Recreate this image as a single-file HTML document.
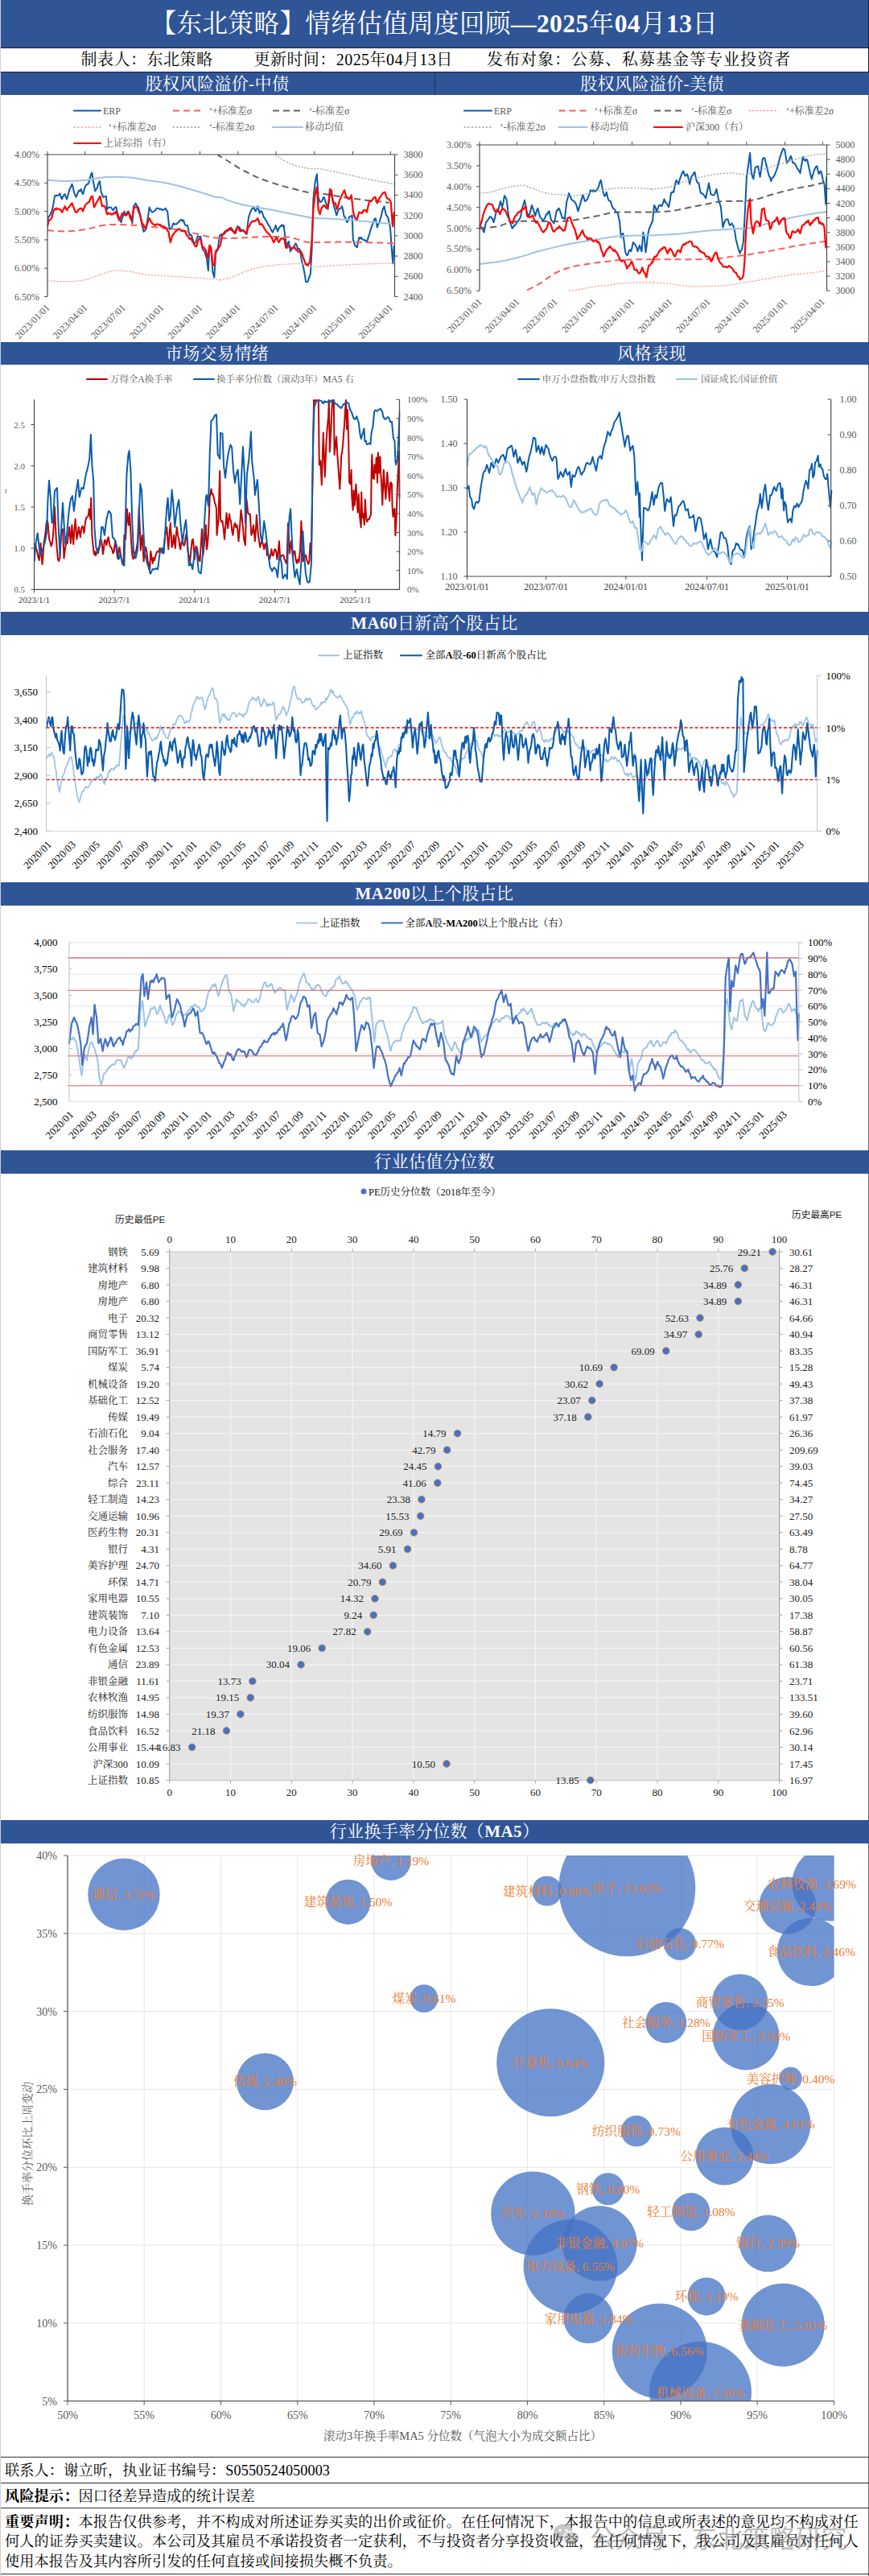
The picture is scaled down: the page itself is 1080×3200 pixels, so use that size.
<!DOCTYPE html>
<html lang="zh"><head><meta charset="utf-8"><title>情绪估值周度回顾</title>
<style>
html,body{margin:0;padding:0;background:#fff}
body{width:1080px;height:3200px;position:relative;overflow:hidden;font-family:"Liberation Serif","Noto Serif CJK SC",serif;color:#000}
.bar{position:absolute;background:#2F5597;color:#fff;text-align:center;white-space:nowrap;letter-spacing:0.4px}
.bar b{font-weight:bold}
.hl{position:absolute;left:0;width:1080px;height:1px;background:#1a1a2a}
.info{position:absolute;top:60px;height:29px;line-height:29px;font-size:20px;white-space:nowrap;letter-spacing:0.5px}
.ft{position:absolute;left:6px;font-size:18.2px;white-space:nowrap;letter-spacing:0.1px}
.edgeL{position:absolute;left:0;top:0;width:1px;height:3200px;background:#D0D0D0}
.edgeR{position:absolute;left:1078.8px;top:0;width:1.2px;height:3200px;background:#6a6a6a}
svg text{font-family:"Liberation Serif","Noto Serif CJK SC",serif}
.wm{position:absolute;left:733px;top:3132px;font-size:32px;line-height:44px;color:#6e6e6e;opacity:.45;font-family:"Liberation Sans","Noto Sans CJK SC",sans-serif;white-space:nowrap;letter-spacing:0.3px}
</style></head><body>
<div class="edgeR"></div>
<div class="bar" style="left:0;top:0;width:1080px;height:59px;line-height:60px;font-size:31.5px;letter-spacing:0.45px">【东北策略】情绪估值周度回顾<b>—2025</b>年<b>04</b>月<b>13</b>日</div>
<div class="hl" style="top:59px"></div>
<div class="hl" style="top:89px"></div>
<div class="info" style="left:100.5px">制表人：东北策略</div>
<div class="info" style="left:315.5px;letter-spacing:0.45px">更新时间：2025年04月13日</div>
<div class="info" style="left:605px;letter-spacing:1px">发布对象：公募、私募基金等专业投资者</div>
<div class="bar" style="left:0px;top:90px;width:540px;height:28px;line-height:28px;font-size:21px">股权风险溢价-中债</div>
<div class="bar" style="left:541px;top:90px;width:539px;height:28px;line-height:28px;font-size:21px">股权风险溢价-美债</div>
<div style="position:absolute;left:540px;top:90px;width:1px;height:28px;background:#1b2f55"></div>
<div class="bar" style="left:0px;top:425px;width:540px;height:28px;line-height:28px;font-size:21px">市场交易情绪</div>
<div class="bar" style="left:540px;top:425px;width:540px;height:28px;line-height:28px;font-size:21px">风格表现</div>
<div class="bar" style="left:0px;top:760px;width:1080px;height:29px;line-height:29px;font-size:21px"><b>MA60</b>日新高个股占比</div>
<div class="bar" style="left:0px;top:1096px;width:1080px;height:29px;line-height:29px;font-size:21px"><b>MA200</b>以上个股占比</div>
<div class="bar" style="left:0px;top:1429px;width:1080px;height:28.5px;line-height:28.5px;font-size:21px">行业估值分位数</div>
<div class="bar" style="left:0px;top:2261px;width:1080px;height:28.5px;line-height:28.5px;font-size:21px">行业换手率分位数（<b>MA5</b>）</div>
<svg width="1080" height="3200" viewBox="0 0 1080 3200" style="position:absolute;left:0;top:0">
<defs>
<clipPath id="cp1"><rect x="59" y="192" width="431.5" height="177"/></clipPath>
<clipPath id="cp2"><rect x="596" y="180" width="431.5" height="182"/></clipPath>
<clipPath id="cp3"><rect x="42.5" y="496.3" width="455" height="237"/></clipPath>
<clipPath id="cpb"><rect x="84" y="2305" width="952.5" height="677.7"/></clipPath>
</defs>
<g clip-path="url(#cp1)">
<path d="M59.0,273.6 L60.5,269.5 L62.0,267.4 L63.2,265.0 L64.5,261.4 L65.7,257.4 L67.0,249.6 L68.2,242.9 L69.5,242.9 L70.7,242.8 L72.0,242.9 L73.2,242.1 L74.5,240.4 L75.7,244.7 L77.0,247.4 L78.2,244.2 L79.5,241.9 L80.7,241.2 L82.0,245.2 L83.2,247.4 L84.8,241.0 L86.5,234.9 L88.0,232.5 L89.5,228.7 L90.7,232.5 L92.0,238.7 L93.2,241.7 L94.5,244.9 L95.7,242.4 L97.0,238.7 L98.2,236.6 L99.5,237.5 L100.7,234.9 L101.9,239.1 L103.2,241.2 L104.4,236.2 L105.7,232.5 L106.9,229.9 L108.2,228.8 L109.4,228.8 L110.7,226.2 L111.9,220.9 L113.2,216.2 L114.4,214.5 L115.7,225.0 L116.9,230.5 L118.2,237.4 L119.4,235.3 L120.7,233.7 L122.3,228.1 L123.9,225.0 L125.7,238.7 L126.9,241.1 L128.2,244.9 L129.4,244.3 L130.7,244.1 L131.9,243.7 L133.2,259.9 L134.4,258.3 L135.7,257.4 L136.9,257.4 L138.2,257.8 L139.4,259.8 L140.7,261.2 L141.9,259.3 L143.2,257.2 L144.4,257.4 L145.6,263.2 L146.9,267.4 L148.1,270.5 L149.4,273.6 L150.6,276.1 L151.9,270.8 L153.1,268.2 L154.4,262.4 L155.6,265.9 L156.9,267.4 L158.1,263.9 L159.4,262.4 L160.6,264.4 L161.9,268.0 L163.1,269.9 L164.4,277.4 L166.1,256.2 L167.4,254.9 L168.6,252.4 L170.2,256.2 L171.9,257.4 L173.1,262.2 L174.4,267.4 L175.6,275.0 L176.9,281.1 L178.6,287.9 L180.2,286.3 L181.9,283.6 L183.1,274.5 L184.4,266.3 L185.6,257.4 L186.9,260.6 L188.1,262.6 L189.3,263.7 L190.6,262.8 L191.8,262.3 L193.1,261.2 L194.3,258.9 L195.6,258.7 L196.8,258.7 L198.1,260.2 L199.3,259.7 L200.6,259.5 L201.8,261.2 L203.1,260.5 L204.3,260.1 L205.6,258.7 L206.8,261.0 L208.1,262.4 L209.3,273.4 L210.6,284.9 L211.8,284.1 L213.1,283.6 L214.3,280.5 L215.6,277.4 L216.8,278.7 L218.1,278.3 L219.3,278.6 L220.6,277.1 L221.8,276.1 L223.1,274.9 L224.3,273.1 L225.6,272.8 L226.8,274.6 L228.1,273.6 L229.3,278.1 L230.6,279.9 L231.8,280.2 L233.0,279.9 L234.3,285.9 L235.5,292.4 L236.8,291.3 L238.0,292.4 L239.3,296.8 L240.5,301.1 L241.8,302.7 L243.0,301.1 L244.3,298.1 L245.5,293.6 L246.8,293.8 L248.0,294.8 L249.3,293.6 L250.5,301.2 L251.8,309.9 L253.0,311.1 L254.3,312.4 L255.5,317.3 L256.8,319.8 L258.8,336.1 L260.5,304.9 L262.3,309.9 L264.3,337.3 L266.3,344.8 L268.0,314.9 L269.3,312.6 L270.5,309.9 L271.8,301.0 L273.0,292.4 L274.0,292.4 L275.2,290.8 L276.5,290.9 L277.7,289.9 L279.0,290.4 L280.2,286.7 L281.5,287.4 L282.7,287.0 L284.0,285.8 L285.2,283.6 L286.5,285.6 L287.7,286.0 L289.0,286.1 L290.2,288.3 L291.5,288.7 L292.7,289.9 L294.0,285.7 L295.2,281.1 L296.5,282.2 L297.7,282.3 L299.0,284.9 L300.2,286.8 L301.5,286.8 L302.7,287.4 L304.0,287.7 L305.2,289.9 L306.5,291.1 L307.7,280.5 L309.0,269.9 L310.2,266.2 L311.5,262.8 L312.7,259.9 L314.0,258.8 L315.2,257.4 L316.5,260.3 L317.7,262.4 L318.9,259.6 L320.2,256.2 L321.4,260.4 L322.7,264.9 L323.9,262.3 L325.2,262.4 L326.4,265.5 L327.7,269.9 L328.9,270.6 L330.2,273.5 L331.4,274.9 L332.7,278.0 L333.9,279.9 L335.2,281.1 L336.4,284.5 L337.7,287.0 L338.9,288.6 L340.2,285.1 L341.4,283.7 L342.7,279.9 L343.9,284.1 L345.2,287.4 L346.4,284.1 L347.7,281.9 L348.9,281.1 L350.2,279.2 L351.4,281.1 L352.7,279.9 L354.4,294.9 L356.4,306.1 L357.7,302.3 L358.9,299.9 L360.9,312.4 L362.4,309.3 L363.9,308.6 L365.1,306.9 L366.4,304.0 L367.6,302.4 L368.9,305.0 L370.1,309.9 L371.4,308.8 L372.6,309.9 L373.9,317.4 L375.1,324.8 L376.4,329.0 L377.6,334.8 L378.9,341.8 L380.1,349.8 L381.4,350.5 L382.6,349.8 L384.2,344.7 L385.9,339.8 L387.6,309.9 L389.4,247.4 L391.4,227.5 L392.6,221.4 L393.9,216.2 L395.6,244.9 L397.6,251.2 L398.9,250.5 L400.1,249.9 L401.4,246.1 L402.6,244.9 L403.9,248.4 L405.1,252.4 L406.3,256.0 L407.6,259.9 L408.8,248.7 L410.1,238.7 L411.3,240.8 L412.6,244.9 L413.8,251.5 L415.1,256.2 L416.7,261.8 L418.3,267.4 L419.8,262.9 L421.3,259.9 L422.6,259.0 L423.8,258.4 L425.1,256.2 L426.3,261.3 L427.6,268.7 L428.8,269.8 L430.1,272.7 L431.3,276.1 L432.6,274.3 L433.8,270.2 L435.1,268.7 L436.3,268.7 L437.6,267.4 L438.8,297.4 L440.1,301.6 L441.3,304.9 L442.6,306.2 L443.8,307.4 L445.1,300.5 L446.3,294.9 L447.6,296.4 L448.8,294.9 L450.0,297.0 L451.3,297.4 L452.5,298.6 L453.8,298.2 L455.0,299.9 L456.3,299.9 L457.5,295.4 L458.8,291.7 L460.0,287.4 L461.3,283.2 L462.5,280.2 L463.8,276.1 L465.3,272.4 L466.8,271.2 L468.8,282.4 L470.0,278.5 L471.3,277.0 L472.5,272.4 L473.8,268.3 L475.0,262.4 L476.3,258.8 L477.5,256.2 L478.8,262.6 L480.0,267.4 L481.3,268.7 L482.5,271.2 L483.8,277.8 L485.0,282.4 L486.8,309.9 L488.3,327.3 L489.5,307.4 L490.3,304.9" fill="none" stroke="#0A5CAD" stroke-width="2" stroke-linejoin="round" stroke-linecap="round"/>
<path d="M342.7,192.5 C343.7,193.2 345.8,195.1 348.9,197.0 C352.0,198.9 357.2,202.0 361.4,203.7 C365.6,205.5 369.7,206.5 373.9,207.5 C378.0,208.4 382.2,209.1 386.4,209.5 C390.5,209.9 392.6,209.1 398.9,210.0 C405.1,210.9 415.5,213.2 423.8,215.0 C432.2,216.8 440.5,218.9 448.8,220.7 C457.1,222.5 466.9,224.4 473.8,225.7 C480.7,227.0 487.5,228.2 490.3,228.7" fill="none" stroke="#ADADAD" stroke-width="1.4" stroke-linecap="round" stroke-dasharray="1.2 2.8"/>
<path d="M59.0,348.6 C62.8,348.8 74.0,350.0 82.0,349.8 C90.0,349.6 98.6,349.2 106.9,347.3 C115.3,345.4 125.7,340.4 131.9,338.6 C138.2,336.7 139.4,336.3 144.4,336.1 C149.4,335.9 155.6,336.5 161.9,337.3 C168.1,338.2 174.4,340.2 181.9,341.1 C189.3,342.0 198.5,342.3 206.8,342.8 C215.2,343.4 223.5,343.8 231.8,344.3 C240.1,344.9 249.8,345.5 256.8,346.1 C263.8,346.6 270.9,347.5 273.8,347.8 C276.6,348.1 271.9,348.3 274.0,347.8 C276.1,347.3 282.3,346.1 286.5,344.8 C290.6,343.5 294.8,341.5 299.0,339.8 C303.1,338.2 307.3,336.2 311.5,334.8 C315.6,333.5 317.7,332.9 323.9,331.8 C330.2,330.8 340.6,329.3 348.9,328.6 C357.2,327.9 367.6,327.4 373.9,327.8 C380.1,328.3 382.2,330.5 386.4,331.1 C390.5,331.6 392.6,331.4 398.9,331.1 C405.1,330.8 415.5,329.8 423.8,329.3 C432.2,328.8 440.5,328.4 448.8,328.1 C457.1,327.8 466.9,327.5 473.8,327.3 C480.7,327.1 487.5,326.9 490.3,326.8" fill="none" stroke="#FFA3A3" stroke-width="1.4" stroke-linecap="round" stroke-dasharray="1.2 2.8"/>
<path d="M270.5,192.5 C271.0,192.8 273.2,194.2 273.8,194.5 C274.3,194.8 271.9,193.2 274.0,194.5 C276.1,195.7 282.3,199.4 286.5,202.0 C290.6,204.6 294.8,207.6 299.0,210.0 C303.1,212.3 307.3,214.2 311.5,216.2 C315.6,218.2 317.7,219.6 323.9,222.0 C330.2,224.3 340.6,228.0 348.9,230.4 C357.2,232.9 367.6,235.4 373.9,236.9 C380.1,238.4 382.2,238.9 386.4,239.4 C390.5,240.0 392.6,239.6 398.9,240.4 C405.1,241.3 415.5,243.2 423.8,244.4 C432.2,245.7 442.6,247.1 448.8,247.9 C455.0,248.8 457.1,249.0 461.3,249.4 C465.4,249.8 470.0,250.0 473.8,250.4 C477.5,250.8 482.1,251.7 483.8,251.9" fill="none" stroke="#636363" stroke-width="2" stroke-linecap="butt" stroke-dasharray="8 5"/>
<path d="M59.0,286.1 C62.8,286.3 74.0,287.6 82.0,287.4 C90.0,287.2 98.6,286.2 106.9,284.9 C115.3,283.6 122.8,280.3 131.9,279.4 C141.1,278.5 153.6,279.1 161.9,279.4 C170.2,279.7 174.4,280.4 181.9,281.1 C189.3,281.8 198.5,282.6 206.8,283.6 C215.2,284.7 223.5,285.7 231.8,287.4 C240.1,289.0 249.8,292.2 256.8,293.6 C263.8,295.1 270.9,295.7 273.8,296.1 C276.6,296.5 269.8,296.2 274.0,296.1 C278.2,296.0 290.6,296.0 299.0,295.6 C307.3,295.3 315.6,294.4 323.9,294.1 C332.3,293.9 342.7,294.0 348.9,294.1 C355.2,294.2 357.2,294.1 361.4,294.9 C365.6,295.6 370.1,297.6 373.9,298.6 C377.6,299.7 379.7,300.7 383.9,301.1 C388.0,301.5 392.2,301.2 398.9,301.1 C405.5,301.0 415.5,300.6 423.8,300.6 C432.2,300.6 440.5,300.9 448.8,301.1 C457.1,301.3 466.9,301.4 473.8,301.6 C480.7,301.8 487.5,302.2 490.3,302.4" fill="none" stroke="#FF5C5C" stroke-width="2" stroke-linecap="butt" stroke-dasharray="8 5"/>
<path d="M59.0,223.7 C62.8,223.9 74.0,225.0 82.0,225.0 C90.0,225.0 98.6,224.5 106.9,223.7 C115.3,222.9 122.8,220.5 131.9,220.0 C141.1,219.4 153.6,219.8 161.9,220.5 C170.2,221.1 174.4,222.5 181.9,223.7 C189.3,224.9 198.5,225.8 206.8,227.5 C215.2,229.1 223.5,231.4 231.8,233.7 C240.1,236.0 250.5,239.3 256.8,241.2 C263.0,243.1 266.4,244.3 269.3,244.9 C272.1,245.6 273.0,244.9 273.8,244.9 C274.5,244.9 271.9,244.1 274.0,244.9 C276.1,245.8 282.3,248.5 286.5,249.9 C290.6,251.4 294.8,252.6 299.0,253.7 C303.1,254.7 307.3,255.4 311.5,256.2 C315.6,256.9 317.7,257.0 323.9,258.2 C330.2,259.3 340.6,261.3 348.9,262.9 C357.2,264.5 367.6,266.7 373.9,267.9 C380.1,269.2 382.2,269.9 386.4,270.4 C390.5,270.9 392.6,270.8 398.9,271.2 C405.1,271.5 415.5,271.9 423.8,272.4 C432.2,272.9 440.5,273.6 448.8,274.4 C457.1,275.1 466.9,276.3 473.8,276.9 C480.7,277.5 487.5,277.7 490.3,277.9" fill="none" stroke="#9DC3E6" stroke-width="2" stroke-linecap="round"/>
<path d="M59.0,281.1 L60.7,273.6 L62.0,273.6 L63.2,272.3 L64.5,269.9 L65.7,264.6 L67.0,261.2 L68.2,259.2 L69.5,260.4 L70.7,258.7 L72.0,259.7 L73.2,260.0 L74.5,259.9 L75.7,261.3 L77.0,263.7 L78.2,261.4 L79.5,258.9 L80.7,256.2 L82.0,258.9 L83.2,261.2 L84.5,258.4 L85.7,257.4 L87.0,255.6 L88.2,253.8 L89.5,252.4 L90.7,256.1 L92.0,258.7 L93.2,262.4 L94.5,263.7 L95.7,263.6 L97.0,261.3 L98.2,259.9 L99.5,259.1 L100.7,258.7 L101.9,260.0 L103.2,262.4 L104.4,258.4 L105.7,255.5 L106.9,253.7 L108.2,252.7 L109.4,251.5 L110.7,251.2 L111.9,247.8 L113.2,244.9 L114.9,243.7 L116.9,257.4 L118.2,255.9 L119.4,252.4 L120.9,250.0 L122.4,247.4 L124.4,243.7 L125.7,250.0 L126.9,256.2 L128.2,255.9 L129.4,255.7 L130.7,257.4 L131.9,261.4 L133.2,266.2 L134.4,264.7 L135.7,265.4 L136.9,264.9 L138.2,266.7 L139.4,266.2 L140.7,266.2 L141.9,264.1 L143.2,264.7 L144.4,262.4 L145.6,266.8 L146.9,270.4 L148.1,273.6 L149.4,271.7 L150.6,268.4 L151.9,264.9 L153.1,266.5 L154.4,266.2 L155.6,267.4 L156.9,267.4 L158.1,266.1 L159.4,263.7 L160.6,266.2 L161.9,270.9 L163.1,273.6 L164.4,268.7 L165.6,262.7 L166.9,257.4 L168.1,257.5 L169.4,257.4 L170.6,257.4 L171.9,262.1 L173.1,264.9 L174.4,268.7 L175.6,273.7 L176.9,277.4 L178.1,279.1 L179.4,282.5 L180.6,283.6 L181.9,281.4 L183.1,277.4 L184.4,274.2 L185.6,271.2 L186.9,273.4 L188.1,276.4 L189.3,277.4 L190.6,278.8 L191.8,279.0 L193.1,279.9 L194.3,278.7 L195.6,278.6 L196.8,278.6 L198.1,279.8 L199.3,279.0 L200.6,281.6 L201.8,281.1 L203.1,281.1 L204.3,283.5 L205.6,282.5 L206.8,283.6 L208.1,286.7 L209.3,287.4 L210.6,294.7 L211.8,301.1 L213.1,296.8 L214.3,292.4 L215.6,290.8 L216.8,289.4 L218.1,287.4 L219.3,286.8 L220.6,285.2 L221.8,284.9 L223.1,284.4 L224.3,285.5 L225.6,287.0 L226.8,286.1 L228.1,287.3 L229.3,286.7 L230.6,288.6 L231.8,291.5 L233.0,293.4 L234.3,294.9 L235.5,296.8 L236.8,295.7 L238.0,297.4 L239.3,300.5 L240.5,301.3 L241.8,304.9 L243.0,305.9 L244.3,306.1 L245.5,301.2 L246.8,297.4 L248.0,296.6 L249.3,297.4 L250.5,303.2 L251.8,307.4 L253.0,307.1 L254.3,309.1 L255.5,309.9 L256.8,316.2 L258.0,321.1 L259.3,312.5 L260.5,304.9 L262.3,307.4 L264.3,328.6 L266.3,329.8 L268.0,312.4 L269.3,310.0 L270.5,310.0 L271.8,307.4 L273.8,304.9 L274.0,303.6 L275.2,297.2 L276.5,291.1 L277.7,290.9 L279.0,288.2 L280.2,288.6 L281.5,287.0 L282.7,285.3 L284.0,284.9 L285.2,284.9 L286.5,282.9 L287.7,283.6 L289.0,286.8 L290.2,286.6 L291.5,289.9 L292.7,287.9 L294.0,283.7 L295.2,282.4 L296.5,283.4 L297.7,286.5 L299.0,287.4 L300.2,286.0 L301.5,285.7 L302.7,286.1 L304.0,287.9 L305.2,288.3 L306.5,289.9 L307.7,284.5 L309.0,281.1 L310.2,280.7 L311.5,276.9 L312.7,276.1 L314.0,274.5 L315.2,274.9 L316.5,274.9 L317.7,273.9 L318.9,273.0 L320.2,271.2 L321.4,274.0 L322.7,278.6 L323.9,278.6 L325.2,278.2 L326.4,279.9 L327.7,281.8 L328.9,284.7 L330.2,286.1 L331.4,288.0 L332.7,289.7 L333.9,289.9 L335.2,292.2 L336.4,294.1 L337.7,294.9 L338.9,298.5 L340.2,301.1 L341.4,299.0 L342.7,296.3 L343.9,294.9 L345.2,298.4 L346.4,301.1 L347.7,299.0 L348.9,296.8 L350.2,296.1 L351.8,296.6 L353.4,297.4 L355.2,307.4 L356.4,308.0 L357.7,305.5 L358.9,306.1 L360.2,307.2 L361.4,307.5 L362.6,308.6 L363.9,308.2 L365.1,306.8 L366.4,307.4 L367.6,310.2 L368.9,310.1 L370.1,312.4 L371.4,312.7 L372.6,312.1 L373.9,312.4 L375.4,315.0 L376.9,319.8 L378.5,324.3 L380.1,328.6 L381.4,328.2 L382.6,329.8 L383.9,326.9 L385.1,326.1 L386.4,311.0 L387.6,297.4 L389.4,259.9 L391.4,242.4 L392.6,236.7 L393.9,232.4 L395.6,259.9 L397.6,266.2 L398.9,260.9 L400.1,257.4 L401.4,256.5 L402.6,254.9 L404.2,256.8 L405.8,258.7 L407.1,256.7 L408.3,252.4 L410.1,234.9 L411.8,236.2 L413.8,249.9 L415.3,252.3 L416.8,252.4 L418.8,259.9 L420.1,256.6 L421.3,251.2 L422.6,247.6 L423.8,245.2 L425.1,242.4 L426.6,238.7 L428.1,236.2 L430.1,243.7 L431.3,245.2 L432.6,246.5 L433.8,247.4 L435.3,245.7 L436.8,242.4 L438.8,262.4 L440.8,269.9 L442.3,271.7 L443.8,272.4 L445.1,267.5 L446.3,263.7 L447.6,263.9 L448.8,264.6 L450.0,264.9 L451.3,261.8 L452.5,261.2 L454.2,261.2 L455.8,263.7 L457.3,257.2 L458.8,251.2 L460.0,249.3 L461.3,250.1 L462.5,248.7 L463.8,246.8 L465.0,245.1 L466.3,244.9 L467.5,248.0 L468.8,252.4 L470.0,249.3 L471.3,246.7 L472.5,244.9 L474.1,242.5 L475.8,239.9 L477.0,239.2 L478.3,238.7 L479.5,242.0 L480.8,246.2 L482.3,247.2 L483.8,247.4 L485.8,251.2 L487.5,274.9 L488.3,281.1 L489.5,264.9 L490.3,263.7" fill="none" stroke="#FF0000" stroke-width="2.2" stroke-linejoin="round" stroke-linecap="round"/>
</g>
<line x1="59.0" y1="192.0" x2="59.0" y2="368.5" stroke="#4a4a4a" stroke-width="1.2"/>
<line x1="490.5" y1="192.0" x2="490.5" y2="368.5" stroke="#4a4a4a" stroke-width="1.2"/>
<line x1="59.0" y1="192.0" x2="490.5" y2="192.0" stroke="#4a4a4a" stroke-width="1.2"/>
<line x1="59.0" y1="188.0" x2="59.0" y2="192.0" stroke="#4a4a4a" stroke-width="1"/>
<line x1="105.7" y1="188.0" x2="105.7" y2="192.0" stroke="#4a4a4a" stroke-width="1"/>
<line x1="153.0" y1="188.0" x2="153.0" y2="192.0" stroke="#4a4a4a" stroke-width="1"/>
<line x1="200.8" y1="188.0" x2="200.8" y2="192.0" stroke="#4a4a4a" stroke-width="1"/>
<line x1="248.5" y1="188.0" x2="248.5" y2="192.0" stroke="#4a4a4a" stroke-width="1"/>
<line x1="295.8" y1="188.0" x2="295.8" y2="192.0" stroke="#4a4a4a" stroke-width="1"/>
<line x1="343.0" y1="188.0" x2="343.0" y2="192.0" stroke="#4a4a4a" stroke-width="1"/>
<line x1="390.8" y1="188.0" x2="390.8" y2="192.0" stroke="#4a4a4a" stroke-width="1"/>
<line x1="438.6" y1="188.0" x2="438.6" y2="192.0" stroke="#4a4a4a" stroke-width="1"/>
<line x1="485.3" y1="188.0" x2="485.3" y2="192.0" stroke="#4a4a4a" stroke-width="1"/>
<line x1="55.0" y1="192.0" x2="59.0" y2="192.0" stroke="#4a4a4a" stroke-width="1"/>
<line x1="55.0" y1="227.3" x2="59.0" y2="227.3" stroke="#4a4a4a" stroke-width="1"/>
<line x1="55.0" y1="262.6" x2="59.0" y2="262.6" stroke="#4a4a4a" stroke-width="1"/>
<line x1="55.0" y1="297.9" x2="59.0" y2="297.9" stroke="#4a4a4a" stroke-width="1"/>
<line x1="55.0" y1="333.2" x2="59.0" y2="333.2" stroke="#4a4a4a" stroke-width="1"/>
<line x1="55.0" y1="368.5" x2="59.0" y2="368.5" stroke="#4a4a4a" stroke-width="1"/>
<line x1="490.5" y1="192.0" x2="494.5" y2="192.0" stroke="#4a4a4a" stroke-width="1"/>
<line x1="490.5" y1="217.2" x2="494.5" y2="217.2" stroke="#4a4a4a" stroke-width="1"/>
<line x1="490.5" y1="242.4" x2="494.5" y2="242.4" stroke="#4a4a4a" stroke-width="1"/>
<line x1="490.5" y1="267.6" x2="494.5" y2="267.6" stroke="#4a4a4a" stroke-width="1"/>
<line x1="490.5" y1="292.9" x2="494.5" y2="292.9" stroke="#4a4a4a" stroke-width="1"/>
<line x1="490.5" y1="318.1" x2="494.5" y2="318.1" stroke="#4a4a4a" stroke-width="1"/>
<line x1="490.5" y1="343.3" x2="494.5" y2="343.3" stroke="#4a4a4a" stroke-width="1"/>
<line x1="490.5" y1="368.5" x2="494.5" y2="368.5" stroke="#4a4a4a" stroke-width="1"/>
<text x="49.0" y="196.0" font-size="12" fill="#595959" text-anchor="end">4.00%</text>
<text x="49.0" y="231.3" font-size="12" fill="#595959" text-anchor="end">4.50%</text>
<text x="49.0" y="266.6" font-size="12" fill="#595959" text-anchor="end">5.00%</text>
<text x="49.0" y="301.9" font-size="12" fill="#595959" text-anchor="end">5.50%</text>
<text x="49.0" y="337.2" font-size="12" fill="#595959" text-anchor="end">6.00%</text>
<text x="49.0" y="372.5" font-size="12" fill="#595959" text-anchor="end">6.50%</text>
<text x="501.5" y="196.0" font-size="12" fill="#595959">3800</text>
<text x="501.5" y="221.2" font-size="12" fill="#595959">3600</text>
<text x="501.5" y="246.4" font-size="12" fill="#595959">3400</text>
<text x="501.5" y="271.6" font-size="12" fill="#595959">3200</text>
<text x="501.5" y="296.9" font-size="12" fill="#595959">3000</text>
<text x="501.5" y="322.1" font-size="12" fill="#595959">2800</text>
<text x="501.5" y="347.3" font-size="12" fill="#595959">2600</text>
<text x="501.5" y="372.5" font-size="12" fill="#595959">2400</text>
<text x="62.5" y="383.0" font-size="12" fill="#595959" text-anchor="end" transform="rotate(-45 62.5 383.0)">2023/01/01</text>
<text x="109.2" y="383.0" font-size="12" fill="#595959" text-anchor="end" transform="rotate(-45 109.2 383.0)">2023/04/01</text>
<text x="156.5" y="383.0" font-size="12" fill="#595959" text-anchor="end" transform="rotate(-45 156.5 383.0)">2023/07/01</text>
<text x="204.3" y="383.0" font-size="12" fill="#595959" text-anchor="end" transform="rotate(-45 204.3 383.0)">2023/10/01</text>
<text x="252.0" y="383.0" font-size="12" fill="#595959" text-anchor="end" transform="rotate(-45 252.0 383.0)">2024/01/01</text>
<text x="299.3" y="383.0" font-size="12" fill="#595959" text-anchor="end" transform="rotate(-45 299.3 383.0)">2024/04/01</text>
<text x="346.5" y="383.0" font-size="12" fill="#595959" text-anchor="end" transform="rotate(-45 346.5 383.0)">2024/07/01</text>
<text x="394.3" y="383.0" font-size="12" fill="#595959" text-anchor="end" transform="rotate(-45 394.3 383.0)">2024/10/01</text>
<text x="442.1" y="383.0" font-size="12" fill="#595959" text-anchor="end" transform="rotate(-45 442.1 383.0)">2025/01/01</text>
<text x="488.8" y="383.0" font-size="12" fill="#595959" text-anchor="end" transform="rotate(-45 488.8 383.0)">2025/04/01</text>
<path d="M92.0,137.5 L125.0,137.5" fill="none" stroke="#0A5CAD" stroke-width="2" stroke-linejoin="round" stroke-linecap="round"/>
<text x="128.0" y="141.5" font-size="12" fill="#595959">ERP</text>
<path d="M215.0,137.5 L251.0,137.5" fill="none" stroke="#FF5C5C" stroke-width="2" stroke-linejoin="round" stroke-linecap="butt" stroke-dasharray="8 5"/>
<text x="260.0" y="141.5" font-size="12" fill="#595959">‘+标准差σ</text>
<path d="M339.0,137.5 L376.0,137.5" fill="none" stroke="#636363" stroke-width="2" stroke-linejoin="round" stroke-linecap="butt" stroke-dasharray="8 5"/>
<text x="384.0" y="141.5" font-size="12" fill="#595959">‘-标准差σ</text>
<path d="M92.0,158.0 L125.0,158.0" fill="none" stroke="#FF9C9C" stroke-width="1.5" stroke-linejoin="round" stroke-linecap="round" stroke-dasharray="1.5 3"/>
<text x="135.0" y="162.0" font-size="12" fill="#595959">‘+标准差2σ</text>
<path d="M215.0,158.0 L251.0,158.0" fill="none" stroke="#A6A6A6" stroke-width="1.5" stroke-linejoin="round" stroke-linecap="round" stroke-dasharray="1.5 3"/>
<text x="260.0" y="162.0" font-size="12" fill="#595959">‘-标准差2σ</text>
<path d="M339.0,158.0 L376.0,158.0" fill="none" stroke="#9DC3E6" stroke-width="2" stroke-linejoin="round" stroke-linecap="round"/>
<text x="379.0" y="162.0" font-size="12" fill="#595959">移动均值</text>
<path d="M92.0,178.0 L125.0,178.0" fill="none" stroke="#FF0000" stroke-width="2" stroke-linejoin="round" stroke-linecap="round"/>
<text x="129.0" y="182.0" font-size="12" fill="#595959">上证综指（右）</text>
<g clip-path="url(#cp2)">
<path d="M596.0,284.9 L597.5,282.7 L599.0,282.4 L600.2,285.6 L601.5,288.6 L602.7,282.0 L604.0,276.1 L605.2,274.8 L606.5,273.2 L607.7,271.1 L609.0,269.0 L610.2,269.9 L611.9,271.5 L613.5,276.1 L615.0,270.8 L616.5,263.6 L617.7,262.2 L619.0,262.4 L620.5,255.4 L622.0,249.9 L624.0,257.4 L625.5,251.5 L627.0,242.9 L628.2,245.1 L629.5,247.4 L631.5,263.6 L632.7,270.8 L634.0,276.1 L635.2,279.8 L636.5,283.6 L637.7,282.8 L638.9,280.0 L640.2,279.9 L641.4,277.8 L642.7,274.9 L643.9,274.9 L645.2,272.5 L646.4,271.1 L647.9,264.9 L649.4,257.4 L650.7,253.5 L651.9,248.7 L653.2,254.4 L654.4,262.4 L656.1,266.3 L657.7,268.6 L659.3,262.0 L660.9,254.9 L662.7,259.9 L663.9,263.7 L665.2,268.6 L666.8,262.3 L668.4,258.7 L669.9,265.3 L671.4,269.9 L672.7,271.0 L673.9,273.1 L675.2,273.6 L676.4,272.3 L677.7,269.3 L678.9,266.1 L680.2,266.3 L681.4,263.3 L682.6,262.4 L683.9,268.8 L685.1,273.6 L686.8,275.3 L688.4,277.4 L690.1,270.4 L691.9,261.2 L693.1,261.2 L694.4,258.7 L695.6,260.6 L696.9,264.9 L698.9,271.1 L700.4,270.5 L701.9,272.4 L703.1,260.6 L704.4,249.9 L705.6,246.2 L706.9,239.9 L708.5,243.5 L710.1,247.4 L711.7,249.1 L713.4,249.9 L714.9,251.8 L716.4,254.9 L718.4,262.4 L719.9,257.4 L721.4,252.4 L722.9,247.1 L724.4,242.4 L725.6,245.7 L726.8,249.9 L728.5,249.0 L730.1,247.4 L731.3,243.9 L732.6,241.1 L733.8,236.2 L735.1,236.8 L736.3,237.7 L737.6,236.2 L738.8,237.5 L740.1,237.9 L741.3,236.2 L742.6,234.9 L743.8,232.4 L745.3,227.1 L746.8,223.7 L748.8,234.9 L750.1,240.3 L751.3,243.7 L752.6,242.6 L753.8,238.7 L755.1,244.8 L756.3,248.7 L757.6,249.5 L758.8,249.9 L760.3,254.9 L761.8,258.7 L763.4,259.6 L765.1,262.4 L766.3,264.2 L767.6,263.6 L768.8,269.5 L770.0,274.9 L771.8,294.9 L773.0,291.7 L774.3,289.9 L775.5,299.5 L776.8,311.1 L778.0,315.3 L779.3,317.3 L780.5,315.7 L781.8,311.1 L783.0,310.3 L784.3,312.3 L785.5,307.5 L786.8,301.1 L788.4,302.7 L790.0,304.9 L791.3,307.6 L792.5,312.3 L793.8,308.0 L795.0,304.9 L796.3,309.4 L797.5,312.3 L799.3,288.6 L800.8,294.9 L802.5,313.6 L803.8,303.8 L805.0,292.4 L806.3,286.1 L807.5,282.4 L809.1,279.0 L810.8,274.9 L811.0,274.9 L813.0,254.9 L814.5,257.3 L816.0,262.4 L817.5,259.3 L819.0,254.9 L820.6,254.9 L822.2,256.2 L823.9,252.9 L825.5,247.4 L827.0,251.4 L828.5,252.4 L829.7,254.9 L831.0,257.4 L832.5,249.9 L834.0,239.9 L835.6,238.6 L837.2,238.7 L838.8,230.1 L840.5,223.7 L842.0,226.5 L843.5,228.7 L844.7,223.0 L846.0,219.9 L847.5,215.3 L849.0,212.5 L850.2,215.3 L851.5,218.7 L852.7,217.8 L854.0,216.2 L855.6,221.5 L857.2,228.7 L858.4,222.4 L859.7,218.7 L860.9,218.2 L862.2,214.8 L863.4,213.7 L865.4,223.7 L866.9,227.1 L868.4,227.4 L869.7,234.7 L870.9,239.9 L872.4,240.1 L873.9,241.2 L875.6,243.5 L877.2,246.2 L878.4,240.0 L879.7,234.1 L880.9,227.4 L882.2,234.5 L883.4,241.2 L884.7,241.8 L885.9,242.4 L887.2,242.4 L888.8,240.0 L890.4,234.9 L891.9,242.4 L893.4,249.9 L894.7,253.5 L895.9,257.4 L897.2,270.3 L898.4,282.4 L899.9,277.2 L901.4,273.6 L903.0,272.3 L904.6,272.4 L905.9,277.5 L907.1,279.9 L908.4,278.7 L909.6,277.4 L910.9,280.0 L912.1,282.4 L913.4,288.7 L914.6,297.4 L915.9,302.1 L917.1,307.3 L918.4,311.3 L919.6,314.8 L920.9,310.9 L922.1,309.8 L923.9,299.9 L925.9,262.4 L927.9,219.9 L929.1,211.5 L930.4,202.5 L932.1,190.0 L933.9,215.0 L935.1,219.1 L936.4,222.4 L937.6,213.9 L938.9,207.5 L940.5,207.3 L942.1,206.2 L943.3,213.0 L944.6,219.9 L946.2,209.1 L947.8,197.5 L949.1,196.3 L950.3,196.2 L951.6,201.8 L952.8,206.2 L954.3,213.1 L955.8,218.7 L957.1,220.4 L958.3,224.9 L959.8,221.0 L961.3,219.9 L963.0,216.7 L964.6,212.5 L966.2,208.1 L967.8,201.2 L969.3,195.5 L970.8,191.2 L972.1,187.7 L973.3,184.5 L975.3,186.2 L976.6,194.6 L977.8,202.5 L979.1,200.6 L980.3,200.0 L981.6,196.4 L982.8,193.7 L984.1,197.6 L985.3,202.5 L986.8,202.6 L988.3,203.7 L989.8,207.1 L991.3,210.0 L992.9,211.8 L994.5,215.0 L996.2,204.7 L997.8,195.0 L999.3,198.3 L1000.8,200.0 L1002.0,197.7 L1003.3,198.7 L1004.8,205.8 L1006.3,212.5 L1007.5,218.1 L1008.8,222.4 L1010.4,216.3 L1012.0,211.2 L1013.6,207.8 L1015.3,206.2 L1016.5,212.0 L1017.8,216.2 L1019.0,213.5 L1020.3,212.5 L1021.5,217.2 L1022.8,223.7 L1024.5,228.7 L1026.3,253.7 L1027.3,219.9" fill="none" stroke="#0A5CAD" stroke-width="2" stroke-linejoin="round" stroke-linecap="round"/>
<path d="M596.0,239.9 C598.2,239.7 604.3,239.6 609.0,238.7 C613.6,237.8 619.0,235.7 624.0,234.4 C629.0,233.2 634.4,231.9 638.9,231.2 C643.5,230.5 647.3,229.8 651.4,230.4 C655.6,231.1 658.9,233.3 663.9,234.9 C668.9,236.6 675.6,239.3 681.4,240.4 C687.2,241.6 693.5,241.5 698.9,241.9 C704.3,242.3 708.5,243.2 713.9,242.9 C719.3,242.7 726.3,241.3 731.3,240.4 C736.3,239.5 739.7,238.3 743.8,237.4 C748.0,236.5 752.2,235.6 756.3,234.9 C760.5,234.3 762.6,233.9 768.8,233.7 C775.0,233.5 786.8,233.5 793.8,233.7 C800.8,233.9 807.9,234.7 810.8,234.9 C813.6,235.1 808.9,235.1 811.0,234.9 C813.1,234.7 819.3,234.3 823.5,233.7 C827.6,233.1 831.8,232.4 836.0,231.2 C840.1,229.9 844.3,227.6 848.5,226.2 C852.6,224.7 856.8,223.6 860.9,222.4 C865.1,221.3 869.3,220.4 873.4,219.4 C877.6,218.5 881.8,217.6 885.9,217.0 C890.1,216.3 894.2,215.8 898.4,215.5 C902.6,215.1 907.6,214.8 910.9,215.0 C914.2,215.1 915.5,216.0 918.4,216.2 C921.3,216.4 924.6,216.6 928.4,216.2 C932.1,215.8 935.4,215.4 940.9,213.7 C946.3,212.0 953.3,208.7 960.8,206.2 C968.3,203.7 977.5,201.0 985.8,198.7 C994.1,196.4 1003.9,193.7 1010.8,192.5 C1017.7,191.2 1024.5,191.4 1027.3,191.2" fill="none" stroke="#ADADAD" stroke-width="1.4" stroke-linecap="round" stroke-dasharray="1.2 2.8"/>
<path d="M707.6,361.0 C709.5,360.8 714.9,360.4 718.9,359.8 C722.8,359.2 727.2,358.0 731.3,357.3 C735.5,356.5 739.7,355.8 743.8,355.3 C748.0,354.8 752.2,354.8 756.3,354.3 C760.5,353.8 764.6,352.8 768.8,352.3 C773.0,351.8 777.1,351.5 781.3,351.3 C785.4,351.1 788.9,351.1 793.8,351.0 C798.7,351.0 807.9,351.0 810.8,351.0 C813.6,351.0 808.9,350.9 811.0,351.0 C813.1,351.2 819.3,351.5 823.5,351.8 C827.6,352.1 831.8,352.3 836.0,352.8 C840.1,353.3 844.3,354.3 848.5,354.8 C852.6,355.3 854.7,356.0 860.9,356.0 C867.2,356.1 879.7,355.5 885.9,355.3 C892.2,355.1 894.2,355.1 898.4,354.8 C902.6,354.5 906.7,354.2 910.9,353.5 C915.0,352.9 919.2,351.8 923.4,351.0 C927.5,350.3 929.6,350.3 935.9,349.3 C942.1,348.3 952.5,346.2 960.8,344.8 C969.2,343.4 977.5,342.1 985.8,341.1 C994.1,340.0 1003.9,339.4 1010.8,338.6 C1017.7,337.7 1024.5,336.5 1027.3,336.1" fill="none" stroke="#FFA3A3" stroke-width="1.4" stroke-linecap="round" stroke-dasharray="1.2 2.8"/>
<path d="M596.0,283.6 C599.8,283.2 613.1,282.3 619.0,281.1 C624.9,280.0 627.3,277.9 631.5,276.9 C635.6,275.8 637.7,275.2 643.9,274.9 C650.2,274.6 660.6,274.9 668.9,274.9 C677.2,274.9 687.6,275.0 693.9,274.9 C700.1,274.8 702.2,274.8 706.4,274.4 C710.5,274.0 712.6,273.5 718.9,272.4 C725.1,271.3 737.6,269.1 743.8,267.9 C750.1,266.6 752.2,265.6 756.3,264.9 C760.5,264.2 762.6,263.9 768.8,263.6 C775.0,263.4 786.8,263.6 793.8,263.6 C800.8,263.6 807.9,263.6 810.8,263.6 C813.6,263.6 808.9,263.8 811.0,263.6 C813.1,263.5 819.3,263.2 823.5,262.9 C827.6,262.6 829.7,262.9 836.0,261.9 C842.2,260.9 852.6,258.6 860.9,256.9 C869.3,255.2 879.7,253.1 885.9,251.9 C892.2,250.7 894.2,250.2 898.4,249.9 C902.6,249.6 905.9,250.0 910.9,249.9 C915.9,249.8 923.4,249.8 928.4,249.4 C933.4,249.0 935.4,248.8 940.9,247.4 C946.3,246.0 953.3,243.3 960.8,241.2 C968.3,239.1 977.5,236.8 985.8,234.9 C994.1,233.1 1003.9,231.4 1010.8,229.9 C1017.7,228.5 1024.5,226.8 1027.3,226.2" fill="none" stroke="#636363" stroke-width="2" stroke-linecap="butt" stroke-dasharray="8 5"/>
<path d="M655.2,360.3 C657.5,359.2 664.5,356.1 668.9,353.5 C673.3,351.0 677.2,347.5 681.4,344.8 C685.6,342.1 689.7,339.3 693.9,337.3 C698.0,335.3 702.2,334.1 706.4,332.8 C710.5,331.6 714.7,330.7 718.9,329.8 C723.0,329.0 727.2,328.4 731.3,327.8 C735.5,327.2 739.7,326.6 743.8,326.1 C748.0,325.6 752.2,325.3 756.3,324.8 C760.5,324.3 762.6,323.5 768.8,323.1 C775.0,322.7 786.8,322.5 793.8,322.3 C800.8,322.2 807.9,322.3 810.8,322.3 C813.6,322.3 806.8,322.3 811.0,322.3 C815.2,322.3 827.6,322.3 836.0,322.3 C844.3,322.3 852.6,322.5 860.9,322.3 C869.3,322.2 879.7,321.9 885.9,321.6 C892.2,321.3 894.2,321.1 898.4,320.6 C902.6,320.1 906.7,319.1 910.9,318.6 C915.0,318.0 919.2,317.9 923.4,317.3 C927.5,316.8 929.6,316.4 935.9,315.3 C942.1,314.3 952.5,312.6 960.8,311.1 C969.2,309.6 977.5,307.6 985.8,306.1 C994.1,304.6 1003.9,302.9 1010.8,301.9 C1017.7,300.8 1024.5,300.2 1027.3,299.9" fill="none" stroke="#FF5C5C" stroke-width="2" stroke-linecap="butt" stroke-dasharray="8 5"/>
<path d="M596.0,327.8 C599.8,327.4 611.0,326.7 619.0,325.3 C627.0,324.0 635.6,322.0 643.9,319.8 C652.3,317.7 660.6,314.6 668.9,312.3 C677.2,310.1 685.6,308.0 693.9,306.1 C702.2,304.2 710.5,302.6 718.9,301.1 C727.2,299.6 735.5,298.1 743.8,296.9 C752.2,295.6 760.5,294.4 768.8,293.6 C777.1,292.9 786.8,292.6 793.8,292.4 C800.8,292.2 807.9,292.4 810.8,292.4 C813.6,292.4 806.8,292.6 811.0,292.4 C815.2,292.2 827.6,291.7 836.0,291.1 C844.3,290.5 852.6,289.5 860.9,288.6 C869.3,287.8 877.6,286.8 885.9,286.1 C894.2,285.4 903.8,284.8 910.9,284.4 C918.0,284.0 924.2,284.0 928.4,283.6 C932.5,283.3 930.4,283.6 935.9,282.4 C941.3,281.1 952.5,278.2 960.8,276.1 C969.2,274.1 977.5,271.7 985.8,269.9 C994.1,268.1 1003.9,266.6 1010.8,265.4 C1017.7,264.2 1024.5,263.3 1027.3,262.9" fill="none" stroke="#9DC3E6" stroke-width="2" stroke-linecap="round"/>
<path d="M596.0,283.6 L597.5,278.0 L599.0,273.6 L600.5,267.1 L602.0,262.4 L603.6,258.4 L605.2,254.9 L606.5,253.5 L607.7,252.8 L609.0,253.7 L610.5,253.7 L612.0,254.4 L613.6,259.5 L615.2,262.4 L616.8,262.0 L618.5,259.9 L620.0,263.7 L621.5,266.1 L623.0,261.7 L624.5,258.7 L626.1,260.0 L627.7,261.2 L629.3,264.3 L631.0,268.6 L632.5,271.6 L634.0,276.1 L635.5,275.6 L637.0,277.4 L638.6,272.3 L640.2,268.6 L641.4,268.1 L642.7,266.2 L643.9,263.6 L645.2,263.7 L646.4,262.8 L647.7,261.2 L649.3,259.6 L650.9,259.9 L652.2,257.5 L653.4,256.2 L655.2,268.6 L656.8,269.6 L658.4,269.9 L660.2,269.3 L661.9,267.4 L663.5,272.0 L665.2,274.9 L666.4,276.8 L667.7,275.4 L668.9,277.4 L670.4,280.8 L671.9,283.6 L673.5,286.6 L675.2,288.6 L676.4,287.4 L677.7,285.2 L678.9,284.9 L680.4,280.4 L681.9,276.1 L683.5,276.9 L685.1,279.9 L686.4,284.7 L687.6,287.4 L688.9,287.6 L690.1,285.8 L691.4,284.9 L692.6,283.1 L693.9,283.5 L695.1,281.1 L696.8,283.2 L698.4,284.9 L700.1,286.6 L701.9,286.1 L703.5,279.4 L705.1,271.1 L706.7,270.5 L708.4,269.9 L709.9,274.1 L711.4,278.6 L712.9,282.0 L714.4,284.9 L716.0,291.0 L717.6,297.4 L719.2,294.0 L720.9,292.4 L722.4,288.7 L723.9,286.1 L725.3,290.6 L726.8,293.6 L728.5,294.2 L730.1,297.4 L731.3,295.6 L732.6,296.9 L733.8,296.1 L735.1,296.7 L736.3,298.7 L737.6,299.9 L738.8,299.4 L740.1,298.6 L741.3,298.6 L742.6,301.2 L743.8,300.3 L745.1,302.4 L746.3,306.5 L747.6,311.1 L748.8,314.1 L750.1,318.6 L751.3,316.4 L752.6,313.0 L753.8,311.1 L755.1,309.0 L756.3,308.4 L757.6,306.1 L758.8,306.8 L760.1,308.8 L761.3,309.8 L762.6,311.8 L763.8,310.4 L765.1,312.3 L766.3,313.3 L767.6,315.8 L768.8,318.6 L770.0,321.4 L771.3,323.1 L772.5,324.8 L774.2,323.4 L775.8,323.6 L777.5,328.2 L779.3,333.6 L780.9,330.8 L782.5,329.8 L783.8,327.2 L785.0,324.8 L786.7,328.7 L788.3,334.8 L789.8,335.4 L791.3,334.8 L792.5,337.6 L793.8,339.4 L795.0,339.8 L796.6,336.7 L798.3,332.3 L799.5,336.6 L800.8,338.6 L802.0,340.5 L803.3,344.8 L804.8,336.9 L806.3,329.8 L807.8,329.4 L809.3,327.3 L810.8,324.8 L811.0,326.1 L812.2,322.1 L813.5,318.6 L815.0,319.2 L816.5,317.3 L818.1,314.5 L819.7,311.1 L821.0,311.2 L822.2,308.8 L823.5,308.6 L825.0,307.1 L826.5,307.3 L828.1,311.0 L829.7,314.8 L831.4,310.8 L833.0,308.6 L834.5,310.8 L836.0,313.6 L837.5,317.3 L839.0,318.6 L840.6,314.4 L842.2,311.1 L843.8,311.0 L845.5,313.6 L847.0,308.1 L848.5,304.9 L849.7,303.1 L851.0,304.0 L852.2,302.4 L853.8,301.3 L855.4,301.1 L856.9,299.9 L858.4,299.9 L859.7,300.9 L860.9,305.3 L862.2,306.1 L863.4,306.3 L864.7,306.1 L865.9,307.3 L867.2,307.8 L868.4,309.5 L869.7,312.3 L870.9,311.8 L872.2,313.7 L873.4,313.6 L874.7,314.3 L875.9,315.7 L877.2,318.6 L878.8,318.6 L880.4,318.6 L882.2,321.0 L883.9,324.8 L885.5,322.3 L887.2,317.3 L888.8,314.4 L890.4,313.6 L891.7,318.0 L892.9,322.3 L894.4,325.6 L895.9,327.3 L897.2,328.3 L898.4,331.2 L899.6,331.1 L900.9,331.4 L902.1,331.1 L903.4,332.3 L904.6,331.6 L905.9,330.1 L907.1,331.1 L908.4,332.1 L909.6,332.9 L910.9,334.8 L912.1,337.1 L913.4,338.2 L914.6,338.6 L915.9,341.1 L917.1,343.6 L918.4,344.2 L919.6,347.3 L920.9,346.0 L922.1,346.1 L923.9,342.3 L925.4,324.8 L927.1,287.4 L928.4,273.2 L929.6,259.9 L930.9,253.0 L932.1,247.4 L933.4,274.9 L934.6,281.8 L935.9,289.9 L937.1,284.4 L938.4,277.4 L939.9,275.1 L941.4,274.9 L943.0,276.8 L944.6,281.1 L945.8,271.3 L947.1,259.9 L948.3,259.5 L949.6,258.7 L950.8,267.1 L952.1,273.6 L953.7,274.0 L955.3,274.9 L957.1,284.9 L958.7,281.5 L960.3,276.1 L961.8,275.3 L963.3,273.6 L964.6,272.5 L965.8,269.9 L967.1,274.8 L968.3,278.6 L969.6,276.5 L970.8,273.4 L972.1,272.4 L973.7,270.9 L975.3,271.1 L977.1,287.4 L978.3,290.2 L979.6,291.1 L980.8,294.6 L982.1,296.1 L983.3,292.7 L984.6,287.4 L985.8,287.3 L987.0,288.7 L988.3,288.6 L989.5,288.2 L990.8,286.5 L992.0,284.9 L993.3,288.2 L994.5,289.9 L995.8,284.9 L997.0,279.9 L998.3,279.5 L999.5,278.7 L1000.8,277.4 L1002.0,275.5 L1003.3,276.1 L1004.5,273.6 L1005.8,277.9 L1007.0,279.9 L1008.3,276.7 L1009.5,277.0 L1010.8,273.6 L1012.3,273.7 L1013.8,271.1 L1015.0,271.0 L1016.3,269.9 L1018.3,277.4 L1019.5,276.0 L1020.8,278.6 L1022.0,277.4 L1023.3,278.9 L1024.5,282.4 L1026.3,307.3 L1027.3,299.9" fill="none" stroke="#FF0000" stroke-width="2.2" stroke-linejoin="round" stroke-linecap="round"/>
</g>
<line x1="596.0" y1="180.0" x2="596.0" y2="361.2" stroke="#4a4a4a" stroke-width="1.2"/>
<line x1="1027.5" y1="180.0" x2="1027.5" y2="361.2" stroke="#4a4a4a" stroke-width="1.2"/>
<line x1="596.0" y1="180.0" x2="1027.5" y2="180.0" stroke="#4a4a4a" stroke-width="1.2"/>
<line x1="596.0" y1="176.0" x2="596.0" y2="180.0" stroke="#4a4a4a" stroke-width="1"/>
<line x1="642.7" y1="176.0" x2="642.7" y2="180.0" stroke="#4a4a4a" stroke-width="1"/>
<line x1="690.0" y1="176.0" x2="690.0" y2="180.0" stroke="#4a4a4a" stroke-width="1"/>
<line x1="737.8" y1="176.0" x2="737.8" y2="180.0" stroke="#4a4a4a" stroke-width="1"/>
<line x1="785.5" y1="176.0" x2="785.5" y2="180.0" stroke="#4a4a4a" stroke-width="1"/>
<line x1="832.8" y1="176.0" x2="832.8" y2="180.0" stroke="#4a4a4a" stroke-width="1"/>
<line x1="880.0" y1="176.0" x2="880.0" y2="180.0" stroke="#4a4a4a" stroke-width="1"/>
<line x1="927.8" y1="176.0" x2="927.8" y2="180.0" stroke="#4a4a4a" stroke-width="1"/>
<line x1="975.6" y1="176.0" x2="975.6" y2="180.0" stroke="#4a4a4a" stroke-width="1"/>
<line x1="1022.3" y1="176.0" x2="1022.3" y2="180.0" stroke="#4a4a4a" stroke-width="1"/>
<line x1="592.0" y1="180.0" x2="596.0" y2="180.0" stroke="#4a4a4a" stroke-width="1"/>
<line x1="592.0" y1="205.9" x2="596.0" y2="205.9" stroke="#4a4a4a" stroke-width="1"/>
<line x1="592.0" y1="231.8" x2="596.0" y2="231.8" stroke="#4a4a4a" stroke-width="1"/>
<line x1="592.0" y1="257.7" x2="596.0" y2="257.7" stroke="#4a4a4a" stroke-width="1"/>
<line x1="592.0" y1="283.5" x2="596.0" y2="283.5" stroke="#4a4a4a" stroke-width="1"/>
<line x1="592.0" y1="309.4" x2="596.0" y2="309.4" stroke="#4a4a4a" stroke-width="1"/>
<line x1="592.0" y1="335.3" x2="596.0" y2="335.3" stroke="#4a4a4a" stroke-width="1"/>
<line x1="592.0" y1="361.2" x2="596.0" y2="361.2" stroke="#4a4a4a" stroke-width="1"/>
<line x1="1027.5" y1="180.0" x2="1031.5" y2="180.0" stroke="#4a4a4a" stroke-width="1"/>
<line x1="1027.5" y1="198.1" x2="1031.5" y2="198.1" stroke="#4a4a4a" stroke-width="1"/>
<line x1="1027.5" y1="216.2" x2="1031.5" y2="216.2" stroke="#4a4a4a" stroke-width="1"/>
<line x1="1027.5" y1="234.4" x2="1031.5" y2="234.4" stroke="#4a4a4a" stroke-width="1"/>
<line x1="1027.5" y1="252.5" x2="1031.5" y2="252.5" stroke="#4a4a4a" stroke-width="1"/>
<line x1="1027.5" y1="270.6" x2="1031.5" y2="270.6" stroke="#4a4a4a" stroke-width="1"/>
<line x1="1027.5" y1="288.7" x2="1031.5" y2="288.7" stroke="#4a4a4a" stroke-width="1"/>
<line x1="1027.5" y1="306.8" x2="1031.5" y2="306.8" stroke="#4a4a4a" stroke-width="1"/>
<line x1="1027.5" y1="325.0" x2="1031.5" y2="325.0" stroke="#4a4a4a" stroke-width="1"/>
<line x1="1027.5" y1="343.1" x2="1031.5" y2="343.1" stroke="#4a4a4a" stroke-width="1"/>
<line x1="1027.5" y1="361.2" x2="1031.5" y2="361.2" stroke="#4a4a4a" stroke-width="1"/>
<text x="586.0" y="184.0" font-size="12" fill="#595959" text-anchor="end">3.00%</text>
<text x="586.0" y="209.9" font-size="12" fill="#595959" text-anchor="end">3.50%</text>
<text x="586.0" y="235.8" font-size="12" fill="#595959" text-anchor="end">4.00%</text>
<text x="586.0" y="261.7" font-size="12" fill="#595959" text-anchor="end">4.50%</text>
<text x="586.0" y="287.5" font-size="12" fill="#595959" text-anchor="end">5.00%</text>
<text x="586.0" y="313.4" font-size="12" fill="#595959" text-anchor="end">5.50%</text>
<text x="586.0" y="339.3" font-size="12" fill="#595959" text-anchor="end">6.00%</text>
<text x="586.0" y="365.2" font-size="12" fill="#595959" text-anchor="end">6.50%</text>
<text x="1038.5" y="184.0" font-size="12" fill="#595959">5000</text>
<text x="1038.5" y="202.1" font-size="12" fill="#595959">4800</text>
<text x="1038.5" y="220.2" font-size="12" fill="#595959">4600</text>
<text x="1038.5" y="238.4" font-size="12" fill="#595959">4400</text>
<text x="1038.5" y="256.5" font-size="12" fill="#595959">4200</text>
<text x="1038.5" y="274.6" font-size="12" fill="#595959">4000</text>
<text x="1038.5" y="292.7" font-size="12" fill="#595959">3800</text>
<text x="1038.5" y="310.8" font-size="12" fill="#595959">3600</text>
<text x="1038.5" y="329.0" font-size="12" fill="#595959">3400</text>
<text x="1038.5" y="347.1" font-size="12" fill="#595959">3200</text>
<text x="1038.5" y="365.2" font-size="12" fill="#595959">3000</text>
<text x="599.5" y="375.7" font-size="12" fill="#595959" text-anchor="end" transform="rotate(-45 599.5 375.7)">2023/01/01</text>
<text x="646.2" y="375.7" font-size="12" fill="#595959" text-anchor="end" transform="rotate(-45 646.2 375.7)">2023/04/01</text>
<text x="693.5" y="375.7" font-size="12" fill="#595959" text-anchor="end" transform="rotate(-45 693.5 375.7)">2023/07/01</text>
<text x="741.3" y="375.7" font-size="12" fill="#595959" text-anchor="end" transform="rotate(-45 741.3 375.7)">2023/10/01</text>
<text x="789.0" y="375.7" font-size="12" fill="#595959" text-anchor="end" transform="rotate(-45 789.0 375.7)">2024/01/01</text>
<text x="836.3" y="375.7" font-size="12" fill="#595959" text-anchor="end" transform="rotate(-45 836.3 375.7)">2024/04/01</text>
<text x="883.5" y="375.7" font-size="12" fill="#595959" text-anchor="end" transform="rotate(-45 883.5 375.7)">2024/07/01</text>
<text x="931.3" y="375.7" font-size="12" fill="#595959" text-anchor="end" transform="rotate(-45 931.3 375.7)">2024/10/01</text>
<text x="979.1" y="375.7" font-size="12" fill="#595959" text-anchor="end" transform="rotate(-45 979.1 375.7)">2025/01/01</text>
<text x="1025.8" y="375.7" font-size="12" fill="#595959" text-anchor="end" transform="rotate(-45 1025.8 375.7)">2025/04/01</text>
<path d="M577.0,137.5 L611.0,137.5" fill="none" stroke="#0A5CAD" stroke-width="2" stroke-linejoin="round" stroke-linecap="round"/>
<text x="614.0" y="141.5" font-size="12" fill="#595959">ERP</text>
<path d="M694.5,137.5 L729.5,137.5" fill="none" stroke="#FF5C5C" stroke-width="2" stroke-linejoin="round" stroke-linecap="butt" stroke-dasharray="8 5"/>
<text x="739.0" y="141.5" font-size="12" fill="#595959">‘+标准差σ</text>
<path d="M813.0,137.5 L849.0,137.5" fill="none" stroke="#636363" stroke-width="2" stroke-linejoin="round" stroke-linecap="butt" stroke-dasharray="8 5"/>
<text x="859.0" y="141.5" font-size="12" fill="#595959">‘-标准差σ</text>
<path d="M931.0,137.5 L964.5,137.5" fill="none" stroke="#FF9C9C" stroke-width="1.5" stroke-linejoin="round" stroke-linecap="round" stroke-dasharray="1.5 3"/>
<text x="977.0" y="141.5" font-size="12" fill="#595959">‘+标准差2σ</text>
<path d="M577.0,158.0 L611.0,158.0" fill="none" stroke="#A6A6A6" stroke-width="1.5" stroke-linejoin="round" stroke-linecap="round" stroke-dasharray="1.5 3"/>
<text x="621.5" y="162.0" font-size="12" fill="#595959">‘-标准差2σ</text>
<path d="M694.5,158.0 L729.5,158.0" fill="none" stroke="#9DC3E6" stroke-width="2" stroke-linejoin="round" stroke-linecap="round"/>
<text x="733.5" y="162.0" font-size="12" fill="#595959">移动均值</text>
<path d="M813.0,158.0 L848.0,158.0" fill="none" stroke="#FF0000" stroke-width="2" stroke-linejoin="round" stroke-linecap="round"/>
<text x="852.0" y="162.0" font-size="12" fill="#595959">沪深300（右）</text>
<g clip-path="url(#cp3)">
<path d="M42.5,697.3 L43.7,676.0 L45.0,681.4 L46.2,684.8 L47.5,692.3 L48.7,696.0 L50.5,674.8 L51.5,689.8 L52.5,701.0 L53.5,690.8 L54.5,674.8 L55.5,668.6 L56.5,662.0 L57.5,651.1 L58.5,646.3 L59.5,649.8 L61.2,669.8 L62.5,673.9 L63.7,678.5 L65.0,673.8 L66.2,662.3 L68.0,629.8 L69.5,664.8 L70.7,680.8 L72.0,694.8 L73.2,697.0 L74.5,692.3 L76.2,659.8 L78.0,657.3 L79.5,693.5 L81.2,679.8 L82.5,674.0 L83.7,674.8 L84.9,664.6 L86.2,654.8 L87.9,674.8 L89.4,652.3 L91.2,676.0 L92.4,658.8 L93.7,644.8 L95.4,669.8 L96.7,662.6 L97.9,654.8 L98.9,661.6 L99.9,667.3 L101.2,656.7 L102.4,653.6 L103.4,655.7 L104.4,662.3 L106.2,647.3 L107.4,642.9 L108.7,642.3 L109.7,640.6 L110.7,632.3 L112.4,644.8 L113.2,618.6 L114.4,664.8 L115.7,678.5 L116.9,688.5 L117.9,685.1 L118.9,690.3 L119.9,687.3 L121.2,681.7 L122.4,682.3 L123.4,679.1 L124.4,671.0 L125.4,669.8 L126.7,675.5 L127.9,688.5 L128.9,682.4 L129.9,671.0 L131.1,671.7 L132.4,677.3 L133.6,670.0 L134.9,667.3 L135.9,675.3 L136.9,678.6 L137.9,679.8 L139.1,681.8 L140.4,687.3 L141.5,685.9 L142.5,677.6 L143.6,672.3 L144.9,684.2 L146.1,693.5 L147.4,684.4 L148.6,679.8 L149.9,690.6 L151.1,694.8 L152.4,698.9 L153.6,699.8 L154.4,664.8 L156.1,669.8 L157.9,632.3 L158.9,645.6 L159.9,652.3 L161.1,637.3 L162.9,669.8 L164.4,689.8 L165.6,694.5 L166.9,692.3 L168.1,686.3 L169.4,683.5 L171.1,672.3 L172.8,629.8 L173.8,656.0 L174.8,683.5 L175.8,671.8 L176.8,664.8 L178.6,697.3 L179.8,685.9 L181.1,679.8 L182.3,685.3 L183.6,697.3 L184.8,700.7 L186.1,707.3 L187.3,684.8 L188.6,693.1 L189.8,699.8 L190.8,693.1 L191.8,696.3 L192.8,692.3 L193.9,688.4 L195.0,685.7 L196.1,684.8 L197.3,685.6 L198.6,681.0 L199.6,682.9 L200.7,683.6 L201.8,687.3 L203.6,679.8 L205.3,664.8 L206.3,659.7 L207.3,654.8 L208.3,669.8 L209.3,682.3 L210.6,663.2 L211.8,649.8 L213.6,679.8 L214.8,675.9 L216.0,664.8 L217.8,681.0 L218.8,664.8 L219.8,654.8 L221.0,664.2 L222.3,669.8 L223.3,678.6 L224.3,682.3 L225.5,673.4 L226.8,672.3 L228.0,677.2 L229.3,677.3 L230.5,668.8 L231.8,662.3 L233.5,684.8 L234.8,692.2 L236.0,698.5 L237.8,679.8 L238.8,670.9 L239.8,669.8 L240.8,679.3 L241.8,694.8 L243.5,678.5 L244.8,680.3 L246.0,687.3 L247.3,695.9 L248.5,697.3 L249.8,675.4 L251.0,657.3 L252.3,689.8 L253.3,681.6 L254.3,669.8 L256.0,652.3 L256.8,682.3 L257.0,682.3 L258.0,675.3 L259.0,662.3 L260.7,617.4 L262.5,607.4 L263.5,614.1 L264.5,613.6 L265.7,618.0 L267.0,624.8 L268.0,627.4 L269.0,632.3 L269.5,664.8 L270.5,655.0 L271.5,644.8 L273.2,584.9 L274.0,644.8 L275.2,648.5 L276.5,647.3 L277.7,655.8 L279.0,669.8 L280.2,655.2 L281.5,637.3 L283.2,656.1 L285.0,638.6 L286.0,645.3 L287.0,647.3 L288.2,658.7 L289.5,664.8 L290.7,653.8 L292.0,649.8 L293.2,655.0 L294.5,652.3 L295.5,659.5 L296.5,672.3 L298.2,652.3 L299.5,633.6 L300.5,640.5 L301.4,649.8 L303.2,669.8 L304.9,677.3 L306.4,619.9 L308.2,637.3 L309.4,638.9 L310.7,638.6 L312.4,664.8 L313.7,661.8 L314.9,652.3 L315.9,661.2 L316.9,672.3 L317.9,658.6 L318.9,639.8 L320.7,662.3 L321.9,671.4 L323.2,679.8 L324.4,674.5 L325.7,672.3 L326.9,675.8 L328.2,682.3 L329.4,675.9 L330.7,674.8 L331.9,689.8 L332.9,687.8 L333.9,690.1 L334.9,694.8 L336.2,690.0 L337.4,682.3 L338.7,690.1 L339.9,689.8 L340.9,683.3 L341.9,682.3 L343.2,685.0 L344.4,694.8 L345.6,687.0 L346.9,672.3 L348.1,692.3 L349.2,691.7 L350.3,689.8 L351.4,689.8 L352.4,689.6 L353.4,694.7 L354.4,696.0 L355.4,699.5 L356.4,697.3 L358.1,649.8 L359.9,687.3 L360.9,679.5 L361.9,672.3 L362.9,681.7 L363.9,692.3 L365.1,684.9 L366.4,684.8 L367.6,695.4 L368.9,699.8 L370.1,695.0 L371.4,698.5 L373.1,682.3 L374.4,647.3 L375.4,672.3 L376.4,697.3 L377.6,696.3 L378.9,689.8 L380.1,689.8 L381.4,696.0 L382.4,698.5 L383.4,700.8 L384.4,697.3 L385.6,674.8 L386.9,687.3 L388.1,614.9 L389.3,539.9 L390.1,496.2 L391.1,497.4 L392.1,498.8 L393.1,496.2 L394.0,492.7 L394.9,495.7 L395.8,496.2 L396.8,577.4 L398.3,572.4 L399.8,602.4 L400.8,568.3 L401.8,537.4 L402.8,566.6 L403.8,592.4 L405.6,547.4 L406.8,531.1 L408.1,517.5 L408.8,496.2 L409.8,561.2 L411.3,534.9 L413.1,496.2 L414.8,496.2 L415.6,564.9 L416.8,553.3 L418.1,542.4 L419.3,565.5 L420.6,582.4 L422.3,607.4 L423.3,588.1 L424.3,564.9 L425.3,560.9 L426.3,549.9 L428.1,526.2 L429.3,505.0 L430.0,496.3 L431.0,533.0 L431.9,509.0 L433.2,547.0 L434.1,598.9 L435.3,601.4 L436.6,583.7 L437.3,616.6 L438.6,633.7 L439.5,609.0 L440.8,628.0 L442.4,601.4 L443.7,622.9 L444.6,636.8 L445.8,614.1 L447.1,641.9 L448.7,655.2 L449.2,611.5 L450.3,643.2 L451.5,638.1 L452.8,652.0 L453.8,620.4 L455.1,641.9 L455.9,648.2 L457.0,646.1 L458.0,644.6 L459.0,644.9 L460.0,641.0 L461.0,639.4 L461.6,591.3 L462.3,564.7 L463.5,593.8 L464.8,595.1 L465.4,577.3 L466.7,587.5 L467.7,568.5 L469.0,599.5 L469.9,562.2 L471.1,587.5 L472.4,567.2 L473.3,588.7 L474.3,603.9 L475.3,627.3 L476.8,583.7 L478.1,603.9 L479.4,619.7 L480.3,602.1 L481.3,586.8 L482.5,603.9 L484.2,622.3 L485.1,599.5 L486.0,599.6 L487.0,601.4 L487.6,629.2 L488.5,641.9 L489.5,634.1 L490.5,631.8 L491.4,665.3 L492.7,641.9 L493.9,603.9 L495.2,578.6 L495.8,560.9 L496.7,619.1" fill="none" stroke="#C00000" stroke-width="2" stroke-linejoin="round" stroke-linecap="round"/>
<path d="M42.5,697.3 L44.5,674.8 L46.7,662.3 L48.7,679.8 L50.0,689.8 L52.0,684.8 L53.5,681.1 L55.0,676.0 L56.5,669.9 L58.0,662.3 L59.5,619.9 L61.0,596.9 L63.0,619.9 L64.5,649.8 L66.2,644.8 L68.0,609.9 L69.5,607.9 L71.0,606.1 L72.5,649.8 L74.5,689.8 L76.2,654.8 L78.0,624.8 L79.5,649.8 L81.2,676.0 L83.0,664.8 L84.2,650.7 L85.4,637.3 L86.7,627.6 L87.9,619.9 L89.9,616.1 L91.9,634.8 L93.2,623.9 L94.4,612.4 L95.7,604.2 L96.9,596.1 L98.7,617.4 L99.9,612.3 L101.2,606.1 L102.4,606.4 L103.7,607.4 L104.9,600.4 L106.2,592.4 L107.4,586.9 L108.7,582.4 L109.9,576.8 L111.2,569.9 L112.9,539.9 L114.4,577.4 L116.2,597.4 L117.4,654.8 L119.4,679.8 L120.7,684.1 L121.9,687.3 L123.2,682.1 L124.4,677.3 L126.2,654.8 L127.9,654.8 L129.9,664.8 L131.1,654.9 L132.4,644.8 L133.6,640.2 L134.9,634.8 L136.4,635.9 L137.9,638.6 L139.9,667.3 L141.1,668.7 L142.4,669.8 L143.6,674.3 L144.9,677.3 L146.1,685.6 L147.4,694.8 L148.6,691.8 L149.9,687.3 L151.9,699.8 L153.1,701.8 L154.4,702.8 L155.4,664.8 L157.4,589.9 L159.4,564.9 L160.6,559.9 L162.4,584.9 L164.4,649.8 L166.1,687.3 L167.4,691.3 L168.6,693.5 L169.9,687.5 L171.1,682.3 L172.8,639.8 L174.3,601.1 L176.1,609.9 L177.8,649.8 L179.8,687.3 L181.1,691.3 L182.3,697.3 L183.6,701.7 L184.8,704.8 L186.8,712.7 L188.1,710.8 L189.3,707.3 L190.8,707.1 L192.3,707.3 L193.6,706.0 L194.8,706.3 L196.1,707.3 L197.3,697.5 L198.6,687.3 L199.8,683.6 L201.1,681.0 L202.3,685.3 L203.6,687.3 L205.3,659.8 L207.3,629.8 L208.6,618.6 L210.3,647.3 L211.8,639.8 L213.6,608.6 L215.3,624.8 L217.3,654.8 L218.5,643.7 L219.8,632.3 L221.0,626.1 L222.3,621.1 L224.3,649.8 L225.5,662.6 L226.8,674.8 L228.0,664.5 L229.3,654.8 L231.0,646.1 L232.8,669.8 L234.8,702.3 L236.0,702.2 L237.3,699.8 L239.3,707.3 L240.5,698.0 L241.8,687.3 L243.0,684.8 L244.3,682.3 L245.5,696.2 L246.8,709.7 L248.3,711.6 L249.8,712.2 L251.0,699.0 L252.3,684.8 L254.3,644.8 L256.0,617.4 L256.8,614.9 L257.0,614.9 L259.0,628.6 L260.7,564.9 L262.5,522.5 L264.1,521.9 L265.7,518.7 L267.4,515.5 L269.0,515.0 L270.7,564.9 L272.0,567.1 L273.2,569.9 L274.0,537.4 L275.2,538.4 L276.5,538.7 L278.2,579.9 L280.0,593.6 L282.0,574.9 L284.0,562.4 L285.2,557.0 L286.5,552.4 L288.2,556.2 L290.0,584.9 L292.0,599.9 L294.0,587.4 L295.7,583.6 L297.0,605.0 L298.2,626.1 L300.0,594.9 L301.9,554.9 L303.9,589.9 L304.9,649.8 L306.9,589.9 L308.2,579.1 L309.4,569.9 L310.7,553.6 L311.9,536.2 L313.2,572.4 L314.4,583.7 L315.7,594.9 L316.9,614.9 L318.4,604.7 L319.9,596.1 L321.9,629.8 L323.9,664.8 L325.7,674.8 L326.9,661.3 L328.2,647.3 L329.4,655.7 L330.7,664.8 L331.9,675.5 L333.2,687.3 L334.4,696.0 L335.7,704.8 L336.9,706.3 L338.2,709.7 L339.4,706.5 L340.7,704.8 L341.9,707.0 L343.2,707.3 L344.9,717.2 L346.1,703.8 L347.4,689.8 L348.6,693.7 L349.9,699.8 L351.4,718.5 L352.9,716.7 L354.4,713.5 L355.6,715.1 L356.9,719.2 L358.1,664.8 L359.9,639.8 L361.1,632.3 L362.4,662.3 L364.4,697.3 L366.4,717.2 L367.6,711.9 L368.9,707.3 L370.6,717.2 L372.6,726.0 L374.4,697.3 L376.4,659.8 L378.1,689.8 L379.9,712.2 L381.9,722.2 L383.4,723.7 L384.9,722.7 L386.9,699.8 L388.1,614.9 L389.3,539.9 L390.6,505.0 L391.8,502.2 L393.1,498.7 L394.3,497.6 L395.6,497.2 L396.8,497.0 L398.1,497.7 L399.3,497.9 L400.6,500.0 L401.8,501.3 L403.1,498.3 L404.3,499.5 L405.6,499.0 L406.8,499.7 L408.1,498.7 L409.3,498.0 L410.6,499.3 L411.8,497.5 L413.1,497.4 L414.3,500.2 L415.6,499.5 L416.8,501.6 L418.1,502.0 L419.3,502.5 L420.8,505.1 L422.3,505.3 L423.8,507.0 L425.3,505.4 L426.8,502.0 L428.3,501.8 L429.8,500.0 L430.0,499.5 L431.6,500.2 L433.2,500.8 L435.1,509.0 L437.0,512.2 L438.2,515.9 L439.5,519.7 L441.4,521.0 L443.3,517.2 L444.6,521.5 L445.8,524.8 L447.1,536.8 L448.7,545.1 L450.3,540.0 L452.5,532.4 L453.4,548.2 L454.7,547.6 L455.9,552.0 L457.4,551.7 L458.9,550.6 L460.4,551.8 L461.6,538.1 L463.5,529.2 L465.2,510.9 L466.7,509.6 L468.0,510.7 L469.2,510.3 L470.5,508.7 L471.8,508.5 L473.0,507.7 L475.3,512.2 L476.2,517.2 L478.1,520.4 L479.4,520.7 L480.6,519.4 L481.9,518.1 L483.2,518.9 L485.1,524.2 L487.0,523.9 L488.9,544.4 L490.5,548.2 L491.4,572.3 L492.0,577.3 L493.9,571.0 L495.2,547.0 L496.1,525.4 L496.7,512.2" fill="none" stroke="#0A5CAD" stroke-width="2" stroke-linejoin="round" stroke-linecap="round"/>
</g>
<line x1="42.5" y1="496.3" x2="42.5" y2="732.3" stroke="#4a4a4a" stroke-width="1.2"/>
<line x1="496.5" y1="496.3" x2="496.5" y2="732.3" stroke="#4a4a4a" stroke-width="1.2"/>
<line x1="42.5" y1="732.3" x2="496.5" y2="732.3" stroke="#4a4a4a" stroke-width="1.2"/>
<line x1="38.5" y1="527.5" x2="42.5" y2="527.5" stroke="#4a4a4a" stroke-width="1"/>
<text x="31.0" y="531.5" font-size="11" fill="#595959" text-anchor="end">2.5</text>
<line x1="38.5" y1="578.7" x2="42.5" y2="578.7" stroke="#4a4a4a" stroke-width="1"/>
<text x="31.0" y="582.7" font-size="11" fill="#595959" text-anchor="end">2.0</text>
<line x1="38.5" y1="629.9" x2="42.5" y2="629.9" stroke="#4a4a4a" stroke-width="1"/>
<text x="31.0" y="633.9" font-size="11" fill="#595959" text-anchor="end">1.5</text>
<line x1="38.5" y1="681.1" x2="42.5" y2="681.1" stroke="#4a4a4a" stroke-width="1"/>
<text x="31.0" y="685.1" font-size="11" fill="#595959" text-anchor="end">1.0</text>
<line x1="38.5" y1="732.3" x2="42.5" y2="732.3" stroke="#4a4a4a" stroke-width="1"/>
<text x="31.0" y="736.3" font-size="11" fill="#595959" text-anchor="end">0.5</text>
<line x1="492.5" y1="496.3" x2="496.5" y2="496.3" stroke="#4a4a4a" stroke-width="1"/>
<text x="506.0" y="500.3" font-size="11" fill="#595959">100%</text>
<line x1="492.5" y1="519.9" x2="496.5" y2="519.9" stroke="#4a4a4a" stroke-width="1"/>
<text x="506.0" y="523.9" font-size="11" fill="#595959">90%</text>
<line x1="492.5" y1="543.5" x2="496.5" y2="543.5" stroke="#4a4a4a" stroke-width="1"/>
<text x="506.0" y="547.5" font-size="11" fill="#595959">80%</text>
<line x1="492.5" y1="567.1" x2="496.5" y2="567.1" stroke="#4a4a4a" stroke-width="1"/>
<text x="506.0" y="571.1" font-size="11" fill="#595959">70%</text>
<line x1="492.5" y1="590.7" x2="496.5" y2="590.7" stroke="#4a4a4a" stroke-width="1"/>
<text x="506.0" y="594.7" font-size="11" fill="#595959">60%</text>
<line x1="492.5" y1="614.3" x2="496.5" y2="614.3" stroke="#4a4a4a" stroke-width="1"/>
<text x="506.0" y="618.3" font-size="11" fill="#595959">50%</text>
<line x1="492.5" y1="637.9" x2="496.5" y2="637.9" stroke="#4a4a4a" stroke-width="1"/>
<text x="506.0" y="641.9" font-size="11" fill="#595959">40%</text>
<line x1="492.5" y1="661.5" x2="496.5" y2="661.5" stroke="#4a4a4a" stroke-width="1"/>
<text x="506.0" y="665.5" font-size="11" fill="#595959">30%</text>
<line x1="492.5" y1="685.1" x2="496.5" y2="685.1" stroke="#4a4a4a" stroke-width="1"/>
<text x="506.0" y="689.1" font-size="11" fill="#595959">20%</text>
<line x1="492.5" y1="708.7" x2="496.5" y2="708.7" stroke="#4a4a4a" stroke-width="1"/>
<text x="506.0" y="712.7" font-size="11" fill="#595959">10%</text>
<line x1="492.5" y1="732.3" x2="496.5" y2="732.3" stroke="#4a4a4a" stroke-width="1"/>
<text x="506.0" y="736.3" font-size="11" fill="#595959">0%</text>
<line x1="42.5" y1="732.3" x2="42.5" y2="736.3" stroke="#4a4a4a" stroke-width="1"/>
<text x="42.5" y="748.8" font-size="11" fill="#404040" text-anchor="middle">2023/1/1</text>
<line x1="142.0" y1="732.3" x2="142.0" y2="736.3" stroke="#4a4a4a" stroke-width="1"/>
<text x="142.0" y="748.8" font-size="11" fill="#404040" text-anchor="middle">2023/7/1</text>
<line x1="241.8" y1="732.3" x2="241.8" y2="736.3" stroke="#4a4a4a" stroke-width="1"/>
<text x="241.8" y="748.8" font-size="11" fill="#404040" text-anchor="middle">2024/1/1</text>
<line x1="341.4" y1="732.3" x2="341.4" y2="736.3" stroke="#4a4a4a" stroke-width="1"/>
<text x="341.4" y="748.8" font-size="11" fill="#404040" text-anchor="middle">2024/7/1</text>
<line x1="441.8" y1="732.3" x2="441.8" y2="736.3" stroke="#4a4a4a" stroke-width="1"/>
<text x="441.8" y="748.8" font-size="11" fill="#404040" text-anchor="middle">2025/1/1</text>
<path d="M108.0,471.0 L133.0,471.0" fill="none" stroke="#C00000" stroke-width="2" stroke-linejoin="round" stroke-linecap="round"/>
<text x="137.0" y="475.0" font-size="11.5" fill="#595959">万得全A换手率</text>
<path d="M241.0,471.0 L266.0,471.0" fill="none" stroke="#0A5CAD" stroke-width="2" stroke-linejoin="round" stroke-linecap="round"/>
<text x="269.0" y="475.0" font-size="11.5" fill="#595959">换手率分位数（滚动3年）MA5 右</text>
<text x="6.0" y="612.5" font-size="9" fill="#6b5a4a">ī</text>
<path d="M580.5,607.4 L582.5,603.6 L584.2,617.4 L586.0,619.9 L587.5,629.8 L589.2,632.3 L591.0,624.8 L592.5,623.1 L594.0,624.8 L595.5,622.3 L596.7,611.5 L598.0,602.4 L599.2,596.0 L600.5,588.6 L601.7,585.4 L603.0,584.9 L605.0,577.4 L606.5,581.7 L608.0,587.4 L609.2,582.4 L610.5,574.9 L612.0,577.1 L613.5,581.1 L615.1,575.9 L616.7,569.9 L618.0,572.3 L619.2,574.9 L620.8,571.0 L622.4,567.4 L623.9,566.1 L625.4,564.9 L626.7,567.8 L627.9,572.4 L629.2,566.4 L630.4,558.7 L631.7,556.1 L632.9,556.2 L634.4,554.0 L635.9,553.7 L637.2,559.3 L638.4,567.4 L639.7,562.4 L640.9,558.7 L642.2,566.6 L643.4,574.9 L644.7,572.3 L645.9,567.4 L647.5,572.1 L649.2,577.4 L650.4,574.3 L651.7,573.7 L652.9,579.3 L654.2,586.1 L655.4,580.5 L656.7,572.4 L657.9,566.2 L659.2,562.4 L660.4,557.1 L661.7,551.2 L662.9,543.7 L664.2,543.9 L665.4,544.9 L666.6,561.2 L667.9,557.9 L669.1,553.7 L670.4,558.2 L671.6,563.7 L673.4,554.9 L674.6,560.4 L675.9,564.9 L677.1,558.7 L678.4,552.4 L680.0,555.4 L681.6,557.4 L682.9,563.5 L684.1,567.4 L685.4,570.2 L686.6,572.4 L687.9,568.8 L689.1,567.4 L690.4,567.2 L691.6,569.9 L693.4,594.9 L695.0,591.8 L696.6,586.1 L698.2,589.2 L699.9,592.4 L701.4,586.5 L702.9,582.4 L704.1,587.4 L705.4,589.9 L706.6,588.3 L707.9,586.1 L709.8,604.9 L711.6,589.9 L712.8,591.9 L714.1,592.4 L715.3,589.7 L716.6,584.9 L717.8,581.7 L719.1,579.9 L720.3,582.8 L721.6,587.7 L722.8,589.9 L724.1,586.8 L725.3,586.1 L726.8,581.9 L728.3,576.2 L730.0,574.7 L731.6,576.2 L732.8,576.8 L734.1,576.2 L735.3,572.3 L736.6,567.4 L737.8,573.6 L739.1,577.4 L740.8,584.9 L742.1,578.2 L743.3,569.9 L744.6,568.0 L745.8,566.2 L747.8,569.9 L749.1,562.3 L750.3,556.2 L751.6,551.4 L752.8,548.7 L754.0,542.5 L755.3,536.2 L756.8,538.7 L758.3,541.2 L759.5,536.2 L760.8,533.7 L762.0,530.5 L763.3,525.0 L764.9,522.5 L766.5,520.0 L768.2,516.8 L769.8,512.5 L771.5,525.0 L772.8,531.8 L774.0,539.9 L775.3,546.8 L776.5,554.9 L777.8,547.4 L779.0,542.4 L780.8,541.2 L782.0,550.2 L783.3,559.9 L784.9,556.1 L786.5,553.7 L788.3,566.2 L790.3,614.9 L792.3,598.6 L794.0,619.9 L794.8,642.3 L795.0,612.4 L796.2,652.3 L798.0,696.0 L800.0,631.1 L801.2,631.2 L802.5,631.5 L803.7,632.3 L805.0,634.1 L806.2,633.6 L807.5,629.0 L808.7,622.3 L810.5,611.1 L812.5,627.3 L814.5,614.9 L816.2,618.6 L817.5,610.9 L818.7,604.9 L820.0,602.0 L821.2,599.9 L823.0,599.9 L825.0,619.9 L826.2,634.8 L827.5,626.5 L828.7,619.9 L830.3,622.3 L832.0,623.6 L833.7,617.4 L835.5,637.3 L837.0,653.6 L838.7,639.8 L839.9,640.8 L841.2,638.6 L842.4,632.8 L843.7,628.6 L845.3,627.6 L846.9,624.8 L848.2,622.9 L849.4,622.3 L850.7,626.7 L851.9,633.6 L853.4,633.9 L854.9,632.3 L856.9,643.6 L858.7,642.4 L860.4,642.3 L861.9,639.8 L863.2,649.1 L864.4,659.8 L865.9,651.5 L867.4,643.6 L868.9,642.6 L870.4,643.6 L871.7,649.0 L872.9,654.8 L874.9,669.8 L876.2,665.9 L877.4,662.3 L878.7,672.1 L879.9,682.3 L881.4,676.3 L882.9,669.8 L884.9,679.8 L886.9,684.8 L888.1,685.3 L889.4,687.3 L891.1,692.3 L892.4,683.2 L893.6,676.0 L895.4,662.3 L896.6,660.8 L897.9,662.3 L899.9,668.5 L901.9,668.5 L903.1,673.1 L904.4,679.8 L906.1,697.3 L907.4,699.2 L908.6,701.0 L910.4,684.8 L911.6,683.1 L912.9,682.3 L914.9,674.8 L916.1,676.5 L917.4,676.0 L918.6,679.2 L919.9,682.3 L921.4,683.6 L922.9,683.5 L924.9,692.3 L926.1,682.0 L927.3,669.8 L928.6,663.0 L929.8,658.6 L931.8,653.6 L933.6,682.3 L934.8,674.8 L936.1,669.8 L937.3,660.2 L938.6,652.3 L939.8,643.3 L941.1,634.8 L942.3,630.7 L943.6,626.1 L944.8,613.6 L946.8,631.1 L948.1,621.0 L949.3,609.9 L951.1,601.9 L952.8,619.9 L954.8,633.6 L956.1,623.9 L957.3,614.9 L958.6,615.2 L959.8,612.4 L961.1,607.2 L962.3,604.9 L963.6,608.4 L964.8,609.9 L966.1,604.7 L967.3,601.1 L969.3,599.9 L970.0,602.7 L971.3,619.1 L972.5,606.5 L974.1,634.3 L975.3,623.5 L977.0,628.0 L977.8,639.4 L979.1,648.9 L980.8,645.7 L982.4,644.4 L983.9,648.9 L985.4,634.3 L987.1,628.6 L989.0,629.9 L990.5,625.4 L992.5,629.9 L994.7,625.4 L995.9,624.1 L997.2,620.4 L998.5,610.3 L1000.4,601.4 L1001.6,597.0 L1003.2,601.4 L1004.4,607.1 L1006.1,583.7 L1007.7,582.4 L1009.0,576.1 L1010.3,593.2 L1011.8,590.6 L1013.0,574.8 L1014.9,572.3 L1016.6,565.9 L1017.8,579.9 L1019.6,576.7 L1020.9,581.8 L1022.2,582.4 L1023.8,591.3 L1025.7,595.1 L1027.2,595.1 L1028.2,588.7 L1029.5,603.9 L1031.0,619.1 L1032.0,629.9 L1033.3,609.6" fill="none" stroke="#0A5CAD" stroke-width="2" stroke-linejoin="round" stroke-linecap="round"/>
<path d="M580.5,579.9 L581.7,572.1 L583.0,564.9 L584.2,563.2 L585.5,563.6 L586.7,562.4 L588.0,560.1 L589.2,560.0 L590.5,558.7 L591.7,557.3 L593.0,555.4 L594.2,555.4 L595.5,554.6 L596.7,552.6 L598.0,552.9 L599.2,553.8 L600.5,554.0 L601.7,556.2 L603.0,554.3 L604.2,554.4 L605.5,558.9 L606.7,563.7 L608.0,566.5 L609.2,567.0 L610.5,569.9 L611.7,571.4 L613.0,574.4 L614.2,576.2 L615.5,578.1 L616.7,578.0 L618.0,578.6 L619.5,584.1 L621.0,589.9 L622.6,588.5 L624.2,584.9 L625.4,579.0 L626.7,574.9 L627.9,575.4 L629.2,573.5 L630.4,573.7 L631.7,574.5 L632.9,576.1 L634.2,578.6 L635.4,582.8 L636.7,588.4 L637.9,592.4 L639.2,595.9 L640.4,600.9 L641.7,604.9 L642.9,608.5 L644.2,611.3 L645.4,614.9 L646.7,618.3 L647.9,620.6 L649.2,624.8 L650.4,620.2 L651.7,617.4 L652.9,615.0 L654.2,614.4 L655.4,612.4 L656.9,608.7 L658.4,605.4 L660.0,609.7 L661.7,614.9 L662.9,613.8 L664.2,612.4 L665.4,619.5 L666.6,626.8 L667.9,620.5 L669.1,614.9 L670.8,611.1 L672.4,606.1 L674.1,608.2 L675.9,609.4 L677.5,610.2 L679.1,612.4 L680.4,611.7 L681.6,610.8 L682.9,609.9 L684.4,610.2 L685.9,608.6 L687.5,611.0 L689.1,612.4 L690.4,613.5 L691.6,616.8 L692.9,617.4 L694.1,616.2 L695.4,616.8 L696.6,616.9 L697.9,617.3 L699.1,615.5 L700.4,616.1 L701.6,617.7 L702.9,618.4 L704.1,621.1 L705.4,624.4 L706.6,627.5 L707.9,629.8 L709.1,630.0 L710.3,629.8 L711.6,626.2 L712.8,621.1 L714.3,623.2 L715.8,626.1 L717.5,629.7 L719.1,632.3 L720.3,634.1 L721.6,635.5 L722.8,636.8 L724.1,636.1 L725.3,636.4 L726.6,636.1 L727.8,634.3 L729.1,634.0 L730.3,634.3 L731.6,633.6 L733.2,631.6 L734.8,631.8 L736.6,635.7 L738.3,638.6 L739.6,639.0 L741.0,639.9 L742.3,638.6 L743.6,632.9 L744.8,626.1 L746.6,623.7 L748.3,622.3 L749.9,621.4 L751.6,621.1 L752.8,621.9 L754.0,620.7 L755.3,622.3 L756.5,625.4 L757.8,628.6 L759.0,628.6 L760.3,629.3 L761.5,631.1 L763.2,630.6 L764.8,632.3 L766.5,634.9 L768.3,636.1 L769.9,637.1 L771.5,639.8 L772.8,638.4 L774.0,637.9 L775.3,637.3 L776.5,636.3 L777.8,633.6 L779.3,637.1 L780.8,642.3 L782.4,646.0 L784.0,649.8 L785.3,648.7 L786.5,647.3 L787.8,651.9 L789.0,654.8 L790.3,656.2 L791.5,656.1 L793.3,669.8 L794.8,682.3 L795.0,679.8 L796.2,683.1 L797.5,684.8 L798.7,678.1 L800.0,672.3 L801.2,672.9 L802.5,673.6 L803.7,674.8 L805.0,676.4 L806.2,676.0 L807.5,675.0 L808.7,671.1 L810.0,669.8 L811.5,666.6 L813.0,664.8 L814.2,666.7 L815.5,669.8 L816.7,663.1 L818.0,657.3 L819.6,655.8 L821.2,654.3 L822.5,657.3 L823.7,659.8 L825.3,661.8 L827.0,664.8 L828.5,662.3 L830.0,662.3 L831.5,664.0 L833.0,666.0 L834.6,668.2 L836.2,671.0 L837.8,673.7 L839.4,676.0 L840.9,673.9 L842.4,669.8 L843.7,669.0 L844.9,667.3 L846.2,666.0 L847.4,667.0 L848.7,667.3 L849.9,669.6 L851.2,671.0 L852.4,671.2 L853.7,674.5 L854.9,674.8 L856.2,676.7 L857.4,678.2 L858.7,678.5 L860.3,677.4 L861.9,674.8 L863.4,675.1 L864.9,676.0 L866.2,675.0 L867.4,673.4 L868.7,673.5 L869.9,673.3 L871.2,672.3 L872.8,675.1 L874.4,679.8 L875.9,681.9 L877.4,686.0 L878.9,687.2 L880.4,689.8 L882.0,687.7 L883.6,687.3 L885.3,684.4 L886.9,682.3 L888.4,681.1 L889.9,682.3 L891.4,684.3 L892.9,688.5 L894.5,687.0 L896.1,687.3 L897.8,685.6 L899.4,686.0 L901.1,687.6 L902.9,689.8 L904.5,692.5 L906.1,697.3 L907.4,698.8 L908.6,698.5 L909.9,694.4 L911.1,689.8 L912.7,688.3 L914.4,688.5 L915.9,687.3 L917.4,687.3 L918.9,688.1 L920.4,689.8 L922.0,691.3 L923.6,693.5 L924.9,690.8 L926.1,689.8 L927.3,680.3 L928.6,669.8 L929.8,664.5 L931.1,657.3 L932.3,654.8 L934.3,676.0 L935.6,678.5 L936.8,681.0 L938.6,664.8 L940.2,663.5 L941.8,662.3 L943.3,661.9 L944.8,663.6 L946.3,660.7 L947.8,659.8 L949.4,654.5 L951.1,649.8 L952.8,656.1 L954.8,664.8 L956.1,662.4 L957.3,661.1 L958.8,662.5 L960.3,662.3 L961.6,660.2 L962.8,659.8 L964.4,661.2 L966.1,664.8 L967.7,667.2 L969.3,667.3 L970.0,666.6 L971.9,665.9 L973.8,669.7 L975.7,670.4 L977.6,672.9 L978.9,674.9 L980.1,676.7 L982.0,677.3 L983.9,673.5 L985.4,669.7 L987.1,672.9 L988.7,667.2 L990.3,668.5 L992.5,673.5 L994.7,672.3 L996.8,669.7 L998.9,664.1 L1001.0,666.6 L1003.2,665.3 L1004.8,664.7 L1006.5,657.7 L1008.6,657.7 L1010.3,662.8 L1012.4,664.1 L1014.3,661.5 L1016.6,660.9 L1018.7,662.2 L1020.6,662.8 L1022.2,666.6 L1024.4,666.6 L1026.3,669.1 L1028.2,670.4 L1030.1,677.3 L1031.8,681.1 L1033.3,673.5" fill="none" stroke="#9DC3E6" stroke-width="2" stroke-linejoin="round" stroke-linecap="round"/>
<line x1="580.5" y1="496.0" x2="580.5" y2="716.0" stroke="#4a4a4a" stroke-width="1.2"/>
<line x1="1032.7" y1="496.0" x2="1032.7" y2="716.0" stroke="#4a4a4a" stroke-width="1.2"/>
<line x1="580.5" y1="716.0" x2="1032.7" y2="716.0" stroke="#4a4a4a" stroke-width="1.2"/>
<line x1="576.5" y1="496.0" x2="580.5" y2="496.0" stroke="#4a4a4a" stroke-width="1"/>
<text x="568.5" y="500.0" font-size="12" fill="#595959" text-anchor="end">1.50</text>
<line x1="576.5" y1="551.0" x2="580.5" y2="551.0" stroke="#4a4a4a" stroke-width="1"/>
<text x="568.5" y="555.0" font-size="12" fill="#595959" text-anchor="end">1.40</text>
<line x1="576.5" y1="606.0" x2="580.5" y2="606.0" stroke="#4a4a4a" stroke-width="1"/>
<text x="568.5" y="610.0" font-size="12" fill="#595959" text-anchor="end">1.30</text>
<line x1="576.5" y1="661.0" x2="580.5" y2="661.0" stroke="#4a4a4a" stroke-width="1"/>
<text x="568.5" y="665.0" font-size="12" fill="#595959" text-anchor="end">1.20</text>
<line x1="576.5" y1="716.0" x2="580.5" y2="716.0" stroke="#4a4a4a" stroke-width="1"/>
<text x="568.5" y="720.0" font-size="12" fill="#595959" text-anchor="end">1.10</text>
<line x1="1028.7" y1="496.0" x2="1032.7" y2="496.0" stroke="#4a4a4a" stroke-width="1"/>
<text x="1043.5" y="500.0" font-size="12" fill="#595959">1.00</text>
<line x1="1028.7" y1="540.0" x2="1032.7" y2="540.0" stroke="#4a4a4a" stroke-width="1"/>
<text x="1043.5" y="544.0" font-size="12" fill="#595959">0.90</text>
<line x1="1028.7" y1="584.0" x2="1032.7" y2="584.0" stroke="#4a4a4a" stroke-width="1"/>
<text x="1043.5" y="588.0" font-size="12" fill="#595959">0.80</text>
<line x1="1028.7" y1="628.0" x2="1032.7" y2="628.0" stroke="#4a4a4a" stroke-width="1"/>
<text x="1043.5" y="632.0" font-size="12" fill="#595959">0.70</text>
<line x1="1028.7" y1="672.0" x2="1032.7" y2="672.0" stroke="#4a4a4a" stroke-width="1"/>
<text x="1043.5" y="676.0" font-size="12" fill="#595959">0.60</text>
<line x1="1028.7" y1="716.0" x2="1032.7" y2="716.0" stroke="#4a4a4a" stroke-width="1"/>
<text x="1043.5" y="720.0" font-size="12" fill="#595959">0.50</text>
<line x1="580.5" y1="716.0" x2="580.5" y2="720.0" stroke="#4a4a4a" stroke-width="1"/>
<text x="580.5" y="733.0" font-size="12" fill="#404040" text-anchor="middle">2023/01/01</text>
<line x1="678.6" y1="716.0" x2="678.6" y2="720.0" stroke="#4a4a4a" stroke-width="1"/>
<text x="678.6" y="733.0" font-size="12" fill="#404040" text-anchor="middle">2023/07/01</text>
<line x1="777.8" y1="716.0" x2="777.8" y2="720.0" stroke="#4a4a4a" stroke-width="1"/>
<text x="777.8" y="733.0" font-size="12" fill="#404040" text-anchor="middle">2024/01/01</text>
<line x1="878.7" y1="716.0" x2="878.7" y2="720.0" stroke="#4a4a4a" stroke-width="1"/>
<text x="878.7" y="733.0" font-size="12" fill="#404040" text-anchor="middle">2024/07/01</text>
<line x1="978.5" y1="716.0" x2="978.5" y2="720.0" stroke="#4a4a4a" stroke-width="1"/>
<text x="978.5" y="733.0" font-size="12" fill="#404040" text-anchor="middle">2025/01/01</text>
<path d="M644.0,471.0 L670.0,471.0" fill="none" stroke="#0A5CAD" stroke-width="2" stroke-linejoin="round" stroke-linecap="round"/>
<text x="673.5" y="475.0" font-size="11.5" fill="#595959">申万小盘指数/申万大盘指数</text>
<path d="M841.0,471.0 L866.0,471.0" fill="none" stroke="#9DC3E6" stroke-width="2" stroke-linejoin="round" stroke-linecap="round"/>
<text x="871.0" y="475.0" font-size="11.5" fill="#595959">国证成长/国证价值</text>
<path d="M57.6,942.0 L58.7,940.7 L59.9,939.1 L61.0,936.8 L62.2,939.3 L63.3,936.3 L64.6,935.1 L65.8,938.9 L67.1,940.1 L68.4,951.3 L69.6,957.4 L70.9,968.6 L72.4,976.5 L73.9,983.8 L75.1,978.6 L76.2,970.3 L77.3,966.7 L78.6,962.4 L79.9,960.1 L81.1,955.3 L82.4,951.9 L83.7,950.1 L84.9,945.8 L86.2,942.2 L87.5,940.7 L88.7,940.1 L90.3,948.9 L91.8,961.0 L93.3,971.5 L94.8,981.9 L96.0,988.7 L97.1,992.0 L98.2,996.4 L99.8,992.3 L101.3,985.7 L102.5,983.2 L103.8,983.1 L105.1,980.0 L106.2,977.2 L107.3,977.4 L108.5,978.6 L109.6,978.1 L110.8,976.2 L111.9,974.3 L113.0,971.1 L114.2,970.5 L115.3,968.7 L116.5,968.6 L117.6,966.8 L118.7,968.7 L119.9,964.8 L121.0,967.6 L122.2,964.8 L123.4,966.1 L124.7,961.3 L126.0,962.9 L127.2,966.1 L128.5,970.5 L129.8,974.3 L130.9,968.7 L132.0,967.3 L133.2,966.3 L134.3,961.0 L135.5,957.7 L136.8,958.7 L138.0,954.9 L139.3,955.3 L140.5,955.3 L141.7,956.4 L143.0,952.4 L144.2,953.4 L145.5,950.3 L146.7,950.0 L148.0,951.5 L149.3,934.6 L150.6,917.4 L152.0,901.2 L153.3,888.9 L154.8,891.6 L156.3,898.4 L157.6,902.8 L158.9,909.2 L160.1,911.7 L161.4,909.4 L162.7,907.4 L163.9,906.0 L165.2,904.1 L166.5,898.9 L167.7,898.4 L168.9,899.5 L170.0,898.2 L171.2,901.2 L172.3,903.7 L173.4,902.2 L174.7,899.8 L175.9,902.4 L177.1,902.7 L178.4,902.2 L179.5,901.3 L180.6,902.9 L181.8,907.5 L182.9,906.0 L184.2,911.5 L185.5,910.5 L186.7,915.5 L188.0,917.8 L189.3,920.3 L190.5,919.3 L191.7,917.4 L192.8,918.9 L193.9,915.5 L195.1,917.4 L196.3,912.9 L197.6,910.6 L198.8,906.4 L200.0,902.2 L201.3,906.7 L202.6,906.5 L203.8,911.7 L205.1,912.3 L206.3,916.3 L207.5,916.4 L208.8,917.4 L210.0,912.7 L211.3,908.0 L212.6,904.1 L213.7,905.6 L214.8,902.5 L216.0,898.8 L217.1,900.3 L218.2,899.4 L219.4,894.7 L220.5,892.8 L221.7,890.8 L222.9,888.7 L224.2,889.2 L225.5,888.9 L226.7,891.2 L228.0,893.2 L229.3,898.4 L230.5,898.4 L231.8,895.1 L233.1,896.5 L234.6,897.0 L236.1,894.6 L237.4,886.1 L238.6,883.2 L239.9,875.6 L241.0,874.7 L242.2,870.8 L243.3,869.5 L244.5,866.1 L245.7,865.4 L247.0,868.6 L248.3,868.0 L249.8,866.6 L251.3,866.1 L252.8,872.5 L254.3,881.3 L255.6,879.0 L256.9,871.9 L258.1,868.0 L259.4,864.2 L260.7,863.4 L261.9,858.5 L263.3,855.9 L264.6,854.7 L265.9,862.1 L267.2,868.0 L268.8,868.2 L270.3,871.8 L271.8,886.5 L273.3,898.4 L274.6,893.4 L275.9,888.6 L277.1,887.0 L278.3,890.3 L279.4,887.2 L280.5,892.1 L281.7,890.8 L282.9,894.5 L284.2,893.8 L285.5,894.6 L286.6,889.8 L287.8,887.7 L288.9,886.0 L290.0,885.1 L291.3,885.5 L292.5,887.5 L293.7,890.3 L295.0,888.9 L296.2,887.5 L297.5,885.8 L298.8,887.0 L300.0,888.5 L301.3,887.7 L302.6,890.8 L303.8,886.8 L305.1,887.2 L306.4,885.1 L307.6,881.6 L308.9,874.2 L310.2,871.8 L311.4,869.6 L312.7,869.0 L314.0,866.1 L315.2,868.7 L316.5,868.0 L317.8,869.9 L319.0,870.6 L320.3,865.7 L321.6,866.1 L322.9,872.8 L324.2,877.5 L325.5,875.6 L326.7,873.0 L328.0,868.0 L329.3,871.1 L330.5,872.4 L331.8,877.5 L333.0,874.7 L334.3,876.7 L335.5,874.4 L336.7,875.6 L338.0,875.6 L339.3,872.2 L340.5,873.7 L341.9,885.3 L343.2,894.6 L344.4,891.3 L345.7,888.3 L346.9,887.3 L348.1,887.0 L349.4,883.6 L350.7,880.9 L351.9,877.5 L353.2,880.7 L354.5,883.5 L355.7,888.9 L357.0,885.0 L358.3,883.4 L359.5,877.5 L360.8,871.3 L362.1,866.8 L363.3,858.5 L364.7,853.3 L366.0,852.8 L367.5,861.7 L369.0,866.1 L370.3,868.7 L371.6,867.6 L372.8,868.0 L374.3,870.9 L375.9,873.7 L377.1,872.0 L378.4,871.9 L379.7,868.0 L380.0,869.9 L381.1,867.3 L382.3,869.9 L383.4,869.0 L384.6,867.3 L385.7,868.0 L387.0,872.2 L388.2,875.4 L389.5,877.5 L390.8,876.7 L392.0,881.0 L393.3,881.3 L394.5,879.6 L395.8,878.4 L397.0,877.7 L398.2,875.6 L399.4,872.4 L400.5,874.2 L401.6,872.1 L402.8,871.8 L403.9,872.3 L405.1,867.6 L406.2,869.1 L407.3,866.1 L408.6,864.0 L409.9,860.4 L411.1,856.6 L412.4,860.4 L413.7,858.1 L414.9,862.3 L416.2,864.0 L417.5,865.4 L418.7,866.1 L420.0,867.0 L421.2,865.6 L422.4,863.8 L423.7,866.1 L424.9,866.9 L426.1,871.4 L427.4,871.6 L428.6,875.6 L429.9,875.3 L431.1,878.7 L432.4,881.3 L433.7,890.6 L435.1,900.3 L436.3,897.1 L437.5,891.3 L438.8,891.6 L440.0,887.0 L441.1,885.6 L442.3,887.5 L443.4,883.0 L444.6,885.1 L445.7,886.9 L446.8,884.6 L448.0,886.1 L449.1,883.2 L450.4,889.9 L451.7,893.6 L452.9,896.5 L454.4,903.3 L456.0,913.6 L457.2,914.7 L458.5,916.0 L459.8,919.3 L461.0,919.4 L462.3,915.2 L463.6,915.5 L464.7,914.5 L465.8,914.4 L467.0,914.9 L468.1,917.4 L469.4,922.6 L470.6,926.0 L471.9,926.8 L473.1,930.5 L474.4,936.5 L475.6,939.5 L476.8,943.9 L478.2,948.8 L479.5,953.4 L480.6,947.1 L481.8,942.0 L482.9,942.3 L484.1,939.7 L485.2,939.4 L486.3,940.1 L487.6,937.1 L488.9,932.3 L490.1,930.6 L491.4,931.0 L492.7,934.2 L493.9,932.5 L495.1,927.4 L496.2,924.9 L497.4,925.5 L498.5,921.2 L499.8,915.8 L501.0,913.6 L502.3,911.7 L503.5,912.0 L504.8,909.3 L506.0,906.0 L507.2,906.0 L508.5,902.8 L509.7,902.9 L510.9,902.1 L512.2,902.2 L513.3,904.2 L514.4,905.6 L515.6,905.1 L516.7,904.1 L517.9,906.1 L519.0,906.3 L520.1,906.0 L521.3,906.2 L522.4,904.1 L523.7,908.3 L525.0,905.8 L526.2,909.8 L527.4,910.0 L528.5,910.8 L529.6,913.7 L530.8,914.3 L531.9,915.5 L533.1,913.7 L534.2,915.3 L535.3,912.1 L536.5,911.7 L537.7,913.1 L538.9,916.3 L540.2,920.0 L541.4,923.0 L542.6,921.7 L543.9,919.6 L545.1,917.1 L546.4,915.5 L547.5,918.3 L548.6,923.5 L549.8,927.5 L550.9,932.5 L552.0,932.3 L553.2,935.6 L554.3,935.3 L555.5,938.2 L556.7,940.7 L557.9,941.9 L559.2,940.7 L560.4,943.9 L561.6,946.5 L562.9,946.9 L564.1,949.4 L565.3,951.5 L566.5,954.9 L567.6,958.5 L568.8,961.9 L569.9,962.9 L571.8,943.9 L572.9,944.8 L574.1,941.7 L575.2,943.0 L576.4,941.6 L577.5,942.0 L578.8,935.9 L580.0,934.7 L581.3,930.6 L582.4,928.6 L583.6,928.7 L584.7,924.1 L585.8,924.7 L587.0,921.2 L588.2,920.7 L589.5,918.1 L590.7,920.8 L591.9,919.3 L593.2,922.7 L594.5,928.3 L595.7,932.5 L597.0,933.0 L598.3,935.2 L599.5,940.1 L600.8,938.4 L602.1,930.4 L603.3,928.7 L604.5,925.1 L605.6,923.3 L606.7,921.0 L607.9,921.2 L609.0,920.4 L610.2,918.8 L611.3,914.8 L612.4,911.7 L613.7,911.6 L614.9,914.6 L616.1,913.1 L617.4,913.6 L618.5,912.1 L619.7,915.3 L620.8,914.0 L621.9,913.9 L623.1,915.5 L624.2,912.2 L625.3,910.1 L626.5,906.8 L627.6,906.0 L628.9,907.5 L630.1,909.7 L631.3,909.2 L632.6,909.8 L633.7,907.2 L634.8,910.7 L636.0,907.3 L637.1,909.6 L638.3,909.8 L639.4,912.0 L640.5,911.4 L641.7,913.0 L642.8,912.6 L644.0,911.7 L645.1,909.4 L646.2,907.6 L647.4,908.0 L648.5,908.0 L649.7,906.0 L650.8,902.3 L651.9,900.4 L653.1,900.1 L654.2,896.5 L655.4,897.6 L656.7,900.8 L657.9,902.4 L659.1,904.1 L660.4,904.3 L661.6,897.9 L662.9,896.8 L664.1,896.5 L665.4,904.4 L666.7,909.8 L668.0,909.3 L669.3,905.2 L670.5,906.0 L671.8,908.7 L673.1,913.5 L674.3,919.3 L675.5,919.9 L676.6,922.1 L677.8,918.9 L678.9,919.2 L680.0,921.2 L681.2,921.1 L682.3,918.9 L683.5,920.1 L684.6,917.4 L685.8,918.4 L687.1,916.7 L688.3,914.2 L689.5,911.7 L690.8,908.8 L692.0,903.8 L693.2,904.6 L694.5,900.3 L695.6,901.2 L696.7,902.9 L697.9,905.2 L699.0,906.0 L700.2,909.1 L701.3,907.8 L702.4,910.4 L703.6,911.4 L704.7,909.8 L706.0,908.1 L707.2,910.0 L708.4,913.2 L709.7,911.7 L710.0,911.7 L711.5,914.9 L713.0,915.5 L714.4,922.4 L715.7,924.9 L717.0,924.6 L718.2,927.6 L719.5,928.7 L720.7,930.5 L722.0,928.0 L723.2,928.2 L724.4,926.8 L725.6,930.7 L726.7,928.1 L727.9,928.9 L729.0,932.5 L730.1,934.7 L731.3,933.7 L732.4,932.1 L733.5,935.8 L734.7,934.4 L735.8,932.9 L737.0,931.8 L738.1,932.3 L739.2,930.5 L740.4,932.5 L741.5,933.2 L742.7,936.2 L743.8,935.7 L744.9,939.4 L746.1,938.2 L747.3,937.4 L748.5,939.4 L749.8,940.7 L751.0,943.9 L752.2,944.8 L753.3,943.3 L754.4,946.2 L755.6,945.8 L756.7,944.5 L757.9,943.4 L759.0,943.3 L760.1,940.1 L761.4,942.1 L762.6,943.3 L763.8,939.8 L765.1,942.0 L766.3,942.4 L767.5,946.3 L768.8,944.4 L770.0,945.8 L771.1,947.2 L772.3,950.5 L773.4,951.4 L774.6,955.3 L775.8,959.6 L777.1,961.1 L778.4,962.9 L779.5,960.4 L780.6,964.4 L781.8,961.6 L782.9,961.0 L784.2,960.7 L785.4,963.5 L786.6,966.2 L787.9,964.8 L789.1,964.5 L790.3,963.3 L791.6,964.7 L792.8,966.7 L794.1,969.4 L795.5,976.4 L796.8,980.1 L798.1,985.7 L799.3,982.6 L800.6,974.9 L801.8,969.2 L803.0,966.7 L804.3,964.7 L805.6,961.1 L806.8,961.0 L808.1,955.9 L809.3,951.2 L810.6,946.7 L811.8,943.9 L812.9,943.2 L814.1,943.3 L815.2,939.0 L816.3,938.2 L817.5,938.6 L818.6,936.6 L819.8,939.2 L820.9,937.0 L822.0,936.3 L823.2,934.7 L824.3,939.1 L825.5,937.1 L826.6,937.1 L827.7,940.1 L828.9,937.3 L830.0,941.1 L831.2,940.1 L832.3,937.9 L833.4,938.2 L834.6,937.4 L835.7,937.0 L836.9,932.7 L838.0,934.7 L839.1,932.5 L840.3,933.2 L841.4,934.1 L842.5,929.1 L843.7,931.4 L844.8,930.6 L846.1,930.2 L847.3,931.5 L848.5,928.5 L849.8,928.7 L850.9,930.5 L852.0,932.7 L853.2,930.8 L854.3,932.5 L855.5,934.5 L856.6,938.3 L857.7,935.9 L858.9,942.5 L860.0,942.0 L861.2,941.1 L862.3,941.8 L863.4,940.9 L864.6,943.6 L865.7,942.0 L866.9,944.1 L868.0,947.1 L869.1,945.8 L870.3,951.5 L871.4,951.5 L872.6,951.6 L873.7,949.4 L874.8,945.6 L876.0,944.3 L877.1,943.9 L878.2,946.0 L879.4,946.4 L880.5,953.0 L881.7,952.6 L882.8,955.3 L883.9,958.8 L885.1,956.0 L886.2,959.5 L887.4,961.4 L888.5,961.0 L889.6,962.9 L890.8,962.9 L891.9,962.0 L893.1,965.3 L894.2,966.7 L895.3,967.3 L896.5,971.3 L897.6,972.5 L898.8,973.6 L899.9,972.4 L901.0,975.4 L902.2,971.7 L903.3,971.4 L904.5,974.3 L905.7,976.5 L907.0,978.3 L908.3,983.8 L909.5,984.1 L910.8,988.5 L912.1,990.3 L913.3,986.6 L914.6,986.5 L915.8,983.8 L917.0,954.0 L918.1,924.9 L919.5,907.0 L920.8,890.8 L922.1,900.4 L923.4,906.0 L924.7,906.3 L926.0,911.7 L927.2,911.7 L928.5,910.4 L929.7,909.6 L930.9,905.6 L932.2,906.0 L933.4,906.3 L934.6,906.0 L935.9,901.6 L937.1,902.2 L938.3,902.5 L939.4,903.9 L940.5,903.5 L941.7,904.1 L942.8,904.4 L944.0,902.9 L945.1,900.3 L946.2,900.3 L947.5,900.2 L948.7,899.8 L949.9,897.2 L951.2,896.5 L952.4,893.7 L953.7,890.8 L955.0,887.0 L956.3,891.6 L957.6,896.5 L958.9,893.9 L960.1,895.0 L961.3,896.5 L962.6,894.6 L963.9,904.1 L965.2,911.7 L966.5,912.9 L967.7,918.2 L968.9,922.0 L970.2,924.9 L971.4,923.7 L972.6,920.3 L973.9,921.4 L975.1,919.3 L976.4,919.8 L977.8,918.5 L979.1,920.1 L980.4,917.4 L981.6,913.9 L982.9,907.4 L984.1,904.9 L985.4,902.2 L986.6,902.7 L987.8,899.1 L989.1,903.1 L990.3,900.3 L991.4,900.8 L992.6,900.7 L993.7,897.1 L994.8,898.4 L996.1,896.5 L997.4,901.5 L998.6,900.3 L999.9,897.2 L1001.2,893.7 L1002.4,890.8 L1003.7,894.0 L1005.0,898.4 L1006.2,900.3 L1007.4,900.1 L1008.5,902.6 L1009.7,899.9 L1010.8,902.2 L1012.3,913.8 L1013.8,921.2 L1015.7,917.4" fill="none" stroke="#9DC3E6" stroke-width="1.8" stroke-linejoin="round" stroke-linecap="round"/>
<path d="M57.6,904.1 L58.6,900.7 L59.6,894.2 L60.6,890.8 L62.0,897.6 L63.3,902.2 L64.2,892.3 L65.2,890.8 L66.2,902.1 L67.2,909.2 L68.2,911.7 L69.2,916.3 L70.1,911.4 L71.1,919.1 L72.0,921.2 L73.4,924.4 L74.7,932.5 L75.6,916.9 L76.6,907.9 L77.6,923.6 L78.6,933.7 L79.6,936.3 L81.0,913.2 L82.3,902.2 L83.2,901.6 L84.2,890.8 L85.2,906.1 L86.2,917.1 L87.2,932.5 L88.7,902.2 L89.8,902.2 L90.8,911.0 L91.8,911.7 L92.7,923.4 L93.7,936.3 L95.0,948.4 L96.3,955.3 L97.3,953.9 L98.4,942.4 L99.4,943.9 L100.4,953.4 L101.4,962.2 L102.4,961.0 L103.4,958.9 L104.3,945.5 L105.3,929.1 L106.2,926.8 L107.5,932.4 L108.9,951.5 L109.8,940.7 L110.8,946.4 L111.7,931.7 L112.7,928.7 L113.6,932.5 L114.6,945.8 L115.5,943.2 L116.5,951.5 L117.4,947.5 L118.4,941.1 L119.3,931.1 L120.3,932.5 L121.2,930.9 L122.2,931.9 L123.1,919.0 L124.1,921.2 L125.0,924.9 L126.0,936.3 L126.9,945.6 L127.9,957.2 L129.2,938.5 L130.5,932.5 L131.5,921.1 L132.5,914.0 L133.6,898.4 L134.6,908.2 L135.6,914.0 L136.6,921.2 L137.9,920.6 L139.3,909.8 L140.2,907.0 L141.2,915.5 L142.1,915.0 L143.0,919.3 L144.4,913.1 L145.7,904.1 L146.8,899.3 L148.0,906.0 L149.3,890.6 L150.6,868.0 L151.6,856.6 L152.5,856.6 L153.5,857.6 L154.4,868.0 L155.4,914.8 L156.3,955.3 L157.3,934.0 L158.2,902.2 L159.2,921.3 L160.1,942.0 L161.1,924.8 L162.0,909.8 L163.4,893.9 L164.7,885.1 L165.8,890.5 L167.0,902.2 L168.3,915.2 L169.6,924.9 L171.0,902.7 L172.3,888.9 L173.3,897.1 L174.3,914.9 L175.3,928.7 L176.3,914.0 L177.4,910.5 L178.4,898.4 L179.7,913.3 L181.0,919.3 L182.0,945.4 L182.9,964.8 L183.9,949.4 L184.8,934.4 L185.8,934.1 L186.7,937.3 L187.7,932.9 L188.6,942.0 L189.6,956.3 L190.5,964.8 L191.7,965.2 L192.8,970.5 L193.9,959.1 L195.1,947.0 L196.2,943.9 L197.2,937.5 L198.1,933.7 L199.1,925.3 L200.0,921.2 L201.3,935.8 L202.7,940.1 L203.7,946.4 L204.7,944.0 L205.7,951.5 L206.7,947.5 L207.7,948.6 L208.8,938.2 L210.1,930.0 L211.4,921.2 L212.7,928.3 L214.1,932.5 L215.1,921.2 L216.1,922.3 L217.1,917.4 L218.1,924.4 L219.0,931.2 L220.0,939.0 L220.9,947.7 L221.9,943.9 L222.9,938.2 L223.9,932.5 L225.3,942.8 L226.6,953.4 L227.6,942.6 L228.5,940.3 L229.5,941.5 L230.4,928.7 L231.4,925.6 L232.3,918.1 L233.3,915.7 L234.2,921.2 L235.2,929.2 L236.1,930.1 L237.0,938.3 L238.0,951.5 L238.9,930.4 L239.9,919.3 L240.8,924.8 L241.8,938.5 L242.7,937.6 L243.7,943.9 L244.6,938.6 L245.6,933.5 L246.5,929.7 L247.5,924.9 L248.5,929.3 L249.5,938.3 L250.5,940.1 L251.9,959.8 L253.2,968.6 L254.5,957.1 L255.8,940.1 L256.8,937.1 L257.7,938.5 L258.7,940.5 L259.6,932.5 L260.6,925.6 L261.5,924.9 L262.5,928.6 L263.4,924.9 L264.4,934.2 L265.3,940.2 L266.3,946.1 L267.2,951.5 L268.4,940.7 L269.5,921.2 L270.5,931.3 L271.4,946.2 L272.4,958.7 L273.3,962.9 L274.6,941.2 L276.0,921.2 L276.9,930.1 L277.9,931.9 L278.8,938.2 L279.8,936.3 L281.1,918.7 L282.4,913.6 L283.4,925.1 L284.5,928.7 L285.5,930.6 L286.4,934.5 L287.4,932.0 L288.3,919.0 L289.3,919.3 L290.2,923.2 L291.2,916.8 L292.1,924.9 L293.1,924.9 L294.0,927.7 L295.0,913.8 L295.9,912.8 L296.9,911.7 L297.8,907.9 L298.8,911.9 L299.7,914.5 L300.7,921.2 L301.6,912.4 L302.6,922.7 L303.5,918.2 L304.5,909.8 L305.4,912.1 L306.4,919.0 L307.3,921.1 L308.3,921.2 L309.2,919.1 L310.2,915.3 L311.1,916.4 L312.1,911.7 L313.0,910.1 L314.0,903.5 L314.9,902.5 L315.9,902.2 L316.8,906.4 L317.8,908.8 L318.7,905.0 L319.7,911.7 L320.7,918.3 L321.7,927.1 L322.7,926.8 L323.6,926.4 L324.6,917.6 L325.5,903.7 L326.5,904.1 L327.4,908.2 L328.4,908.7 L329.3,913.4 L330.3,924.9 L331.2,916.7 L332.2,914.8 L333.1,914.4 L334.1,906.0 L335.0,910.7 L336.0,908.5 L336.9,917.3 L337.9,917.4 L339.2,908.9 L340.5,900.3 L341.9,921.2 L343.2,942.0 L344.2,926.2 L345.2,915.9 L346.2,904.1 L347.2,901.2 L348.1,906.5 L349.1,902.4 L350.0,902.2 L351.1,914.7 L352.1,928.4 L353.1,942.0 L354.0,931.8 L355.0,924.7 L355.9,915.1 L356.9,902.2 L357.8,909.4 L358.8,906.5 L359.7,915.0 L360.7,913.6 L362.0,908.6 L363.3,890.8 L364.3,904.8 L365.2,908.1 L366.2,906.1 L367.1,919.3 L368.1,922.5 L369.0,920.4 L370.0,906.4 L370.9,911.7 L372.3,935.1 L373.6,962.9 L374.5,952.4 L375.5,950.1 L376.4,940.2 L377.4,930.6 L378.5,923.7 L379.7,923.0 L380.0,923.0 L381.0,925.6 L382.0,932.3 L383.0,943.9 L384.4,941.8 L385.7,951.5 L386.6,950.9 L387.6,948.3 L388.5,933.3 L389.5,932.5 L390.4,935.2 L391.4,937.3 L392.3,925.1 L393.3,928.7 L394.2,925.5 L395.2,919.3 L396.1,922.7 L397.1,911.7 L398.0,920.3 L399.0,911.3 L399.9,917.3 L400.9,924.9 L401.8,926.7 L402.8,919.4 L403.7,915.3 L404.7,911.7 L405.8,989.5 L406.6,1019.9 L407.7,928.7 L408.9,931.4 L410.0,928.8 L411.1,923.0 L412.1,926.3 L413.0,913.9 L414.0,906.5 L414.9,909.8 L416.0,917.6 L417.0,913.5 L418.0,924.9 L419.0,918.9 L420.0,916.1 L421.0,904.1 L422.0,895.0 L422.9,888.9 L423.9,904.4 L424.8,917.4 L426.1,906.0 L427.5,904.1 L428.8,911.7 L430.1,928.7 L431.3,949.1 L432.4,966.7 L433.9,995.2 L435.1,983.9 L436.2,962.9 L437.2,961.3 L438.1,939.4 L439.1,943.1 L440.0,928.7 L441.3,940.3 L442.7,951.5 L444.0,935.3 L445.3,923.0 L446.3,928.6 L447.4,938.1 L448.4,943.9 L449.4,935.5 L450.4,926.3 L451.4,924.9 L452.7,945.1 L454.1,955.3 L455.4,968.6 L456.7,976.2 L457.9,965.4 L459.0,951.5 L460.3,947.1 L461.7,936.3 L462.6,939.6 L463.6,924.1 L464.5,929.6 L465.5,921.2 L466.8,919.1 L468.1,907.9 L469.1,913.9 L470.1,925.1 L471.2,932.5 L472.2,939.6 L473.2,943.5 L474.2,955.3 L475.5,961.0 L476.8,968.6 L478.2,966.0 L479.5,973.6 L480.6,974.4 L481.8,962.9 L482.7,957.8 L483.6,964.1 L484.6,962.7 L485.5,968.3 L486.4,965.2 L487.4,958.3 L488.3,958.1 L489.2,952.8 L490.1,959.1 L491.7,978.1 L493.2,943.9 L494.5,933.6 L495.8,936.3 L496.8,928.9 L497.7,933.3 L498.7,915.7 L499.6,917.4 L500.6,910.7 L501.5,915.6 L502.5,909.6 L503.4,909.8 L504.4,902.3 L505.3,910.6 L506.3,894.6 L507.2,898.4 L508.6,897.0 L509.9,892.7 L510.9,903.7 L511.9,914.6 L512.9,928.7 L513.9,916.9 L515.0,908.8 L516.0,906.0 L517.3,919.9 L518.6,936.3 L520.0,921.6 L521.3,900.3 L522.3,898.5 L523.3,901.8 L524.3,896.5 L525.3,912.4 L526.3,913.6 L527.4,928.7 L528.7,922.6 L530.0,906.0 L531.0,896.6 L531.9,885.1 L532.9,900.2 L533.8,917.4 L534.8,909.0 L535.7,900.3 L536.7,916.9 L537.7,921.6 L538.8,934.4 L539.7,931.9 L540.7,947.8 L541.6,938.9 L542.6,947.7 L543.9,934.6 L545.2,932.5 L546.2,942.3 L547.1,943.2 L548.1,949.5 L549.0,959.1 L550.0,963.7 L550.9,969.6 L551.9,964.0 L552.8,968.6 L553.8,979.2 L554.7,978.1 L555.7,978.0 L556.7,975.9 L557.7,972.4 L558.7,970.5 L559.6,960.5 L560.6,960.3 L561.5,962.9 L562.9,950.1 L564.2,932.5 L565.2,938.2 L566.1,932.4 L567.0,943.1 L568.0,943.9 L569.3,954.0 L570.7,964.8 L571.7,953.8 L572.7,939.4 L573.7,928.7 L574.6,922.7 L575.6,922.8 L576.5,929.9 L577.5,921.2 L578.4,914.7 L579.4,922.7 L580.3,915.9 L581.3,913.6 L582.3,919.2 L583.3,940.5 L584.3,947.7 L585.7,929.7 L587.0,924.9 L587.9,919.1 L588.9,904.1 L589.9,912.6 L590.9,931.3 L591.9,936.3 L593.3,950.9 L594.6,959.1 L595.5,962.8 L596.5,970.5 L597.5,969.2 L598.5,971.3 L599.5,961.0 L600.9,942.3 L602.2,932.5 L603.1,925.4 L604.1,923.8 L605.0,928.7 L606.0,921.2 L606.9,916.9 L607.9,916.4 L608.8,921.4 L609.8,919.3 L610.7,917.2 L611.7,911.4 L612.6,910.0 L613.6,906.0 L614.9,896.2 L616.2,900.3 L617.4,885.7 L618.5,885.1 L619.8,886.0 L621.2,900.3 L622.1,888.3 L623.1,888.9 L624.1,910.7 L625.1,931.7 L626.1,943.9 L627.4,921.9 L628.8,909.8 L629.7,914.8 L630.7,916.2 L631.6,928.8 L632.6,936.3 L633.9,924.3 L635.2,907.9 L636.2,916.6 L637.2,927.4 L638.3,928.7 L639.3,925.1 L640.3,913.5 L641.3,915.5 L642.6,928.0 L644.0,943.9 L645.3,927.3 L646.6,911.7 L647.6,913.6 L648.5,913.5 L649.5,926.3 L650.4,928.7 L651.4,924.8 L652.4,924.2 L653.5,917.4 L654.5,925.6 L655.5,931.8 L656.5,947.7 L657.4,938.7 L658.4,931.8 L659.3,930.1 L660.3,924.9 L661.6,913.4 L662.9,911.7 L664.3,918.2 L665.6,936.3 L666.6,934.8 L667.5,927.3 L668.5,924.8 L669.4,928.7 L670.4,926.6 L671.3,938.4 L672.3,943.2 L673.2,942.0 L674.2,943.2 L675.1,936.5 L676.1,934.0 L677.0,928.7 L678.0,939.9 L679.0,942.9 L680.0,951.5 L681.1,944.1 L682.1,939.3 L683.1,928.7 L684.0,930.3 L685.0,929.4 L685.9,929.5 L686.9,926.8 L687.8,921.7 L688.8,911.4 L689.7,907.0 L690.7,904.1 L692.0,903.1 L693.3,896.5 L694.7,908.7 L696.0,923.0 L697.0,924.4 L698.0,913.6 L699.0,911.7 L700.0,918.5 L701.1,915.0 L702.1,924.9 L703.4,911.7 L704.7,904.1 L705.7,903.3 L706.6,892.7 L707.6,904.3 L708.6,925.9 L709.7,940.1 L710.0,940.1 L711.0,941.1 L712.0,956.9 L713.0,962.9 L714.4,956.5 L715.7,951.5 L716.6,961.5 L717.6,964.8 L718.5,968.3 L719.5,968.6 L720.8,950.3 L722.2,936.3 L723.3,930.2 L724.4,919.3 L725.8,931.8 L727.1,953.4 L728.0,948.1 L729.0,941.4 L729.9,937.3 L730.9,932.5 L732.2,941.8 L733.5,957.2 L734.5,947.9 L735.4,947.1 L736.4,943.7 L737.3,936.3 L738.4,937.0 L739.4,942.5 L740.4,936.2 L741.4,929.8 L742.4,936.9 L743.4,934.4 L744.9,924.9 L746.1,945.4 L747.2,970.5 L748.5,961.2 L749.9,940.1 L751.2,923.6 L752.5,917.4 L753.5,923.1 L754.6,932.5 L755.6,936.3 L756.5,926.2 L757.5,904.1 L758.8,907.2 L760.1,909.8 L761.3,898.6 L762.4,890.8 L763.7,903.2 L765.1,907.9 L766.4,921.4 L767.7,926.8 L768.7,931.0 L769.8,926.3 L770.8,921.2 L771.8,922.2 L772.8,940.7 L773.8,940.1 L775.1,938.7 L776.5,924.9 L777.8,937.4 L779.1,951.5 L780.1,943.6 L781.1,935.8 L782.2,921.2 L783.1,921.4 L784.1,909.8 L785.4,933.5 L786.7,951.5 L787.7,941.8 L788.7,937.7 L789.8,940.1 L790.7,949.7 L791.7,962.9 L793.0,978.5 L794.3,995.2 L795.5,967.3 L796.6,943.9 L797.9,980.2 L799.3,1010.4 L800.6,980.3 L801.9,943.9 L803.0,952.0 L804.2,962.9 L805.5,960.1 L806.8,951.5 L808.2,942.3 L809.5,942.0 L810.6,970.5 L811.8,987.6 L813.1,960.6 L814.4,940.1 L815.4,931.8 L816.3,931.8 L817.3,935.4 L818.2,926.8 L819.6,936.8 L820.9,943.9 L822.0,932.2 L823.2,915.5 L824.5,946.0 L825.8,968.6 L827.2,943.4 L828.5,921.2 L829.4,932.9 L830.4,938.5 L831.3,937.3 L832.3,942.0 L833.2,940.9 L834.2,937.6 L835.1,929.1 L836.1,923.0 L837.2,932.4 L838.4,951.5 L839.7,940.4 L841.0,924.9 L842.4,916.7 L843.7,909.8 L844.8,907.1 L846.0,894.6 L847.3,900.0 L848.6,913.6 L850.0,916.2 L851.3,932.5 L852.4,921.3 L853.6,919.3 L854.9,934.9 L856.2,959.1 L857.2,953.7 L858.1,947.3 L859.1,945.3 L860.0,943.9 L861.3,954.7 L862.7,962.9 L863.7,952.9 L864.7,952.6 L865.7,947.7 L866.7,954.3 L867.6,958.0 L868.6,975.8 L869.5,981.9 L870.5,972.4 L871.5,966.7 L872.6,953.4 L873.9,973.7 L875.2,983.8 L876.5,958.0 L877.9,943.9 L878.9,952.1 L879.9,953.5 L880.9,959.1 L881.9,970.1 L882.9,965.1 L883.9,976.2 L885.3,968.5 L886.6,951.5 L887.6,952.9 L888.5,950.3 L889.5,958.1 L890.4,961.0 L891.4,973.9 L892.3,976.2 L893.3,966.3 L894.2,966.9 L895.2,958.8 L896.1,961.0 L897.1,950.1 L898.1,958.2 L899.1,949.6 L900.5,958.9 L901.8,966.7 L902.7,960.6 L903.7,958.1 L904.6,939.6 L905.6,938.2 L906.9,953.0 L908.3,955.3 L909.2,958.1 L910.2,958.6 L911.1,957.2 L912.1,951.5 L913.1,943.7 L914.1,932.1 L915.1,932.5 L916.0,905.8 L917.0,868.0 L917.9,858.4 L918.9,845.2 L919.8,848.0 L920.7,847.4 L921.6,841.0 L922.5,846.0 L923.4,843.3 L924.6,959.1 L925.9,944.2 L927.2,930.6 L928.3,917.4 L929.3,911.6 L930.3,902.2 L931.3,896.0 L932.3,888.0 L933.3,885.1 L934.8,904.1 L935.9,898.6 L936.9,892.0 L937.9,877.5 L938.8,878.9 L939.8,877.5 L941.1,901.1 L942.4,936.3 L943.4,935.1 L944.5,934.5 L945.5,930.6 L946.4,927.9 L947.4,913.7 L948.3,905.6 L949.3,902.2 L950.2,906.1 L951.2,908.8 L952.1,923.2 L953.1,924.9 L954.1,907.8 L955.1,904.3 L956.1,892.7 L957.4,926.2 L958.8,951.5 L960.1,936.4 L961.4,934.4 L962.4,936.0 L963.4,954.0 L964.5,953.4 L965.5,956.4 L966.5,968.6 L967.5,970.5 L968.8,954.4 L970.2,951.5 L971.1,968.2 L972.1,985.7 L973.1,964.0 L974.1,950.8 L975.1,938.2 L976.4,943.0 L977.8,961.0 L978.7,963.1 L979.7,959.1 L980.6,956.9 L981.6,957.3 L982.5,960.5 L983.5,957.2 L984.5,943.2 L985.5,931.0 L986.5,924.9 L987.8,928.0 L989.1,943.9 L990.5,927.0 L991.8,906.0 L992.8,922.7 L993.8,931.7 L994.8,949.6 L995.9,936.5 L996.9,929.3 L997.9,909.8 L999.2,914.1 L1000.5,919.3 L1001.9,912.5 L1003.2,898.4 L1004.2,903.9 L1005.2,914.3 L1006.2,921.2 L1007.2,929.9 L1008.1,933.5 L1009.1,936.8 L1010.0,940.1 L1011.0,929.7 L1011.9,924.9 L1012.9,939.4 L1013.8,964.8 L1014.8,948.5 L1015.7,932.5" fill="none" stroke="#0A5CAD" stroke-width="2.1" stroke-linejoin="round" stroke-linecap="round"/>
<line x1="57.6" y1="904.0" x2="1015.7" y2="904.0" stroke="#FF0000" stroke-width="1.4" stroke-dasharray="4 2.5"/>
<line x1="57.6" y1="968.6" x2="1015.7" y2="968.6" stroke="#FF0000" stroke-width="1.4" stroke-dasharray="4 2.5"/>
<line x1="57.6" y1="839.5" x2="57.6" y2="1032.4" stroke="#BFBFBF" stroke-width="1"/>
<line x1="1015.7" y1="839.5" x2="1015.7" y2="1032.4" stroke="#BFBFBF" stroke-width="1"/>
<line x1="57.6" y1="1032.4" x2="1015.7" y2="1032.4" stroke="#D9D9D9" stroke-width="1"/>
<line x1="57.6" y1="859.6" x2="62.6" y2="859.6" stroke="#BFBFBF" stroke-width="1"/>
<text x="47.0" y="864.1" font-size="13" fill="#000" text-anchor="end">3,650</text>
<line x1="57.6" y1="894.2" x2="62.6" y2="894.2" stroke="#BFBFBF" stroke-width="1"/>
<text x="47.0" y="898.7" font-size="13" fill="#000" text-anchor="end">3,400</text>
<line x1="57.6" y1="928.7" x2="62.6" y2="928.7" stroke="#BFBFBF" stroke-width="1"/>
<text x="47.0" y="933.2" font-size="13" fill="#000" text-anchor="end">3,150</text>
<line x1="57.6" y1="963.3" x2="62.6" y2="963.3" stroke="#BFBFBF" stroke-width="1"/>
<text x="47.0" y="967.8" font-size="13" fill="#000" text-anchor="end">2,900</text>
<line x1="57.6" y1="997.8" x2="62.6" y2="997.8" stroke="#BFBFBF" stroke-width="1"/>
<text x="47.0" y="1002.3" font-size="13" fill="#000" text-anchor="end">2,650</text>
<line x1="57.6" y1="1032.4" x2="62.6" y2="1032.4" stroke="#BFBFBF" stroke-width="1"/>
<text x="47.0" y="1036.9" font-size="13" fill="#000" text-anchor="end">2,400</text>
<line x1="1015.7" y1="839.5" x2="1020.7" y2="839.5" stroke="#BFBFBF" stroke-width="1"/>
<text x="1026.5" y="844.0" font-size="13" fill="#000">100%</text>
<line x1="1015.7" y1="904.0" x2="1020.7" y2="904.0" stroke="#BFBFBF" stroke-width="1"/>
<text x="1026.5" y="908.5" font-size="13" fill="#000">10%</text>
<line x1="1015.7" y1="968.6" x2="1020.7" y2="968.6" stroke="#BFBFBF" stroke-width="1"/>
<text x="1026.5" y="973.1" font-size="13" fill="#000">1%</text>
<line x1="1015.7" y1="1032.4" x2="1020.7" y2="1032.4" stroke="#BFBFBF" stroke-width="1"/>
<text x="1026.5" y="1036.9" font-size="13" fill="#000">0%</text>
<text x="64.6" y="1050.0" font-size="13" fill="#000" text-anchor="end" transform="rotate(-45 64.6 1050.0)">2020/01</text>
<text x="94.8" y="1050.0" font-size="13" fill="#000" text-anchor="end" transform="rotate(-45 94.8 1050.0)">2020/03</text>
<text x="124.9" y="1050.0" font-size="13" fill="#000" text-anchor="end" transform="rotate(-45 124.9 1050.0)">2020/05</text>
<text x="155.1" y="1050.0" font-size="13" fill="#000" text-anchor="end" transform="rotate(-45 155.1 1050.0)">2020/07</text>
<text x="185.3" y="1050.0" font-size="13" fill="#000" text-anchor="end" transform="rotate(-45 185.3 1050.0)">2020/09</text>
<text x="215.5" y="1050.0" font-size="13" fill="#000" text-anchor="end" transform="rotate(-45 215.5 1050.0)">2020/11</text>
<text x="245.6" y="1050.0" font-size="13" fill="#000" text-anchor="end" transform="rotate(-45 245.6 1050.0)">2021/01</text>
<text x="275.8" y="1050.0" font-size="13" fill="#000" text-anchor="end" transform="rotate(-45 275.8 1050.0)">2021/03</text>
<text x="306.0" y="1050.0" font-size="13" fill="#000" text-anchor="end" transform="rotate(-45 306.0 1050.0)">2021/05</text>
<text x="336.1" y="1050.0" font-size="13" fill="#000" text-anchor="end" transform="rotate(-45 336.1 1050.0)">2021/07</text>
<text x="366.3" y="1050.0" font-size="13" fill="#000" text-anchor="end" transform="rotate(-45 366.3 1050.0)">2021/09</text>
<text x="396.5" y="1050.0" font-size="13" fill="#000" text-anchor="end" transform="rotate(-45 396.5 1050.0)">2021/11</text>
<text x="426.6" y="1050.0" font-size="13" fill="#000" text-anchor="end" transform="rotate(-45 426.6 1050.0)">2022/01</text>
<text x="456.8" y="1050.0" font-size="13" fill="#000" text-anchor="end" transform="rotate(-45 456.8 1050.0)">2022/03</text>
<text x="487.0" y="1050.0" font-size="13" fill="#000" text-anchor="end" transform="rotate(-45 487.0 1050.0)">2022/05</text>
<text x="517.1" y="1050.0" font-size="13" fill="#000" text-anchor="end" transform="rotate(-45 517.1 1050.0)">2022/07</text>
<text x="547.3" y="1050.0" font-size="13" fill="#000" text-anchor="end" transform="rotate(-45 547.3 1050.0)">2022/09</text>
<text x="577.5" y="1050.0" font-size="13" fill="#000" text-anchor="end" transform="rotate(-45 577.5 1050.0)">2022/11</text>
<text x="607.7" y="1050.0" font-size="13" fill="#000" text-anchor="end" transform="rotate(-45 607.7 1050.0)">2023/01</text>
<text x="637.8" y="1050.0" font-size="13" fill="#000" text-anchor="end" transform="rotate(-45 637.8 1050.0)">2023/03</text>
<text x="668.0" y="1050.0" font-size="13" fill="#000" text-anchor="end" transform="rotate(-45 668.0 1050.0)">2023/05</text>
<text x="698.2" y="1050.0" font-size="13" fill="#000" text-anchor="end" transform="rotate(-45 698.2 1050.0)">2023/07</text>
<text x="728.3" y="1050.0" font-size="13" fill="#000" text-anchor="end" transform="rotate(-45 728.3 1050.0)">2023/09</text>
<text x="758.5" y="1050.0" font-size="13" fill="#000" text-anchor="end" transform="rotate(-45 758.5 1050.0)">2023/11</text>
<text x="788.7" y="1050.0" font-size="13" fill="#000" text-anchor="end" transform="rotate(-45 788.7 1050.0)">2024/01</text>
<text x="818.9" y="1050.0" font-size="13" fill="#000" text-anchor="end" transform="rotate(-45 818.9 1050.0)">2024/03</text>
<text x="849.0" y="1050.0" font-size="13" fill="#000" text-anchor="end" transform="rotate(-45 849.0 1050.0)">2024/05</text>
<text x="879.2" y="1050.0" font-size="13" fill="#000" text-anchor="end" transform="rotate(-45 879.2 1050.0)">2024/07</text>
<text x="909.4" y="1050.0" font-size="13" fill="#000" text-anchor="end" transform="rotate(-45 909.4 1050.0)">2024/09</text>
<text x="939.5" y="1050.0" font-size="13" fill="#000" text-anchor="end" transform="rotate(-45 939.5 1050.0)">2024/11</text>
<text x="969.7" y="1050.0" font-size="13" fill="#000" text-anchor="end" transform="rotate(-45 969.7 1050.0)">2025/01</text>
<text x="999.9" y="1050.0" font-size="13" fill="#000" text-anchor="end" transform="rotate(-45 999.9 1050.0)">2025/03</text>
<path d="M396.0,814.3 L421.0,814.3" fill="none" stroke="#9DC3E6" stroke-width="2" stroke-linejoin="round" stroke-linecap="round"/>
<text x="426.0" y="818.3" font-size="12.5" fill="#000">上证指数</text>
<path d="M498.0,814.3 L524.0,814.3" fill="none" stroke="#0A5CAD" stroke-width="2" stroke-linejoin="round" stroke-linecap="round"/>
<text x="528.5" y="818.3" font-size="12.5" fill="#000">全部<tspan font-weight="bold">A</tspan>股<tspan font-weight="bold">-60</tspan>日新高个股占比</text>
<line x1="86.0" y1="1170.9" x2="90.0" y2="1170.9" stroke="#BFBFBF" stroke-width="1"/>
<line x1="86.0" y1="1203.8" x2="90.0" y2="1203.8" stroke="#BFBFBF" stroke-width="1"/>
<line x1="86.0" y1="1236.7" x2="90.0" y2="1236.7" stroke="#BFBFBF" stroke-width="1"/>
<line x1="86.0" y1="1269.7" x2="90.0" y2="1269.7" stroke="#BFBFBF" stroke-width="1"/>
<line x1="86.0" y1="1302.6" x2="90.0" y2="1302.6" stroke="#BFBFBF" stroke-width="1"/>
<line x1="86.0" y1="1335.5" x2="90.0" y2="1335.5" stroke="#BFBFBF" stroke-width="1"/>
<line x1="86.0" y1="1368.4" x2="90.0" y2="1368.4" stroke="#BFBFBF" stroke-width="1"/>
<line x1="86.0" y1="1170.9" x2="992.8" y2="1170.9" stroke="#E4E4E4" stroke-width="1"/>
<line x1="86.0" y1="1190.7" x2="992.8" y2="1190.7" stroke="#E4E4E4" stroke-width="1"/>
<line x1="86.0" y1="1210.4" x2="992.8" y2="1210.4" stroke="#E4E4E4" stroke-width="1"/>
<line x1="86.0" y1="1230.2" x2="992.8" y2="1230.2" stroke="#E4E4E4" stroke-width="1"/>
<line x1="86.0" y1="1249.9" x2="992.8" y2="1249.9" stroke="#E4E4E4" stroke-width="1"/>
<line x1="86.0" y1="1269.7" x2="992.8" y2="1269.7" stroke="#E4E4E4" stroke-width="1"/>
<line x1="86.0" y1="1289.4" x2="992.8" y2="1289.4" stroke="#E4E4E4" stroke-width="1"/>
<line x1="86.0" y1="1309.2" x2="992.8" y2="1309.2" stroke="#E4E4E4" stroke-width="1"/>
<line x1="86.0" y1="1328.9" x2="992.8" y2="1328.9" stroke="#E4E4E4" stroke-width="1"/>
<line x1="86.0" y1="1348.7" x2="992.8" y2="1348.7" stroke="#E4E4E4" stroke-width="1"/>
<line x1="86.0" y1="1368.4" x2="992.8" y2="1368.4" stroke="#E4E4E4" stroke-width="1"/>
<path d="M86.0,1292.4 L87.2,1291.3 L88.4,1290.7 L89.7,1291.2 L90.9,1288.6 L92.2,1290.4 L93.4,1292.5 L94.7,1294.3 L96.0,1302.2 L97.2,1308.7 L98.5,1317.1 L100.0,1326.6 L101.5,1336.1 L103.2,1323.1 L104.9,1309.5 L106.5,1314.3 L108.0,1317.1 L109.5,1307.4 L111.0,1300.0 L112.3,1296.5 L113.7,1294.3 L114.9,1295.4 L116.2,1300.5 L117.5,1301.9 L118.7,1307.6 L120.0,1310.7 L121.3,1317.1 L123.2,1336.1 L124.5,1343.2 L125.8,1347.5 L127.3,1342.2 L128.9,1334.2 L130.1,1333.5 L131.4,1332.1 L132.7,1330.4 L133.9,1327.7 L135.1,1325.8 L136.4,1326.2 L137.6,1324.7 L139.1,1322.4 L140.6,1322.2 L142.2,1322.8 L143.4,1320.0 L144.7,1317.3 L146.0,1317.1 L147.5,1317.0 L149.0,1316.9 L150.5,1317.1 L151.8,1321.4 L153.0,1323.5 L154.3,1326.6 L155.5,1323.7 L156.8,1320.0 L158.0,1317.2 L159.3,1313.3 L160.5,1313.1 L161.7,1312.4 L163.0,1315.3 L164.2,1313.3 L165.5,1312.5 L166.7,1309.4 L168.0,1305.7 L169.3,1305.9 L170.5,1303.7 L171.8,1303.8 L173.1,1279.6 L174.4,1256.3 L175.8,1249.1 L177.1,1243.0 L178.6,1258.3 L180.1,1275.3 L181.4,1272.4 L182.7,1267.4 L183.9,1263.9 L185.2,1261.3 L186.5,1256.0 L187.7,1252.5 L189.0,1253.7 L190.3,1252.6 L191.5,1250.6 L192.8,1252.1 L194.1,1256.0 L195.3,1260.1 L196.6,1257.7 L197.9,1252.4 L199.1,1248.7 L200.4,1254.1 L201.7,1256.0 L202.9,1260.1 L204.2,1262.6 L205.5,1268.2 L206.7,1271.5 L208.0,1268.6 L209.3,1263.2 L210.5,1260.1 L211.8,1263.3 L213.1,1268.5 L214.3,1273.4 L215.6,1271.8 L216.9,1268.0 L218.1,1263.9 L219.4,1260.1 L220.7,1258.0 L221.9,1256.3 L223.4,1256.8 L225.0,1258.5 L226.5,1262.0 L227.7,1262.7 L228.9,1259.8 L230.2,1260.8 L231.4,1260.1 L232.6,1258.1 L233.9,1255.2 L235.1,1255.3 L236.4,1252.5 L237.9,1249.9 L239.4,1250.6 L240.9,1248.7 L242.4,1247.9 L243.9,1249.7 L245.5,1250.6 L246.7,1251.0 L247.9,1252.7 L249.2,1256.6 L250.4,1256.3 L251.6,1256.0 L252.9,1252.8 L254.1,1253.5 L255.3,1250.6 L256.6,1243.5 L257.9,1237.7 L259.1,1231.7 L260.4,1231.0 L261.7,1228.4 L262.9,1226.0 L264.5,1223.2 L266.0,1225.3 L267.5,1222.2 L268.8,1226.4 L270.0,1231.6 L271.3,1237.4 L272.6,1233.8 L273.8,1228.0 L275.1,1224.1 L276.4,1220.2 L277.6,1216.3 L278.9,1214.6 L280.4,1211.5 L281.9,1211.5 L283.3,1221.8 L284.6,1231.7 L285.9,1232.6 L287.2,1235.5 L288.8,1246.2 L290.3,1256.3 L291.5,1250.9 L292.8,1246.1 L294.1,1241.2 L295.3,1244.1 L296.6,1243.6 L297.9,1244.9 L299.3,1246.6 L300.7,1249.2 L302.1,1248.0 L303.6,1250.6 L304.8,1247.1 L306.0,1247.3 L307.3,1244.6 L308.5,1241.2 L310.0,1241.5 L311.5,1242.5 L313.1,1244.9 L314.6,1244.6 L316.1,1244.1 L317.6,1241.2 L318.9,1241.3 L320.2,1245.3 L321.4,1244.9 L322.7,1241.0 L324.0,1235.1 L325.2,1229.8 L326.5,1226.3 L327.8,1222.1 L329.0,1220.3 L330.3,1220.5 L331.6,1225.7 L332.8,1226.0 L334.1,1224.0 L335.3,1224.8 L336.5,1222.2 L337.8,1222.2 L339.0,1227.0 L340.3,1230.1 L341.6,1233.6 L342.8,1231.4 L344.0,1229.5 L345.3,1230.1 L346.5,1227.9 L348.0,1226.8 L349.5,1228.1 L351.0,1229.8 L352.6,1230.0 L354.1,1229.8 L355.4,1242.9 L356.7,1254.4 L358.0,1250.0 L359.2,1244.3 L360.4,1241.5 L361.7,1235.5 L362.9,1237.6 L364.2,1240.2 L365.5,1244.9 L367.0,1239.8 L368.5,1235.9 L370.0,1231.7 L371.3,1225.3 L372.6,1220.5 L373.8,1216.5 L375.1,1213.5 L376.4,1211.6 L377.6,1208.9 L379.2,1213.4 L380.7,1220.3 L381.9,1220.4 L383.2,1223.0 L384.5,1222.2 L385.7,1226.3 L387.0,1227.8 L388.3,1229.8 L389.8,1229.2 L391.3,1227.5 L392.8,1226.0 L394.1,1223.9 L395.4,1222.9 L396.6,1224.1 L398.1,1226.3 L399.7,1231.7 L400.0,1231.7 L401.5,1235.0 L403.0,1236.2 L404.6,1237.4 L405.8,1237.1 L407.0,1231.8 L408.3,1232.1 L409.5,1229.8 L410.7,1228.7 L412.0,1228.7 L413.2,1226.2 L414.4,1226.0 L415.7,1224.5 L417.0,1218.2 L418.2,1216.5 L419.5,1215.4 L420.8,1214.8 L422.0,1212.7 L423.3,1217.2 L424.6,1219.8 L425.8,1222.2 L427.1,1221.6 L428.4,1220.7 L429.6,1218.4 L430.9,1221.7 L432.2,1221.6 L433.4,1224.1 L434.9,1226.6 L436.5,1229.3 L438.0,1229.8 L439.5,1234.8 L441.0,1237.4 L442.3,1245.7 L443.7,1254.4 L444.9,1252.2 L446.2,1249.3 L447.5,1244.9 L448.7,1243.3 L450.0,1241.6 L451.3,1239.3 L452.5,1239.3 L453.7,1240.5 L455.0,1241.1 L456.2,1241.2 L457.5,1238.9 L458.7,1240.4 L460.0,1239.3 L461.3,1254.6 L462.7,1267.7 L464.0,1281.9 L465.3,1294.3 L467.6,1271.5 L469.1,1271.1 L470.6,1268.6 L472.2,1267.7 L473.4,1268.7 L474.7,1268.1 L476.0,1267.7 L477.2,1272.0 L478.5,1277.7 L479.8,1281.0 L481.3,1285.4 L482.8,1292.4 L484.1,1299.8 L485.5,1305.7 L486.8,1299.5 L488.1,1296.2 L489.3,1295.7 L490.6,1294.3 L491.8,1292.4 L493.0,1292.4 L494.3,1293.2 L495.5,1292.4 L496.8,1292.9 L498.0,1292.4 L499.5,1282.9 L500.7,1281.5 L502.0,1276.4 L503.2,1272.7 L504.4,1271.5 L505.7,1268.9 L506.9,1268.4 L508.1,1264.8 L509.4,1263.9 L510.9,1258.4 L512.4,1256.4 L513.9,1250.6 L515.2,1251.9 L516.5,1251.7 L517.7,1252.5 L519.0,1257.6 L520.3,1259.6 L521.5,1263.9 L522.8,1267.0 L524.1,1268.0 L525.3,1271.5 L526.9,1270.0 L528.4,1270.1 L529.9,1267.7 L531.1,1268.9 L532.4,1268.3 L533.6,1265.9 L534.8,1265.8 L536.1,1267.1 L537.3,1267.0 L538.5,1267.3 L539.8,1269.6 L541.3,1270.3 L542.8,1272.2 L544.3,1271.5 L545.7,1271.9 L547.2,1270.4 L548.6,1270.4 L550.0,1267.7 L551.3,1276.7 L552.7,1286.7 L553.9,1288.8 L555.2,1292.9 L556.5,1296.2 L557.7,1297.8 L558.9,1300.0 L560.2,1303.0 L561.4,1305.7 L562.7,1302.3 L563.9,1298.1 L565.2,1294.3 L566.4,1296.1 L567.7,1300.2 L568.9,1303.1 L570.1,1303.8 L571.5,1306.5 L572.8,1309.5 L574.1,1303.2 L575.3,1298.0 L576.6,1294.3 L577.8,1294.8 L579.1,1290.7 L580.3,1292.3 L581.5,1290.5 L583.1,1290.2 L584.6,1288.5 L586.1,1288.6 L587.4,1287.1 L588.6,1281.9 L589.9,1281.0 L591.4,1279.0 L592.9,1279.6 L594.5,1279.1 L595.7,1282.8 L597.0,1290.3 L598.3,1294.3 L599.5,1291.5 L600.7,1289.2 L602.0,1287.0 L603.2,1286.7 L604.4,1285.8 L605.7,1283.7 L606.9,1282.9 L608.1,1281.0 L609.4,1277.7 L610.7,1274.4 L611.9,1269.6 L613.4,1270.1 L615.0,1267.8 L616.5,1265.8 L618.0,1266.0 L619.5,1268.3 L621.0,1269.6 L622.3,1267.0 L623.5,1265.0 L624.7,1265.3 L626.0,1263.9 L627.2,1264.3 L628.4,1261.7 L629.7,1261.6 L630.9,1262.0 L632.4,1262.7 L634.0,1265.3 L635.5,1265.8 L637.0,1265.3 L638.5,1265.0 L640.0,1263.9 L641.3,1263.5 L642.5,1260.7 L643.7,1260.7 L645.0,1258.2 L646.4,1258.3 L647.8,1253.9 L649.2,1255.6 L650.7,1252.5 L652.2,1255.9 L653.7,1256.3 L655.2,1260.1 L656.5,1258.1 L657.7,1256.8 L658.9,1255.9 L660.2,1252.5 L661.4,1255.9 L662.7,1260.4 L664.0,1263.9 L665.2,1267.6 L666.4,1269.7 L667.7,1272.6 L668.9,1273.4 L670.4,1272.7 L671.9,1272.8 L673.5,1271.5 L674.9,1269.9 L676.3,1271.4 L677.7,1271.4 L679.1,1269.6 L680.4,1271.6 L681.6,1273.3 L682.9,1272.9 L684.1,1275.3 L685.6,1275.6 L687.1,1274.6 L688.6,1271.5 L690.1,1273.9 L691.5,1272.6 L692.9,1274.1 L694.3,1273.4 L695.8,1270.9 L697.2,1271.1 L698.6,1269.0 L700.0,1265.8 L701.3,1267.2 L702.6,1268.1 L703.8,1271.5 L705.4,1274.5 L706.9,1278.0 L708.4,1281.0 L709.7,1283.9 L710.9,1284.8 L712.2,1286.7 L713.4,1283.6 L714.7,1285.0 L715.9,1280.9 L717.1,1281.0 L718.4,1283.6 L719.6,1282.7 L720.8,1284.7 L722.1,1286.7 L723.3,1287.2 L724.6,1284.1 L725.9,1284.8 L727.1,1284.8 L728.4,1287.4 L729.7,1288.6 L730.0,1288.6 L731.5,1290.1 L733.0,1291.2 L734.6,1290.5 L735.8,1294.3 L737.1,1298.3 L738.4,1300.0 L739.6,1302.5 L740.9,1306.6 L742.2,1307.6 L743.4,1303.7 L744.7,1301.6 L746.0,1300.0 L747.2,1298.7 L748.4,1296.4 L749.7,1296.6 L750.9,1294.3 L752.1,1295.3 L753.4,1295.4 L754.6,1297.1 L755.8,1296.2 L757.3,1297.7 L758.9,1298.0 L760.4,1300.0 L761.6,1301.5 L762.9,1305.1 L764.2,1305.7 L765.4,1309.6 L766.7,1309.8 L768.0,1313.3 L769.2,1311.3 L770.5,1308.5 L771.8,1303.8 L773.0,1305.2 L774.3,1306.6 L775.6,1307.6 L776.8,1305.8 L778.1,1306.5 L779.4,1305.7 L780.9,1317.1 L782.4,1328.5 L783.7,1322.2 L785.1,1315.2 L786.4,1323.5 L787.7,1334.2 L790.0,1341.8 L791.3,1332.5 L792.7,1320.9 L793.9,1319.1 L795.2,1316.8 L796.5,1315.2 L797.8,1310.4 L799.1,1303.8 L800.4,1303.1 L801.6,1301.9 L802.8,1301.7 L804.1,1300.0 L805.3,1296.6 L806.5,1296.4 L807.8,1294.0 L809.0,1292.4 L810.3,1296.5 L811.5,1298.9 L812.8,1300.0 L814.1,1296.7 L815.3,1294.9 L816.6,1292.4 L817.9,1293.7 L819.1,1297.3 L820.4,1300.0 L821.7,1299.2 L822.9,1297.7 L824.2,1294.3 L825.5,1294.9 L826.7,1294.9 L828.0,1296.2 L829.3,1292.0 L830.5,1290.3 L831.8,1286.7 L833.3,1287.1 L834.8,1282.8 L836.3,1282.9 L837.6,1283.4 L838.9,1279.8 L840.1,1281.0 L841.4,1283.2 L842.7,1286.5 L843.9,1290.5 L845.5,1292.5 L847.0,1292.4 L848.5,1294.3 L849.7,1295.7 L851.0,1298.5 L852.2,1298.6 L853.4,1301.9 L854.7,1304.2 L855.9,1303.4 L857.1,1306.2 L858.4,1307.6 L859.9,1305.4 L861.4,1303.9 L862.9,1303.8 L864.4,1305.8 L866.0,1307.4 L867.5,1309.5 L868.7,1311.0 L870.0,1313.0 L871.2,1315.3 L872.4,1317.1 L873.7,1316.8 L874.9,1317.9 L876.1,1320.5 L877.4,1320.9 L878.9,1320.8 L880.4,1319.8 L881.9,1319.0 L883.4,1322.8 L885.0,1324.5 L886.5,1326.6 L887.7,1329.2 L889.0,1328.1 L890.3,1330.4 L891.5,1334.4 L892.8,1337.8 L894.1,1339.9 L895.6,1340.5 L897.1,1338.0 L898.4,1319.6 L899.8,1301.9 L901.7,1248.7 L903.9,1241.2 L905.3,1254.0 L906.6,1267.7 L907.9,1274.7 L909.3,1279.1 L910.8,1270.7 L912.3,1263.9 L913.6,1267.1 L914.8,1267.9 L916.1,1267.7 L917.4,1258.5 L918.6,1250.6 L919.9,1243.0 L921.4,1243.0 L922.9,1241.2 L924.3,1251.0 L925.6,1262.0 L926.9,1263.5 L928.3,1267.7 L929.5,1263.7 L930.8,1257.4 L932.1,1252.5 L933.3,1250.3 L934.6,1245.0 L935.8,1243.0 L937.1,1245.9 L938.4,1250.0 L939.6,1252.5 L941.2,1252.7 L942.7,1256.3 L944.2,1252.5 L945.7,1250.6 L947.1,1263.4 L948.4,1275.3 L949.7,1279.6 L951.0,1281.0 L952.6,1277.8 L954.1,1271.5 L955.3,1270.7 L956.6,1272.8 L957.9,1273.4 L959.1,1273.8 L960.4,1272.2 L961.7,1271.5 L962.9,1268.3 L964.2,1262.9 L965.5,1260.1 L967.0,1256.1 L968.5,1253.7 L970.0,1252.5 L971.5,1253.8 L973.1,1258.2 L974.3,1257.2 L975.6,1255.8 L976.9,1254.4 L978.1,1252.1 L979.4,1248.2 L980.7,1246.8 L982.2,1250.6 L983.7,1256.3 L985.0,1254.0 L986.2,1255.1 L987.5,1252.5 L988.8,1257.9 L990.2,1260.1 L991.5,1260.8 L992.8,1258.2" fill="none" stroke="#9DC3E6" stroke-width="2" stroke-linejoin="round" stroke-linecap="round"/>
<path d="M86.0,1296.2 L87.5,1283.8 L89.0,1271.5 L90.5,1268.3 L92.0,1263.9 L93.4,1267.4 L94.7,1269.6 L96.0,1273.2 L97.3,1279.1 L98.9,1287.2 L100.4,1298.1 L102.3,1322.8 L103.6,1312.0 L104.9,1301.9 L106.5,1298.2 L108.0,1296.2 L109.5,1286.7 L111.0,1275.3 L112.3,1270.3 L113.7,1263.9 L115.6,1284.8 L117.5,1248.0 L118.8,1256.3 L120.1,1263.9 L122.4,1296.2 L123.7,1293.6 L125.1,1290.5 L126.4,1298.6 L127.7,1305.7 L129.2,1297.0 L130.8,1290.5 L132.3,1295.1 L133.8,1300.0 L135.1,1295.0 L136.3,1293.9 L137.6,1288.6 L138.9,1290.9 L140.1,1297.4 L141.4,1300.0 L142.7,1295.9 L143.9,1295.7 L145.2,1292.4 L146.5,1290.5 L147.7,1289.5 L149.0,1288.6 L150.3,1293.0 L151.5,1293.2 L152.8,1298.1 L154.3,1290.9 L155.8,1288.1 L157.4,1281.0 L158.8,1280.6 L160.2,1278.3 L161.6,1281.7 L163.0,1279.1 L164.3,1279.5 L165.5,1274.7 L166.8,1274.5 L168.0,1273.4 L169.3,1271.8 L170.5,1272.6 L171.8,1273.4 L173.7,1244.9 L175.6,1214.6 L177.5,1210.0 L179.4,1237.4 L180.7,1229.2 L182.0,1220.3 L183.9,1241.2 L185.5,1228.8 L187.0,1218.4 L188.2,1219.8 L189.5,1217.7 L190.8,1220.3 L192.0,1215.7 L193.3,1214.6 L194.6,1210.0 L195.9,1214.8 L197.2,1220.3 L198.5,1218.0 L199.8,1216.8 L201.0,1214.6 L202.3,1215.1 L203.6,1215.3 L204.8,1216.5 L206.7,1241.2 L208.0,1237.4 L209.3,1238.2 L210.5,1235.5 L212.0,1250.9 L213.6,1263.9 L214.8,1261.8 L216.1,1256.9 L217.4,1252.5 L218.7,1246.4 L220.0,1241.2 L221.3,1243.2 L222.6,1246.9 L223.8,1248.7 L225.1,1255.0 L226.5,1260.1 L228.0,1266.5 L229.5,1275.3 L231.0,1267.8 L232.6,1262.0 L233.8,1260.2 L235.1,1259.6 L236.4,1258.2 L237.6,1257.6 L238.9,1254.4 L240.1,1252.5 L241.5,1255.7 L242.8,1262.0 L244.1,1260.4 L245.5,1256.3 L247.0,1269.5 L248.5,1282.9 L249.8,1283.6 L251.0,1283.0 L252.3,1284.8 L253.6,1288.4 L254.8,1292.0 L256.1,1296.2 L257.4,1296.7 L258.6,1293.3 L259.9,1294.3 L261.2,1298.9 L262.4,1302.1 L263.7,1307.6 L265.0,1309.1 L266.2,1306.9 L267.5,1309.5 L268.8,1311.2 L270.0,1314.0 L271.3,1317.1 L272.8,1320.8 L274.3,1321.8 L275.8,1326.6 L277.1,1323.3 L278.4,1319.2 L279.6,1317.1 L281.2,1311.6 L282.7,1307.6 L284.0,1308.1 L285.2,1310.8 L286.5,1309.5 L287.7,1312.0 L289.0,1316.3 L290.3,1317.1 L291.5,1312.1 L292.8,1311.0 L294.1,1305.7 L295.3,1304.5 L296.6,1303.1 L297.9,1303.8 L299.4,1305.5 L300.9,1306.8 L302.4,1305.7 L303.7,1306.4 L305.0,1309.9 L306.2,1313.3 L307.5,1311.1 L308.8,1306.4 L310.0,1303.8 L311.3,1304.2 L312.5,1304.7 L313.7,1306.2 L315.0,1309.5 L316.2,1309.5 L317.4,1310.6 L318.7,1310.2 L319.9,1307.6 L321.4,1305.1 L322.9,1300.7 L324.5,1300.0 L325.7,1296.8 L327.0,1296.0 L328.3,1292.4 L329.8,1294.5 L331.3,1294.3 L332.8,1294.3 L334.1,1290.9 L335.3,1289.7 L336.5,1287.1 L337.8,1284.8 L339.0,1284.9 L340.2,1282.9 L341.5,1285.3 L342.7,1282.9 L344.2,1283.3 L345.7,1279.0 L347.3,1279.1 L348.8,1275.8 L350.3,1275.5 L351.8,1271.5 L353.1,1277.8 L354.3,1286.8 L355.6,1292.4 L356.9,1285.5 L358.1,1279.1 L359.4,1271.5 L360.7,1269.1 L361.9,1264.2 L363.2,1262.0 L364.5,1262.4 L365.7,1263.6 L367.0,1265.8 L368.3,1264.7 L369.5,1262.8 L370.8,1260.1 L372.3,1251.4 L373.8,1244.9 L375.4,1243.0 L376.9,1238.1 L378.2,1238.3 L379.5,1239.3 L380.9,1244.1 L382.2,1250.6 L384.5,1248.7 L385.8,1262.8 L387.1,1277.2 L388.5,1271.1 L389.8,1262.0 L392.1,1258.2 L393.4,1270.7 L394.7,1282.9 L396.1,1284.4 L397.4,1284.8 L399.7,1300.0 L400.0,1298.1 L401.3,1295.8 L402.5,1292.2 L403.8,1286.7 L405.3,1278.0 L406.8,1267.7 L408.1,1264.9 L409.4,1263.0 L410.6,1260.1 L411.9,1259.1 L413.2,1256.2 L414.4,1252.5 L415.7,1255.4 L417.0,1257.0 L418.2,1260.1 L419.5,1254.6 L420.8,1250.8 L422.0,1244.9 L423.3,1246.5 L424.6,1245.5 L425.8,1248.7 L427.3,1245.1 L428.9,1241.3 L430.4,1235.5 L431.6,1238.5 L432.9,1240.8 L434.2,1241.2 L435.4,1242.3 L436.7,1240.0 L438.0,1239.3 L439.9,1260.1 L441.2,1283.5 L442.5,1305.7 L444.1,1297.7 L445.6,1290.5 L446.8,1283.5 L448.1,1278.7 L449.4,1273.4 L450.9,1275.6 L452.4,1279.1 L453.7,1275.9 L455.1,1269.6 L456.4,1271.4 L457.7,1271.5 L460.0,1281.0 L461.3,1292.5 L462.7,1303.8 L464.6,1326.6 L466.1,1314.6 L467.6,1301.9 L468.9,1299.7 L470.1,1300.8 L471.4,1300.0 L472.7,1303.6 L474.1,1305.7 L475.4,1309.1 L476.7,1313.3 L478.2,1317.2 L479.8,1322.8 L481.3,1331.1 L482.8,1339.9 L484.1,1344.0 L485.5,1349.4 L486.7,1347.6 L488.0,1343.0 L489.3,1341.8 L490.5,1337.7 L491.8,1336.0 L493.0,1334.2 L494.3,1332.4 L495.6,1330.1 L496.8,1326.6 L498.7,1336.1 L500.3,1329.0 L501.8,1320.9 L503.1,1321.4 L504.3,1317.8 L505.6,1317.1 L507.1,1313.3 L508.6,1313.3 L510.1,1311.4 L511.4,1304.9 L512.7,1297.7 L513.9,1292.4 L515.2,1295.6 L516.5,1296.9 L517.7,1300.0 L519.0,1300.2 L520.3,1301.8 L521.5,1303.8 L522.8,1300.9 L524.1,1293.3 L525.3,1290.5 L526.6,1291.2 L527.9,1292.2 L529.1,1294.3 L530.6,1286.7 L532.2,1281.0 L533.4,1277.6 L534.7,1273.7 L536.0,1271.5 L537.2,1273.4 L538.5,1271.5 L539.8,1271.5 L541.1,1279.7 L542.4,1286.7 L543.8,1292.3 L545.1,1300.0 L546.6,1291.4 L548.1,1282.9 L549.6,1289.0 L551.2,1294.3 L552.5,1306.6 L553.8,1317.1 L555.1,1318.0 L556.3,1320.7 L557.6,1322.8 L558.9,1327.9 L560.1,1331.6 L561.4,1334.2 L562.7,1333.6 L564.1,1335.3 L565.6,1323.5 L567.1,1311.4 L568.6,1317.1 L570.1,1320.9 L571.5,1316.7 L572.8,1313.3 L574.1,1304.3 L575.5,1294.3 L577.0,1291.1 L578.5,1286.7 L580.0,1282.6 L581.5,1275.3 L582.8,1279.9 L584.1,1284.8 L585.3,1288.6 L586.6,1283.7 L587.9,1280.6 L589.1,1275.3 L590.4,1276.5 L591.7,1279.1 L592.9,1281.0 L594.3,1288.2 L595.6,1296.2 L596.9,1304.2 L598.3,1313.3 L599.8,1310.0 L601.3,1309.5 L602.6,1302.9 L603.8,1298.3 L605.1,1292.4 L606.4,1285.9 L607.6,1279.6 L608.9,1275.3 L610.2,1272.6 L611.4,1267.0 L612.7,1263.9 L614.0,1259.0 L615.2,1251.6 L616.5,1244.9 L617.7,1241.4 L619.0,1240.0 L620.3,1235.5 L621.8,1234.1 L623.3,1229.8 L624.6,1236.8 L626.0,1244.9 L627.3,1238.9 L628.6,1235.5 L630.2,1242.6 L631.7,1248.7 L633.2,1249.2 L634.7,1246.8 L636.0,1259.5 L637.4,1271.5 L638.6,1269.4 L639.9,1264.9 L641.2,1262.0 L642.4,1265.6 L643.7,1267.5 L645.0,1271.5 L646.2,1270.5 L647.5,1269.8 L648.8,1269.6 L650.1,1272.1 L651.4,1275.3 L652.9,1285.5 L654.5,1296.2 L656.4,1305.7 L657.6,1302.3 L658.9,1295.7 L660.2,1292.4 L661.4,1290.0 L662.7,1288.9 L664.0,1288.6 L665.2,1292.4 L666.5,1292.5 L667.8,1294.3 L669.0,1289.5 L670.3,1289.2 L671.6,1284.8 L672.8,1287.6 L674.1,1288.7 L675.4,1288.6 L676.6,1286.2 L677.9,1285.7 L679.1,1282.9 L680.4,1286.0 L681.7,1289.2 L682.9,1294.3 L684.2,1290.5 L685.5,1285.3 L686.7,1279.1 L688.0,1275.5 L689.3,1275.5 L690.5,1271.5 L691.8,1270.9 L693.1,1273.3 L694.3,1275.3 L695.6,1271.5 L696.9,1270.2 L698.1,1269.6 L699.4,1267.0 L700.7,1268.0 L701.9,1265.8 L703.3,1268.9 L704.6,1273.4 L706.1,1280.1 L707.6,1288.6 L709.2,1291.3 L710.7,1296.2 L712.0,1307.1 L713.3,1319.0 L714.7,1308.6 L716.0,1296.2 L717.5,1294.7 L719.0,1292.4 L720.5,1295.8 L722.1,1301.9 L723.3,1305.8 L724.6,1308.4 L725.9,1311.4 L727.1,1307.4 L728.4,1303.9 L729.7,1300.0 L730.0,1300.0 L731.3,1301.3 L732.5,1302.6 L733.8,1301.9 L735.3,1304.8 L736.8,1307.6 L738.2,1321.2 L739.5,1334.2 L740.8,1319.9 L742.2,1305.7 L743.4,1302.4 L744.7,1297.7 L746.0,1294.3 L747.2,1291.5 L748.5,1289.3 L749.7,1286.7 L751.0,1283.7 L752.3,1278.3 L753.5,1275.3 L754.8,1278.3 L756.1,1277.8 L757.3,1279.1 L758.6,1283.0 L759.9,1284.9 L761.1,1286.7 L762.7,1285.6 L764.2,1281.0 L765.4,1288.5 L766.7,1294.7 L768.0,1301.9 L769.5,1307.3 L771.0,1313.3 L772.3,1301.2 L773.7,1288.6 L775.0,1296.1 L776.3,1301.9 L777.9,1305.2 L779.4,1305.7 L781.3,1328.5 L782.6,1334.0 L783.9,1341.8 L786.2,1336.1 L787.5,1344.4 L788.9,1355.1 L790.1,1351.1 L791.4,1348.4 L792.7,1347.5 L793.9,1345.5 L795.2,1345.3 L796.5,1347.5 L797.7,1342.2 L799.0,1337.3 L800.3,1334.2 L801.5,1334.4 L802.8,1333.4 L804.1,1332.3 L805.3,1330.8 L806.6,1327.7 L807.9,1322.8 L809.2,1319.9 L810.5,1315.2 L811.8,1321.2 L813.0,1322.5 L814.3,1328.5 L815.8,1322.8 L817.4,1319.0 L818.6,1323.2 L819.9,1324.0 L821.2,1326.6 L822.7,1332.3 L824.2,1339.9 L825.5,1335.0 L826.8,1328.5 L828.1,1324.4 L829.4,1321.1 L830.6,1317.1 L831.9,1314.5 L833.2,1312.3 L834.4,1311.4 L835.7,1311.0 L837.0,1314.4 L838.2,1315.2 L839.6,1315.1 L840.9,1311.4 L842.4,1317.9 L843.9,1320.9 L845.2,1323.3 L846.5,1325.2 L847.7,1324.7 L849.0,1326.1 L850.3,1327.7 L851.5,1330.4 L852.8,1331.6 L854.1,1329.6 L855.3,1328.5 L856.6,1332.9 L857.9,1334.4 L859.1,1339.9 L860.6,1338.1 L862.2,1338.6 L863.7,1338.0 L864.9,1340.4 L866.2,1342.2 L867.4,1343.3 L868.6,1343.7 L869.9,1341.2 L871.1,1339.4 L872.3,1339.4 L873.6,1336.1 L875.1,1340.5 L876.6,1341.1 L878.1,1343.7 L879.6,1343.7 L881.2,1346.7 L882.7,1347.5 L883.9,1347.2 L885.1,1346.0 L886.4,1344.9 L887.6,1345.6 L888.9,1346.4 L890.1,1348.6 L891.4,1349.4 L892.7,1348.2 L893.9,1350.3 L895.2,1350.5 L896.5,1349.8 L897.9,1345.6 L899.8,1301.9 L901.7,1214.6 L903.9,1199.4 L905.8,1189.9 L907.4,1256.3 L909.3,1218.4 L911.5,1226.0 L912.9,1213.3 L914.2,1199.4 L915.5,1203.3 L916.9,1208.9 L918.4,1198.2 L919.9,1188.0 L921.4,1184.8 L922.9,1184.9 L924.3,1192.0 L925.6,1197.5 L926.9,1195.4 L928.1,1191.2 L929.4,1189.9 L930.7,1189.4 L931.9,1189.0 L933.2,1188.0 L934.7,1186.0 L936.2,1183.4 L937.6,1187.2 L938.9,1191.8 L940.4,1195.9 L941.9,1201.3 L943.3,1203.6 L944.6,1207.0 L946.5,1252.5 L948.4,1241.2 L950.3,1262.0 L951.8,1226.0 L953.3,1183.4 L954.8,1233.6 L956.4,1233.6 L957.9,1229.8 L959.1,1228.4 L960.4,1228.5 L961.7,1227.9 L963.6,1207.0 L964.8,1208.7 L966.1,1209.5 L967.4,1212.7 L968.6,1209.8 L969.9,1206.5 L971.2,1205.1 L972.4,1205.6 L973.7,1207.1 L975.0,1208.9 L976.2,1203.9 L977.5,1201.5 L978.8,1195.6 L980.1,1192.9 L981.4,1191.8 L982.9,1194.0 L984.5,1197.5 L985.8,1205.5 L987.1,1212.7 L989.0,1207.0 L990.5,1263.9 L991.7,1292.4 L992.8,1260.1" fill="none" stroke="#4472C4" stroke-width="2.2" stroke-linejoin="round" stroke-linecap="round"/>
<line x1="84.0" y1="1189.9" x2="992.8" y2="1189.9" stroke="#E06060" stroke-width="1.1"/>
<line x1="84.0" y1="1230.3" x2="992.8" y2="1230.3" stroke="#E06060" stroke-width="1.1"/>
<line x1="84.0" y1="1311.8" x2="992.8" y2="1311.8" stroke="#E06060" stroke-width="1.1"/>
<line x1="84.0" y1="1348.7" x2="992.8" y2="1348.7" stroke="#E06060" stroke-width="1.1"/>
<line x1="86.0" y1="1170.9" x2="86.0" y2="1368.4" stroke="#BFBFBF" stroke-width="1"/>
<line x1="992.8" y1="1170.9" x2="992.8" y2="1368.4" stroke="#BFBFBF" stroke-width="1"/>
<text x="71.5" y="1175.4" font-size="13" fill="#000" text-anchor="end">4,000</text>
<text x="71.5" y="1208.3" font-size="13" fill="#000" text-anchor="end">3,750</text>
<text x="71.5" y="1241.2" font-size="13" fill="#000" text-anchor="end">3,500</text>
<text x="71.5" y="1274.2" font-size="13" fill="#000" text-anchor="end">3,250</text>
<text x="71.5" y="1307.1" font-size="13" fill="#000" text-anchor="end">3,000</text>
<text x="71.5" y="1340.0" font-size="13" fill="#000" text-anchor="end">2,750</text>
<text x="71.5" y="1372.9" font-size="13" fill="#000" text-anchor="end">2,500</text>
<line x1="992.8" y1="1170.9" x2="997.8" y2="1170.9" stroke="#BFBFBF" stroke-width="1"/>
<text x="1004.0" y="1175.4" font-size="13" fill="#000">100%</text>
<line x1="992.8" y1="1190.7" x2="997.8" y2="1190.7" stroke="#BFBFBF" stroke-width="1"/>
<text x="1004.0" y="1195.2" font-size="13" fill="#000">90%</text>
<line x1="992.8" y1="1210.4" x2="997.8" y2="1210.4" stroke="#BFBFBF" stroke-width="1"/>
<text x="1004.0" y="1214.9" font-size="13" fill="#000">80%</text>
<line x1="992.8" y1="1230.2" x2="997.8" y2="1230.2" stroke="#BFBFBF" stroke-width="1"/>
<text x="1004.0" y="1234.7" font-size="13" fill="#000">70%</text>
<line x1="992.8" y1="1249.9" x2="997.8" y2="1249.9" stroke="#BFBFBF" stroke-width="1"/>
<text x="1004.0" y="1254.4" font-size="13" fill="#000">60%</text>
<line x1="992.8" y1="1269.7" x2="997.8" y2="1269.7" stroke="#BFBFBF" stroke-width="1"/>
<text x="1004.0" y="1274.2" font-size="13" fill="#000">50%</text>
<line x1="992.8" y1="1289.4" x2="997.8" y2="1289.4" stroke="#BFBFBF" stroke-width="1"/>
<text x="1004.0" y="1293.9" font-size="13" fill="#000">40%</text>
<line x1="992.8" y1="1309.2" x2="997.8" y2="1309.2" stroke="#BFBFBF" stroke-width="1"/>
<text x="1004.0" y="1313.7" font-size="13" fill="#000">30%</text>
<line x1="992.8" y1="1328.9" x2="997.8" y2="1328.9" stroke="#BFBFBF" stroke-width="1"/>
<text x="1004.0" y="1333.4" font-size="13" fill="#000">20%</text>
<line x1="992.8" y1="1348.7" x2="997.8" y2="1348.7" stroke="#BFBFBF" stroke-width="1"/>
<text x="1004.0" y="1353.2" font-size="13" fill="#000">10%</text>
<line x1="992.8" y1="1368.4" x2="997.8" y2="1368.4" stroke="#BFBFBF" stroke-width="1"/>
<text x="1004.0" y="1372.9" font-size="13" fill="#000">0%</text>
<text x="92.0" y="1385.5" font-size="13" fill="#000" text-anchor="end" transform="rotate(-45 92.0 1385.5)">2020/01</text>
<text x="120.6" y="1385.5" font-size="13" fill="#000" text-anchor="end" transform="rotate(-45 120.6 1385.5)">2020/03</text>
<text x="149.2" y="1385.5" font-size="13" fill="#000" text-anchor="end" transform="rotate(-45 149.2 1385.5)">2020/05</text>
<text x="177.8" y="1385.5" font-size="13" fill="#000" text-anchor="end" transform="rotate(-45 177.8 1385.5)">2020/07</text>
<text x="206.4" y="1385.5" font-size="13" fill="#000" text-anchor="end" transform="rotate(-45 206.4 1385.5)">2020/09</text>
<text x="235.0" y="1385.5" font-size="13" fill="#000" text-anchor="end" transform="rotate(-45 235.0 1385.5)">2020/11</text>
<text x="263.6" y="1385.5" font-size="13" fill="#000" text-anchor="end" transform="rotate(-45 263.6 1385.5)">2021/01</text>
<text x="292.2" y="1385.5" font-size="13" fill="#000" text-anchor="end" transform="rotate(-45 292.2 1385.5)">2021/03</text>
<text x="320.8" y="1385.5" font-size="13" fill="#000" text-anchor="end" transform="rotate(-45 320.8 1385.5)">2021/05</text>
<text x="349.4" y="1385.5" font-size="13" fill="#000" text-anchor="end" transform="rotate(-45 349.4 1385.5)">2021/07</text>
<text x="378.0" y="1385.5" font-size="13" fill="#000" text-anchor="end" transform="rotate(-45 378.0 1385.5)">2021/09</text>
<text x="406.6" y="1385.5" font-size="13" fill="#000" text-anchor="end" transform="rotate(-45 406.6 1385.5)">2021/11</text>
<text x="435.2" y="1385.5" font-size="13" fill="#000" text-anchor="end" transform="rotate(-45 435.2 1385.5)">2022/01</text>
<text x="463.8" y="1385.5" font-size="13" fill="#000" text-anchor="end" transform="rotate(-45 463.8 1385.5)">2022/03</text>
<text x="492.4" y="1385.5" font-size="13" fill="#000" text-anchor="end" transform="rotate(-45 492.4 1385.5)">2022/05</text>
<text x="521.0" y="1385.5" font-size="13" fill="#000" text-anchor="end" transform="rotate(-45 521.0 1385.5)">2022/07</text>
<text x="549.6" y="1385.5" font-size="13" fill="#000" text-anchor="end" transform="rotate(-45 549.6 1385.5)">2022/09</text>
<text x="578.2" y="1385.5" font-size="13" fill="#000" text-anchor="end" transform="rotate(-45 578.2 1385.5)">2022/11</text>
<text x="606.8" y="1385.5" font-size="13" fill="#000" text-anchor="end" transform="rotate(-45 606.8 1385.5)">2023/01</text>
<text x="635.4" y="1385.5" font-size="13" fill="#000" text-anchor="end" transform="rotate(-45 635.4 1385.5)">2023/03</text>
<text x="664.0" y="1385.5" font-size="13" fill="#000" text-anchor="end" transform="rotate(-45 664.0 1385.5)">2023/05</text>
<text x="692.6" y="1385.5" font-size="13" fill="#000" text-anchor="end" transform="rotate(-45 692.6 1385.5)">2023/07</text>
<text x="721.2" y="1385.5" font-size="13" fill="#000" text-anchor="end" transform="rotate(-45 721.2 1385.5)">2023/09</text>
<text x="749.8" y="1385.5" font-size="13" fill="#000" text-anchor="end" transform="rotate(-45 749.8 1385.5)">2023/11</text>
<text x="778.4" y="1385.5" font-size="13" fill="#000" text-anchor="end" transform="rotate(-45 778.4 1385.5)">2024/01</text>
<text x="807.0" y="1385.5" font-size="13" fill="#000" text-anchor="end" transform="rotate(-45 807.0 1385.5)">2024/03</text>
<text x="835.6" y="1385.5" font-size="13" fill="#000" text-anchor="end" transform="rotate(-45 835.6 1385.5)">2024/05</text>
<text x="864.2" y="1385.5" font-size="13" fill="#000" text-anchor="end" transform="rotate(-45 864.2 1385.5)">2024/07</text>
<text x="892.8" y="1385.5" font-size="13" fill="#000" text-anchor="end" transform="rotate(-45 892.8 1385.5)">2024/09</text>
<text x="921.4" y="1385.5" font-size="13" fill="#000" text-anchor="end" transform="rotate(-45 921.4 1385.5)">2024/11</text>
<text x="950.0" y="1385.5" font-size="13" fill="#000" text-anchor="end" transform="rotate(-45 950.0 1385.5)">2025/01</text>
<text x="978.6" y="1385.5" font-size="13" fill="#000" text-anchor="end" transform="rotate(-45 978.6 1385.5)">2025/03</text>
<path d="M368.5,1146.6 L394.0,1146.6" fill="none" stroke="#9DC3E6" stroke-width="1.8" stroke-linejoin="round" stroke-linecap="round"/>
<text x="397.5" y="1150.6" font-size="12.5" fill="#000">上证指数</text>
<path d="M474.5,1146.6 L500.0,1146.6" fill="none" stroke="#4472C4" stroke-width="2" stroke-linejoin="round" stroke-linecap="round"/>
<text x="503.5" y="1150.6" font-size="12.5" fill="#000">全部<tspan font-weight="bold">A</tspan>股<tspan font-weight="bold">-MA200</tspan>以上个股占比（右）</text>
<rect x="210.7" y="1555" width="757.9000000000001" height="656.5" fill="#E4E4E4"/>
<line x1="210.7" y1="1555.0" x2="968.6" y2="1555.0" stroke="#F4F4F4" stroke-width="1.2"/>
<line x1="210.7" y1="1575.5" x2="968.6" y2="1575.5" stroke="#F4F4F4" stroke-width="1.2"/>
<line x1="210.7" y1="1596.0" x2="968.6" y2="1596.0" stroke="#F4F4F4" stroke-width="1.2"/>
<line x1="210.7" y1="1616.5" x2="968.6" y2="1616.5" stroke="#F4F4F4" stroke-width="1.2"/>
<line x1="210.7" y1="1637.1" x2="968.6" y2="1637.1" stroke="#F4F4F4" stroke-width="1.2"/>
<line x1="210.7" y1="1657.6" x2="968.6" y2="1657.6" stroke="#F4F4F4" stroke-width="1.2"/>
<line x1="210.7" y1="1678.1" x2="968.6" y2="1678.1" stroke="#F4F4F4" stroke-width="1.2"/>
<line x1="210.7" y1="1698.6" x2="968.6" y2="1698.6" stroke="#F4F4F4" stroke-width="1.2"/>
<line x1="210.7" y1="1719.1" x2="968.6" y2="1719.1" stroke="#F4F4F4" stroke-width="1.2"/>
<line x1="210.7" y1="1739.6" x2="968.6" y2="1739.6" stroke="#F4F4F4" stroke-width="1.2"/>
<line x1="210.7" y1="1760.2" x2="968.6" y2="1760.2" stroke="#F4F4F4" stroke-width="1.2"/>
<line x1="210.7" y1="1780.7" x2="968.6" y2="1780.7" stroke="#F4F4F4" stroke-width="1.2"/>
<line x1="210.7" y1="1801.2" x2="968.6" y2="1801.2" stroke="#F4F4F4" stroke-width="1.2"/>
<line x1="210.7" y1="1821.7" x2="968.6" y2="1821.7" stroke="#F4F4F4" stroke-width="1.2"/>
<line x1="210.7" y1="1842.2" x2="968.6" y2="1842.2" stroke="#F4F4F4" stroke-width="1.2"/>
<line x1="210.7" y1="1862.7" x2="968.6" y2="1862.7" stroke="#F4F4F4" stroke-width="1.2"/>
<line x1="210.7" y1="1883.2" x2="968.6" y2="1883.2" stroke="#F4F4F4" stroke-width="1.2"/>
<line x1="210.7" y1="1903.8" x2="968.6" y2="1903.8" stroke="#F4F4F4" stroke-width="1.2"/>
<line x1="210.7" y1="1924.3" x2="968.6" y2="1924.3" stroke="#F4F4F4" stroke-width="1.2"/>
<line x1="210.7" y1="1944.8" x2="968.6" y2="1944.8" stroke="#F4F4F4" stroke-width="1.2"/>
<line x1="210.7" y1="1965.3" x2="968.6" y2="1965.3" stroke="#F4F4F4" stroke-width="1.2"/>
<line x1="210.7" y1="1985.8" x2="968.6" y2="1985.8" stroke="#F4F4F4" stroke-width="1.2"/>
<line x1="210.7" y1="2006.3" x2="968.6" y2="2006.3" stroke="#F4F4F4" stroke-width="1.2"/>
<line x1="210.7" y1="2026.9" x2="968.6" y2="2026.9" stroke="#F4F4F4" stroke-width="1.2"/>
<line x1="210.7" y1="2047.4" x2="968.6" y2="2047.4" stroke="#F4F4F4" stroke-width="1.2"/>
<line x1="210.7" y1="2067.9" x2="968.6" y2="2067.9" stroke="#F4F4F4" stroke-width="1.2"/>
<line x1="210.7" y1="2088.4" x2="968.6" y2="2088.4" stroke="#F4F4F4" stroke-width="1.2"/>
<line x1="210.7" y1="2108.9" x2="968.6" y2="2108.9" stroke="#F4F4F4" stroke-width="1.2"/>
<line x1="210.7" y1="2129.4" x2="968.6" y2="2129.4" stroke="#F4F4F4" stroke-width="1.2"/>
<line x1="210.7" y1="2150.0" x2="968.6" y2="2150.0" stroke="#F4F4F4" stroke-width="1.2"/>
<line x1="210.7" y1="2170.5" x2="968.6" y2="2170.5" stroke="#F4F4F4" stroke-width="1.2"/>
<line x1="210.7" y1="2191.0" x2="968.6" y2="2191.0" stroke="#F4F4F4" stroke-width="1.2"/>
<line x1="210.7" y1="2211.5" x2="968.6" y2="2211.5" stroke="#F4F4F4" stroke-width="1.2"/>
<line x1="210.7" y1="1555.0" x2="210.7" y2="2211.5" stroke="#F4F4F4" stroke-width="1.2"/>
<line x1="210.7" y1="1551.0" x2="210.7" y2="1555.0" stroke="#A6A6A6" stroke-width="1"/>
<line x1="210.7" y1="2211.5" x2="210.7" y2="2215.5" stroke="#A6A6A6" stroke-width="1"/>
<text x="210.7" y="1543.5" font-size="13" fill="#222" text-anchor="middle">0</text>
<text x="210.7" y="2231.0" font-size="13" fill="#222" text-anchor="middle">0</text>
<line x1="286.5" y1="1555.0" x2="286.5" y2="2211.5" stroke="#F4F4F4" stroke-width="1.2"/>
<line x1="286.5" y1="1551.0" x2="286.5" y2="1555.0" stroke="#A6A6A6" stroke-width="1"/>
<line x1="286.5" y1="2211.5" x2="286.5" y2="2215.5" stroke="#A6A6A6" stroke-width="1"/>
<text x="286.5" y="1543.5" font-size="13" fill="#222" text-anchor="middle">10</text>
<text x="286.5" y="2231.0" font-size="13" fill="#222" text-anchor="middle">10</text>
<line x1="362.3" y1="1555.0" x2="362.3" y2="2211.5" stroke="#F4F4F4" stroke-width="1.2"/>
<line x1="362.3" y1="1551.0" x2="362.3" y2="1555.0" stroke="#A6A6A6" stroke-width="1"/>
<line x1="362.3" y1="2211.5" x2="362.3" y2="2215.5" stroke="#A6A6A6" stroke-width="1"/>
<text x="362.3" y="1543.5" font-size="13" fill="#222" text-anchor="middle">20</text>
<text x="362.3" y="2231.0" font-size="13" fill="#222" text-anchor="middle">20</text>
<line x1="438.1" y1="1555.0" x2="438.1" y2="2211.5" stroke="#F4F4F4" stroke-width="1.2"/>
<line x1="438.1" y1="1551.0" x2="438.1" y2="1555.0" stroke="#A6A6A6" stroke-width="1"/>
<line x1="438.1" y1="2211.5" x2="438.1" y2="2215.5" stroke="#A6A6A6" stroke-width="1"/>
<text x="438.1" y="1543.5" font-size="13" fill="#222" text-anchor="middle">30</text>
<text x="438.1" y="2231.0" font-size="13" fill="#222" text-anchor="middle">30</text>
<line x1="513.9" y1="1555.0" x2="513.9" y2="2211.5" stroke="#F4F4F4" stroke-width="1.2"/>
<line x1="513.9" y1="1551.0" x2="513.9" y2="1555.0" stroke="#A6A6A6" stroke-width="1"/>
<line x1="513.9" y1="2211.5" x2="513.9" y2="2215.5" stroke="#A6A6A6" stroke-width="1"/>
<text x="513.9" y="1543.5" font-size="13" fill="#222" text-anchor="middle">40</text>
<text x="513.9" y="2231.0" font-size="13" fill="#222" text-anchor="middle">40</text>
<line x1="589.7" y1="1555.0" x2="589.7" y2="2211.5" stroke="#F4F4F4" stroke-width="1.2"/>
<line x1="589.7" y1="1551.0" x2="589.7" y2="1555.0" stroke="#A6A6A6" stroke-width="1"/>
<line x1="589.7" y1="2211.5" x2="589.7" y2="2215.5" stroke="#A6A6A6" stroke-width="1"/>
<text x="589.7" y="1543.5" font-size="13" fill="#222" text-anchor="middle">50</text>
<text x="589.7" y="2231.0" font-size="13" fill="#222" text-anchor="middle">50</text>
<line x1="665.4" y1="1555.0" x2="665.4" y2="2211.5" stroke="#F4F4F4" stroke-width="1.2"/>
<line x1="665.4" y1="1551.0" x2="665.4" y2="1555.0" stroke="#A6A6A6" stroke-width="1"/>
<line x1="665.4" y1="2211.5" x2="665.4" y2="2215.5" stroke="#A6A6A6" stroke-width="1"/>
<text x="665.4" y="1543.5" font-size="13" fill="#222" text-anchor="middle">60</text>
<text x="665.4" y="2231.0" font-size="13" fill="#222" text-anchor="middle">60</text>
<line x1="741.2" y1="1555.0" x2="741.2" y2="2211.5" stroke="#F4F4F4" stroke-width="1.2"/>
<line x1="741.2" y1="1551.0" x2="741.2" y2="1555.0" stroke="#A6A6A6" stroke-width="1"/>
<line x1="741.2" y1="2211.5" x2="741.2" y2="2215.5" stroke="#A6A6A6" stroke-width="1"/>
<text x="741.2" y="1543.5" font-size="13" fill="#222" text-anchor="middle">70</text>
<text x="741.2" y="2231.0" font-size="13" fill="#222" text-anchor="middle">70</text>
<line x1="817.0" y1="1555.0" x2="817.0" y2="2211.5" stroke="#F4F4F4" stroke-width="1.2"/>
<line x1="817.0" y1="1551.0" x2="817.0" y2="1555.0" stroke="#A6A6A6" stroke-width="1"/>
<line x1="817.0" y1="2211.5" x2="817.0" y2="2215.5" stroke="#A6A6A6" stroke-width="1"/>
<text x="817.0" y="1543.5" font-size="13" fill="#222" text-anchor="middle">80</text>
<text x="817.0" y="2231.0" font-size="13" fill="#222" text-anchor="middle">80</text>
<line x1="892.8" y1="1555.0" x2="892.8" y2="2211.5" stroke="#F4F4F4" stroke-width="1.2"/>
<line x1="892.8" y1="1551.0" x2="892.8" y2="1555.0" stroke="#A6A6A6" stroke-width="1"/>
<line x1="892.8" y1="2211.5" x2="892.8" y2="2215.5" stroke="#A6A6A6" stroke-width="1"/>
<text x="892.8" y="1543.5" font-size="13" fill="#222" text-anchor="middle">90</text>
<text x="892.8" y="2231.0" font-size="13" fill="#222" text-anchor="middle">90</text>
<line x1="968.6" y1="1555.0" x2="968.6" y2="2211.5" stroke="#F4F4F4" stroke-width="1.2"/>
<line x1="968.6" y1="1551.0" x2="968.6" y2="1555.0" stroke="#A6A6A6" stroke-width="1"/>
<line x1="968.6" y1="2211.5" x2="968.6" y2="2215.5" stroke="#A6A6A6" stroke-width="1"/>
<text x="968.6" y="1543.5" font-size="13" fill="#222" text-anchor="middle">100</text>
<text x="968.6" y="2231.0" font-size="13" fill="#222" text-anchor="middle">100</text>
<line x1="210.7" y1="1555.0" x2="210.7" y2="2211.5" stroke="#A6A6A6" stroke-width="1.2"/>
<line x1="968.6" y1="1555.0" x2="968.6" y2="2211.5" stroke="#A6A6A6" stroke-width="1.2"/>
<line x1="210.7" y1="1555.0" x2="968.6" y2="1555.0" stroke="#BFBFBF" stroke-width="1.2"/>
<line x1="210.7" y1="2211.5" x2="968.6" y2="2211.5" stroke="#BFBFBF" stroke-width="1.2"/>
<line x1="206.7" y1="1555.0" x2="210.7" y2="1555.0" stroke="#A6A6A6" stroke-width="1"/>
<line x1="968.6" y1="1555.0" x2="972.6" y2="1555.0" stroke="#A6A6A6" stroke-width="1"/>
<text x="159.0" y="1559.5" font-size="12.5" fill="#222" text-anchor="end">钢铁</text>
<text x="198.0" y="1559.5" font-size="13" fill="#222" text-anchor="end">5.69</text>
<text x="981.0" y="1559.5" font-size="13" fill="#222">30.61</text>
<text x="946.1" y="1559.5" font-size="13" fill="#222" text-anchor="end">29.21</text>
<circle cx="960.1" cy="1555.0" r="4.4" fill="#4472C4" stroke="#C98B5A" stroke-width="0.9"/>
<line x1="206.7" y1="1575.5" x2="210.7" y2="1575.5" stroke="#A6A6A6" stroke-width="1"/>
<line x1="968.6" y1="1575.5" x2="972.6" y2="1575.5" stroke="#A6A6A6" stroke-width="1"/>
<text x="159.0" y="1580.0" font-size="12.5" fill="#222" text-anchor="end">建筑材料</text>
<text x="198.0" y="1580.0" font-size="13" fill="#222" text-anchor="end">9.98</text>
<text x="981.0" y="1580.0" font-size="13" fill="#222">28.27</text>
<text x="911.3" y="1580.0" font-size="13" fill="#222" text-anchor="end">25.76</text>
<circle cx="925.3" cy="1575.5" r="4.4" fill="#4472C4" stroke="#C98B5A" stroke-width="0.9"/>
<line x1="206.7" y1="1596.0" x2="210.7" y2="1596.0" stroke="#A6A6A6" stroke-width="1"/>
<line x1="968.6" y1="1596.0" x2="972.6" y2="1596.0" stroke="#A6A6A6" stroke-width="1"/>
<text x="159.0" y="1600.5" font-size="12.5" fill="#222" text-anchor="end">房地产</text>
<text x="198.0" y="1600.5" font-size="13" fill="#222" text-anchor="end">6.80</text>
<text x="981.0" y="1600.5" font-size="13" fill="#222">46.31</text>
<text x="903.3" y="1600.5" font-size="13" fill="#222" text-anchor="end">34.89</text>
<circle cx="917.3" cy="1596.0" r="4.4" fill="#4472C4" stroke="#C98B5A" stroke-width="0.9"/>
<line x1="206.7" y1="1616.5" x2="210.7" y2="1616.5" stroke="#A6A6A6" stroke-width="1"/>
<line x1="968.6" y1="1616.5" x2="972.6" y2="1616.5" stroke="#A6A6A6" stroke-width="1"/>
<text x="159.0" y="1621.0" font-size="12.5" fill="#222" text-anchor="end">房地产</text>
<text x="198.0" y="1621.0" font-size="13" fill="#222" text-anchor="end">6.80</text>
<text x="981.0" y="1621.0" font-size="13" fill="#222">46.31</text>
<text x="903.3" y="1621.0" font-size="13" fill="#222" text-anchor="end">34.89</text>
<circle cx="917.3" cy="1616.5" r="4.4" fill="#4472C4" stroke="#C98B5A" stroke-width="0.9"/>
<line x1="206.7" y1="1637.1" x2="210.7" y2="1637.1" stroke="#A6A6A6" stroke-width="1"/>
<line x1="968.6" y1="1637.1" x2="972.6" y2="1637.1" stroke="#A6A6A6" stroke-width="1"/>
<text x="159.0" y="1641.6" font-size="12.5" fill="#222" text-anchor="end">电子</text>
<text x="198.0" y="1641.6" font-size="13" fill="#222" text-anchor="end">20.32</text>
<text x="981.0" y="1641.6" font-size="13" fill="#222">64.66</text>
<text x="856.0" y="1641.6" font-size="13" fill="#222" text-anchor="end">52.63</text>
<circle cx="870.0" cy="1637.1" r="4.4" fill="#4472C4" stroke="#C98B5A" stroke-width="0.9"/>
<line x1="206.7" y1="1657.6" x2="210.7" y2="1657.6" stroke="#A6A6A6" stroke-width="1"/>
<line x1="968.6" y1="1657.6" x2="972.6" y2="1657.6" stroke="#A6A6A6" stroke-width="1"/>
<text x="159.0" y="1662.1" font-size="12.5" fill="#222" text-anchor="end">商贸零售</text>
<text x="198.0" y="1662.1" font-size="13" fill="#222" text-anchor="end">13.12</text>
<text x="981.0" y="1662.1" font-size="13" fill="#222">40.94</text>
<text x="854.2" y="1662.1" font-size="13" fill="#222" text-anchor="end">34.97</text>
<circle cx="868.2" cy="1657.6" r="4.4" fill="#4472C4" stroke="#C98B5A" stroke-width="0.9"/>
<line x1="206.7" y1="1678.1" x2="210.7" y2="1678.1" stroke="#A6A6A6" stroke-width="1"/>
<line x1="968.6" y1="1678.1" x2="972.6" y2="1678.1" stroke="#A6A6A6" stroke-width="1"/>
<text x="159.0" y="1682.6" font-size="12.5" fill="#222" text-anchor="end">国防军工</text>
<text x="198.0" y="1682.6" font-size="13" fill="#222" text-anchor="end">36.91</text>
<text x="981.0" y="1682.6" font-size="13" fill="#222">83.35</text>
<text x="813.8" y="1682.6" font-size="13" fill="#222" text-anchor="end">69.09</text>
<circle cx="827.8" cy="1678.1" r="4.4" fill="#4472C4" stroke="#C98B5A" stroke-width="0.9"/>
<line x1="206.7" y1="1698.6" x2="210.7" y2="1698.6" stroke="#A6A6A6" stroke-width="1"/>
<line x1="968.6" y1="1698.6" x2="972.6" y2="1698.6" stroke="#A6A6A6" stroke-width="1"/>
<text x="159.0" y="1703.1" font-size="12.5" fill="#222" text-anchor="end">煤炭</text>
<text x="198.0" y="1703.1" font-size="13" fill="#222" text-anchor="end">5.74</text>
<text x="981.0" y="1703.1" font-size="13" fill="#222">15.28</text>
<text x="749.1" y="1703.1" font-size="13" fill="#222" text-anchor="end">10.69</text>
<circle cx="763.1" cy="1698.6" r="4.4" fill="#4472C4" stroke="#C98B5A" stroke-width="0.9"/>
<line x1="206.7" y1="1719.1" x2="210.7" y2="1719.1" stroke="#A6A6A6" stroke-width="1"/>
<line x1="968.6" y1="1719.1" x2="972.6" y2="1719.1" stroke="#A6A6A6" stroke-width="1"/>
<text x="159.0" y="1723.6" font-size="12.5" fill="#222" text-anchor="end">机械设备</text>
<text x="198.0" y="1723.6" font-size="13" fill="#222" text-anchor="end">19.20</text>
<text x="981.0" y="1723.6" font-size="13" fill="#222">49.43</text>
<text x="731.1" y="1723.6" font-size="13" fill="#222" text-anchor="end">30.62</text>
<circle cx="745.1" cy="1719.1" r="4.4" fill="#4472C4" stroke="#C98B5A" stroke-width="0.9"/>
<line x1="206.7" y1="1739.6" x2="210.7" y2="1739.6" stroke="#A6A6A6" stroke-width="1"/>
<line x1="968.6" y1="1739.6" x2="972.6" y2="1739.6" stroke="#A6A6A6" stroke-width="1"/>
<text x="159.0" y="1744.1" font-size="12.5" fill="#222" text-anchor="end">基础化工</text>
<text x="198.0" y="1744.1" font-size="13" fill="#222" text-anchor="end">12.52</text>
<text x="981.0" y="1744.1" font-size="13" fill="#222">37.38</text>
<text x="721.8" y="1744.1" font-size="13" fill="#222" text-anchor="end">23.07</text>
<circle cx="735.8" cy="1739.6" r="4.4" fill="#4472C4" stroke="#C98B5A" stroke-width="0.9"/>
<line x1="206.7" y1="1760.2" x2="210.7" y2="1760.2" stroke="#A6A6A6" stroke-width="1"/>
<line x1="968.6" y1="1760.2" x2="972.6" y2="1760.2" stroke="#A6A6A6" stroke-width="1"/>
<text x="159.0" y="1764.7" font-size="12.5" fill="#222" text-anchor="end">传媒</text>
<text x="198.0" y="1764.7" font-size="13" fill="#222" text-anchor="end">19.49</text>
<text x="981.0" y="1764.7" font-size="13" fill="#222">61.97</text>
<text x="716.8" y="1764.7" font-size="13" fill="#222" text-anchor="end">37.18</text>
<circle cx="730.8" cy="1760.2" r="4.4" fill="#4472C4" stroke="#C98B5A" stroke-width="0.9"/>
<line x1="206.7" y1="1780.7" x2="210.7" y2="1780.7" stroke="#A6A6A6" stroke-width="1"/>
<line x1="968.6" y1="1780.7" x2="972.6" y2="1780.7" stroke="#A6A6A6" stroke-width="1"/>
<text x="159.0" y="1785.2" font-size="12.5" fill="#222" text-anchor="end">石油石化</text>
<text x="198.0" y="1785.2" font-size="13" fill="#222" text-anchor="end">9.04</text>
<text x="981.0" y="1785.2" font-size="13" fill="#222">26.36</text>
<text x="554.6" y="1785.2" font-size="13" fill="#222" text-anchor="end">14.79</text>
<circle cx="568.6" cy="1780.7" r="4.4" fill="#4472C4" stroke="#C98B5A" stroke-width="0.9"/>
<line x1="206.7" y1="1801.2" x2="210.7" y2="1801.2" stroke="#A6A6A6" stroke-width="1"/>
<line x1="968.6" y1="1801.2" x2="972.6" y2="1801.2" stroke="#A6A6A6" stroke-width="1"/>
<text x="159.0" y="1805.7" font-size="12.5" fill="#222" text-anchor="end">社会服务</text>
<text x="198.0" y="1805.7" font-size="13" fill="#222" text-anchor="end">17.40</text>
<text x="981.0" y="1805.7" font-size="13" fill="#222">209.69</text>
<text x="541.6" y="1805.7" font-size="13" fill="#222" text-anchor="end">42.79</text>
<circle cx="555.6" cy="1801.2" r="4.4" fill="#4472C4" stroke="#C98B5A" stroke-width="0.9"/>
<line x1="206.7" y1="1821.7" x2="210.7" y2="1821.7" stroke="#A6A6A6" stroke-width="1"/>
<line x1="968.6" y1="1821.7" x2="972.6" y2="1821.7" stroke="#A6A6A6" stroke-width="1"/>
<text x="159.0" y="1826.2" font-size="12.5" fill="#222" text-anchor="end">汽车</text>
<text x="198.0" y="1826.2" font-size="13" fill="#222" text-anchor="end">12.57</text>
<text x="981.0" y="1826.2" font-size="13" fill="#222">39.03</text>
<text x="530.4" y="1826.2" font-size="13" fill="#222" text-anchor="end">24.45</text>
<circle cx="544.4" cy="1821.7" r="4.4" fill="#4472C4" stroke="#C98B5A" stroke-width="0.9"/>
<line x1="206.7" y1="1842.2" x2="210.7" y2="1842.2" stroke="#A6A6A6" stroke-width="1"/>
<line x1="968.6" y1="1842.2" x2="972.6" y2="1842.2" stroke="#A6A6A6" stroke-width="1"/>
<text x="159.0" y="1846.7" font-size="12.5" fill="#222" text-anchor="end">综合</text>
<text x="198.0" y="1846.7" font-size="13" fill="#222" text-anchor="end">23.11</text>
<text x="981.0" y="1846.7" font-size="13" fill="#222">74.45</text>
<text x="529.8" y="1846.7" font-size="13" fill="#222" text-anchor="end">41.06</text>
<circle cx="543.8" cy="1842.2" r="4.4" fill="#4472C4" stroke="#C98B5A" stroke-width="0.9"/>
<line x1="206.7" y1="1862.7" x2="210.7" y2="1862.7" stroke="#A6A6A6" stroke-width="1"/>
<line x1="968.6" y1="1862.7" x2="972.6" y2="1862.7" stroke="#A6A6A6" stroke-width="1"/>
<text x="159.0" y="1867.2" font-size="12.5" fill="#222" text-anchor="end">轻工制造</text>
<text x="198.0" y="1867.2" font-size="13" fill="#222" text-anchor="end">14.23</text>
<text x="981.0" y="1867.2" font-size="13" fill="#222">34.27</text>
<text x="509.9" y="1867.2" font-size="13" fill="#222" text-anchor="end">23.38</text>
<circle cx="523.9" cy="1862.7" r="4.4" fill="#4472C4" stroke="#C98B5A" stroke-width="0.9"/>
<line x1="206.7" y1="1883.2" x2="210.7" y2="1883.2" stroke="#A6A6A6" stroke-width="1"/>
<line x1="968.6" y1="1883.2" x2="972.6" y2="1883.2" stroke="#A6A6A6" stroke-width="1"/>
<text x="159.0" y="1887.8" font-size="12.5" fill="#222" text-anchor="end">交通运输</text>
<text x="198.0" y="1887.8" font-size="13" fill="#222" text-anchor="end">10.96</text>
<text x="981.0" y="1887.8" font-size="13" fill="#222">27.50</text>
<text x="508.6" y="1887.8" font-size="13" fill="#222" text-anchor="end">15.53</text>
<circle cx="522.6" cy="1883.2" r="4.4" fill="#4472C4" stroke="#C98B5A" stroke-width="0.9"/>
<line x1="206.7" y1="1903.8" x2="210.7" y2="1903.8" stroke="#A6A6A6" stroke-width="1"/>
<line x1="968.6" y1="1903.8" x2="972.6" y2="1903.8" stroke="#A6A6A6" stroke-width="1"/>
<text x="159.0" y="1908.3" font-size="12.5" fill="#222" text-anchor="end">医药生物</text>
<text x="198.0" y="1908.3" font-size="13" fill="#222" text-anchor="end">20.31</text>
<text x="981.0" y="1908.3" font-size="13" fill="#222">63.49</text>
<text x="500.5" y="1908.3" font-size="13" fill="#222" text-anchor="end">29.69</text>
<circle cx="514.5" cy="1903.8" r="4.4" fill="#4472C4" stroke="#C98B5A" stroke-width="0.9"/>
<line x1="206.7" y1="1924.3" x2="210.7" y2="1924.3" stroke="#A6A6A6" stroke-width="1"/>
<line x1="968.6" y1="1924.3" x2="972.6" y2="1924.3" stroke="#A6A6A6" stroke-width="1"/>
<text x="159.0" y="1928.8" font-size="12.5" fill="#222" text-anchor="end">银行</text>
<text x="198.0" y="1928.8" font-size="13" fill="#222" text-anchor="end">4.31</text>
<text x="981.0" y="1928.8" font-size="13" fill="#222">8.78</text>
<text x="492.5" y="1928.8" font-size="13" fill="#222" text-anchor="end">5.91</text>
<circle cx="506.5" cy="1924.3" r="4.4" fill="#4472C4" stroke="#C98B5A" stroke-width="0.9"/>
<line x1="206.7" y1="1944.8" x2="210.7" y2="1944.8" stroke="#A6A6A6" stroke-width="1"/>
<line x1="968.6" y1="1944.8" x2="972.6" y2="1944.8" stroke="#A6A6A6" stroke-width="1"/>
<text x="159.0" y="1949.3" font-size="12.5" fill="#222" text-anchor="end">美容护理</text>
<text x="198.0" y="1949.3" font-size="13" fill="#222" text-anchor="end">24.70</text>
<text x="981.0" y="1949.3" font-size="13" fill="#222">64.77</text>
<text x="474.4" y="1949.3" font-size="13" fill="#222" text-anchor="end">34.60</text>
<circle cx="488.4" cy="1944.8" r="4.4" fill="#4472C4" stroke="#C98B5A" stroke-width="0.9"/>
<line x1="206.7" y1="1965.3" x2="210.7" y2="1965.3" stroke="#A6A6A6" stroke-width="1"/>
<line x1="968.6" y1="1965.3" x2="972.6" y2="1965.3" stroke="#A6A6A6" stroke-width="1"/>
<text x="159.0" y="1969.8" font-size="12.5" fill="#222" text-anchor="end">环保</text>
<text x="198.0" y="1969.8" font-size="13" fill="#222" text-anchor="end">14.71</text>
<text x="981.0" y="1969.8" font-size="13" fill="#222">38.04</text>
<text x="461.4" y="1969.8" font-size="13" fill="#222" text-anchor="end">20.79</text>
<circle cx="475.4" cy="1965.3" r="4.4" fill="#4472C4" stroke="#C98B5A" stroke-width="0.9"/>
<line x1="206.7" y1="1985.8" x2="210.7" y2="1985.8" stroke="#A6A6A6" stroke-width="1"/>
<line x1="968.6" y1="1985.8" x2="972.6" y2="1985.8" stroke="#A6A6A6" stroke-width="1"/>
<text x="159.0" y="1990.3" font-size="12.5" fill="#222" text-anchor="end">家用电器</text>
<text x="198.0" y="1990.3" font-size="13" fill="#222" text-anchor="end">10.55</text>
<text x="981.0" y="1990.3" font-size="13" fill="#222">30.05</text>
<text x="452.0" y="1990.3" font-size="13" fill="#222" text-anchor="end">14.32</text>
<circle cx="466.0" cy="1985.8" r="4.4" fill="#4472C4" stroke="#C98B5A" stroke-width="0.9"/>
<line x1="206.7" y1="2006.3" x2="210.7" y2="2006.3" stroke="#A6A6A6" stroke-width="1"/>
<line x1="968.6" y1="2006.3" x2="972.6" y2="2006.3" stroke="#A6A6A6" stroke-width="1"/>
<text x="159.0" y="2010.8" font-size="12.5" fill="#222" text-anchor="end">建筑装饰</text>
<text x="198.0" y="2010.8" font-size="13" fill="#222" text-anchor="end">7.10</text>
<text x="981.0" y="2010.8" font-size="13" fill="#222">17.38</text>
<text x="450.2" y="2010.8" font-size="13" fill="#222" text-anchor="end">9.24</text>
<circle cx="464.2" cy="2006.3" r="4.4" fill="#4472C4" stroke="#C98B5A" stroke-width="0.9"/>
<line x1="206.7" y1="2026.9" x2="210.7" y2="2026.9" stroke="#A6A6A6" stroke-width="1"/>
<line x1="968.6" y1="2026.9" x2="972.6" y2="2026.9" stroke="#A6A6A6" stroke-width="1"/>
<text x="159.0" y="2031.4" font-size="12.5" fill="#222" text-anchor="end">电力设备</text>
<text x="198.0" y="2031.4" font-size="13" fill="#222" text-anchor="end">13.64</text>
<text x="981.0" y="2031.4" font-size="13" fill="#222">58.87</text>
<text x="442.7" y="2031.4" font-size="13" fill="#222" text-anchor="end">27.82</text>
<circle cx="456.7" cy="2026.9" r="4.4" fill="#4472C4" stroke="#C98B5A" stroke-width="0.9"/>
<line x1="206.7" y1="2047.4" x2="210.7" y2="2047.4" stroke="#A6A6A6" stroke-width="1"/>
<line x1="968.6" y1="2047.4" x2="972.6" y2="2047.4" stroke="#A6A6A6" stroke-width="1"/>
<text x="159.0" y="2051.9" font-size="12.5" fill="#222" text-anchor="end">有色金属</text>
<text x="198.0" y="2051.9" font-size="13" fill="#222" text-anchor="end">12.53</text>
<text x="981.0" y="2051.9" font-size="13" fill="#222">60.56</text>
<text x="386.2" y="2051.9" font-size="13" fill="#222" text-anchor="end">19.06</text>
<circle cx="400.2" cy="2047.4" r="4.4" fill="#4472C4" stroke="#C98B5A" stroke-width="0.9"/>
<line x1="206.7" y1="2067.9" x2="210.7" y2="2067.9" stroke="#A6A6A6" stroke-width="1"/>
<line x1="968.6" y1="2067.9" x2="972.6" y2="2067.9" stroke="#A6A6A6" stroke-width="1"/>
<text x="159.0" y="2072.4" font-size="12.5" fill="#222" text-anchor="end">通信</text>
<text x="198.0" y="2072.4" font-size="13" fill="#222" text-anchor="end">23.89</text>
<text x="981.0" y="2072.4" font-size="13" fill="#222">61.38</text>
<text x="360.0" y="2072.4" font-size="13" fill="#222" text-anchor="end">30.04</text>
<circle cx="374.0" cy="2067.9" r="4.4" fill="#4472C4" stroke="#C98B5A" stroke-width="0.9"/>
<line x1="206.7" y1="2088.4" x2="210.7" y2="2088.4" stroke="#A6A6A6" stroke-width="1"/>
<line x1="968.6" y1="2088.4" x2="972.6" y2="2088.4" stroke="#A6A6A6" stroke-width="1"/>
<text x="159.0" y="2092.9" font-size="12.5" fill="#222" text-anchor="end">非银金融</text>
<text x="198.0" y="2092.9" font-size="13" fill="#222" text-anchor="end">11.61</text>
<text x="981.0" y="2092.9" font-size="13" fill="#222">23.71</text>
<text x="299.8" y="2092.9" font-size="13" fill="#222" text-anchor="end">13.73</text>
<circle cx="313.8" cy="2088.4" r="4.4" fill="#4472C4" stroke="#C98B5A" stroke-width="0.9"/>
<line x1="206.7" y1="2108.9" x2="210.7" y2="2108.9" stroke="#A6A6A6" stroke-width="1"/>
<line x1="968.6" y1="2108.9" x2="972.6" y2="2108.9" stroke="#A6A6A6" stroke-width="1"/>
<text x="159.0" y="2113.4" font-size="12.5" fill="#222" text-anchor="end">农林牧渔</text>
<text x="198.0" y="2113.4" font-size="13" fill="#222" text-anchor="end">14.95</text>
<text x="981.0" y="2113.4" font-size="13" fill="#222">133.51</text>
<text x="297.3" y="2113.4" font-size="13" fill="#222" text-anchor="end">19.15</text>
<circle cx="311.3" cy="2108.9" r="4.4" fill="#4472C4" stroke="#C98B5A" stroke-width="0.9"/>
<line x1="206.7" y1="2129.4" x2="210.7" y2="2129.4" stroke="#A6A6A6" stroke-width="1"/>
<line x1="968.6" y1="2129.4" x2="972.6" y2="2129.4" stroke="#A6A6A6" stroke-width="1"/>
<text x="159.0" y="2133.9" font-size="12.5" fill="#222" text-anchor="end">纺织服饰</text>
<text x="198.0" y="2133.9" font-size="13" fill="#222" text-anchor="end">14.98</text>
<text x="981.0" y="2133.9" font-size="13" fill="#222">39.60</text>
<text x="284.9" y="2133.9" font-size="13" fill="#222" text-anchor="end">19.37</text>
<circle cx="298.9" cy="2129.4" r="4.4" fill="#4472C4" stroke="#C98B5A" stroke-width="0.9"/>
<line x1="206.7" y1="2150.0" x2="210.7" y2="2150.0" stroke="#A6A6A6" stroke-width="1"/>
<line x1="968.6" y1="2150.0" x2="972.6" y2="2150.0" stroke="#A6A6A6" stroke-width="1"/>
<text x="159.0" y="2154.5" font-size="12.5" fill="#222" text-anchor="end">食品饮料</text>
<text x="198.0" y="2154.5" font-size="13" fill="#222" text-anchor="end">16.52</text>
<text x="981.0" y="2154.5" font-size="13" fill="#222">62.96</text>
<text x="267.5" y="2154.5" font-size="13" fill="#222" text-anchor="end">21.18</text>
<circle cx="281.5" cy="2150.0" r="4.4" fill="#4472C4" stroke="#C98B5A" stroke-width="0.9"/>
<line x1="206.7" y1="2170.5" x2="210.7" y2="2170.5" stroke="#A6A6A6" stroke-width="1"/>
<line x1="968.6" y1="2170.5" x2="972.6" y2="2170.5" stroke="#A6A6A6" stroke-width="1"/>
<text x="159.0" y="2175.0" font-size="12.5" fill="#222" text-anchor="end">公用事业</text>
<text x="198.0" y="2175.0" font-size="13" fill="#222" text-anchor="end">15.44</text>
<text x="981.0" y="2175.0" font-size="13" fill="#222">30.14</text>
<text x="224.6" y="2175.0" font-size="13" fill="#222" text-anchor="end">16.83</text>
<circle cx="238.6" cy="2170.5" r="4.4" fill="#4472C4" stroke="#C98B5A" stroke-width="0.9"/>
<line x1="206.7" y1="2191.0" x2="210.7" y2="2191.0" stroke="#A6A6A6" stroke-width="1"/>
<line x1="968.6" y1="2191.0" x2="972.6" y2="2191.0" stroke="#A6A6A6" stroke-width="1"/>
<text x="159.0" y="2195.5" font-size="12.5" fill="#222" text-anchor="end">沪深300</text>
<text x="198.0" y="2195.5" font-size="13" fill="#222" text-anchor="end">10.09</text>
<text x="981.0" y="2195.5" font-size="13" fill="#222">17.45</text>
<text x="541.0" y="2195.5" font-size="13" fill="#222" text-anchor="end">10.50</text>
<circle cx="555.0" cy="2191.0" r="4.4" fill="#4472C4" stroke="#C98B5A" stroke-width="0.9"/>
<line x1="206.7" y1="2211.5" x2="210.7" y2="2211.5" stroke="#A6A6A6" stroke-width="1"/>
<line x1="968.6" y1="2211.5" x2="972.6" y2="2211.5" stroke="#A6A6A6" stroke-width="1"/>
<text x="159.0" y="2216.0" font-size="12.5" fill="#222" text-anchor="end">上证指数</text>
<text x="198.0" y="2216.0" font-size="13" fill="#222" text-anchor="end">10.85</text>
<text x="981.0" y="2216.0" font-size="13" fill="#222">16.97</text>
<text x="719.8" y="2216.0" font-size="13" fill="#222" text-anchor="end">13.85</text>
<circle cx="733.8" cy="2211.5" r="4.4" fill="#4472C4" stroke="#C98B5A" stroke-width="0.9"/>
<text x="143.0" y="1519.0" font-size="11.7" fill="#222" style='font-family:"Liberation Sans","Noto Sans CJK SC",sans-serif'>历史最低PE</text>
<text x="984.0" y="1513.0" font-size="11.7" fill="#222" style='font-family:"Liberation Sans","Noto Sans CJK SC",sans-serif'>历史最高PE</text>
<circle cx="452" cy="1480" r="3.5" fill="#4472C4"/>
<text x="458.0" y="1484.5" font-size="12.5" fill="#111">PE历史分位数（2018年至今）</text>
<line x1="84.0" y1="2305.0" x2="1036.5" y2="2305.0" stroke="#E6E6E6" stroke-width="1"/>
<line x1="79.0" y1="2305.0" x2="84.0" y2="2305.0" stroke="#595959" stroke-width="1"/>
<text x="71.0" y="2310.0" font-size="14" fill="#595959" text-anchor="end">40%</text>
<line x1="84.0" y1="2401.8" x2="1036.5" y2="2401.8" stroke="#E6E6E6" stroke-width="1"/>
<line x1="79.0" y1="2401.8" x2="84.0" y2="2401.8" stroke="#595959" stroke-width="1"/>
<text x="71.0" y="2406.8" font-size="14" fill="#595959" text-anchor="end">35%</text>
<line x1="84.0" y1="2498.6" x2="1036.5" y2="2498.6" stroke="#E6E6E6" stroke-width="1"/>
<line x1="79.0" y1="2498.6" x2="84.0" y2="2498.6" stroke="#595959" stroke-width="1"/>
<text x="71.0" y="2503.6" font-size="14" fill="#595959" text-anchor="end">30%</text>
<line x1="84.0" y1="2595.4" x2="1036.5" y2="2595.4" stroke="#E6E6E6" stroke-width="1"/>
<line x1="79.0" y1="2595.4" x2="84.0" y2="2595.4" stroke="#595959" stroke-width="1"/>
<text x="71.0" y="2600.4" font-size="14" fill="#595959" text-anchor="end">25%</text>
<line x1="84.0" y1="2692.3" x2="1036.5" y2="2692.3" stroke="#E6E6E6" stroke-width="1"/>
<line x1="79.0" y1="2692.3" x2="84.0" y2="2692.3" stroke="#595959" stroke-width="1"/>
<text x="71.0" y="2697.3" font-size="14" fill="#595959" text-anchor="end">20%</text>
<line x1="84.0" y1="2789.1" x2="1036.5" y2="2789.1" stroke="#E6E6E6" stroke-width="1"/>
<line x1="79.0" y1="2789.1" x2="84.0" y2="2789.1" stroke="#595959" stroke-width="1"/>
<text x="71.0" y="2794.1" font-size="14" fill="#595959" text-anchor="end">15%</text>
<line x1="84.0" y1="2885.9" x2="1036.5" y2="2885.9" stroke="#E6E6E6" stroke-width="1"/>
<line x1="79.0" y1="2885.9" x2="84.0" y2="2885.9" stroke="#595959" stroke-width="1"/>
<text x="71.0" y="2890.9" font-size="14" fill="#595959" text-anchor="end">10%</text>
<line x1="84.0" y1="2982.7" x2="1036.5" y2="2982.7" stroke="#E6E6E6" stroke-width="1"/>
<line x1="79.0" y1="2982.7" x2="84.0" y2="2982.7" stroke="#595959" stroke-width="1"/>
<text x="71.0" y="2987.7" font-size="14" fill="#595959" text-anchor="end">5%</text>
<line x1="84.0" y1="2982.7" x2="84.0" y2="2987.7" stroke="#595959" stroke-width="1"/>
<text x="84.0" y="3005.0" font-size="14" fill="#595959" text-anchor="middle">50%</text>
<line x1="179.2" y1="2305.0" x2="179.2" y2="2982.7" stroke="#E6E6E6" stroke-width="1"/>
<line x1="179.2" y1="2982.7" x2="179.2" y2="2987.7" stroke="#595959" stroke-width="1"/>
<text x="179.2" y="3005.0" font-size="14" fill="#595959" text-anchor="middle">55%</text>
<line x1="274.5" y1="2305.0" x2="274.5" y2="2982.7" stroke="#E6E6E6" stroke-width="1"/>
<line x1="274.5" y1="2982.7" x2="274.5" y2="2987.7" stroke="#595959" stroke-width="1"/>
<text x="274.5" y="3005.0" font-size="14" fill="#595959" text-anchor="middle">60%</text>
<line x1="369.8" y1="2305.0" x2="369.8" y2="2982.7" stroke="#E6E6E6" stroke-width="1"/>
<line x1="369.8" y1="2982.7" x2="369.8" y2="2987.7" stroke="#595959" stroke-width="1"/>
<text x="369.8" y="3005.0" font-size="14" fill="#595959" text-anchor="middle">65%</text>
<line x1="465.0" y1="2305.0" x2="465.0" y2="2982.7" stroke="#E6E6E6" stroke-width="1"/>
<line x1="465.0" y1="2982.7" x2="465.0" y2="2987.7" stroke="#595959" stroke-width="1"/>
<text x="465.0" y="3005.0" font-size="14" fill="#595959" text-anchor="middle">70%</text>
<line x1="560.2" y1="2305.0" x2="560.2" y2="2982.7" stroke="#E6E6E6" stroke-width="1"/>
<line x1="560.2" y1="2982.7" x2="560.2" y2="2987.7" stroke="#595959" stroke-width="1"/>
<text x="560.2" y="3005.0" font-size="14" fill="#595959" text-anchor="middle">75%</text>
<line x1="655.5" y1="2305.0" x2="655.5" y2="2982.7" stroke="#E6E6E6" stroke-width="1"/>
<line x1="655.5" y1="2982.7" x2="655.5" y2="2987.7" stroke="#595959" stroke-width="1"/>
<text x="655.5" y="3005.0" font-size="14" fill="#595959" text-anchor="middle">80%</text>
<line x1="750.8" y1="2305.0" x2="750.8" y2="2982.7" stroke="#E6E6E6" stroke-width="1"/>
<line x1="750.8" y1="2982.7" x2="750.8" y2="2987.7" stroke="#595959" stroke-width="1"/>
<text x="750.8" y="3005.0" font-size="14" fill="#595959" text-anchor="middle">85%</text>
<line x1="846.0" y1="2305.0" x2="846.0" y2="2982.7" stroke="#E6E6E6" stroke-width="1"/>
<line x1="846.0" y1="2982.7" x2="846.0" y2="2987.7" stroke="#595959" stroke-width="1"/>
<text x="846.0" y="3005.0" font-size="14" fill="#595959" text-anchor="middle">90%</text>
<line x1="941.2" y1="2305.0" x2="941.2" y2="2982.7" stroke="#E6E6E6" stroke-width="1"/>
<line x1="941.2" y1="2982.7" x2="941.2" y2="2987.7" stroke="#595959" stroke-width="1"/>
<text x="941.2" y="3005.0" font-size="14" fill="#595959" text-anchor="middle">95%</text>
<line x1="1036.5" y1="2305.0" x2="1036.5" y2="2982.7" stroke="#E6E6E6" stroke-width="1"/>
<line x1="1036.5" y1="2982.7" x2="1036.5" y2="2987.7" stroke="#595959" stroke-width="1"/>
<text x="1036.5" y="3005.0" font-size="14" fill="#595959" text-anchor="middle">100%</text>
<g clip-path="url(#cpb)">
<circle cx="154" cy="2353.3" r="44.7" fill="#4472C4" fill-opacity="0.76"/>
<circle cx="486" cy="2311" r="25" fill="#4472C4" fill-opacity="0.76"/>
<circle cx="432.6" cy="2362.7" r="28" fill="#4472C4" fill-opacity="0.76"/>
<circle cx="527" cy="2482.6" r="17.4" fill="#4472C4" fill-opacity="0.76"/>
<circle cx="329.4" cy="2585.8" r="35.4" fill="#4472C4" fill-opacity="0.76"/>
<circle cx="679.8" cy="2349" r="18.6" fill="#4472C4" fill-opacity="0.76"/>
<circle cx="779.3" cy="2345.3" r="85" fill="#4472C4" fill-opacity="0.76"/>
<circle cx="1031" cy="2340" r="46.6" fill="#4472C4" fill-opacity="0.76"/>
<circle cx="978.8" cy="2367" r="35.4" fill="#4472C4" fill-opacity="0.76"/>
<circle cx="845" cy="2414.9" r="20" fill="#4472C4" fill-opacity="0.76"/>
<circle cx="1008" cy="2424.8" r="42.3" fill="#4472C4" fill-opacity="0.76"/>
<circle cx="919.7" cy="2487" r="34.8" fill="#4472C4" fill-opacity="0.76"/>
<circle cx="827.8" cy="2512.4" r="25.5" fill="#4472C4" fill-opacity="0.76"/>
<circle cx="927.2" cy="2529.8" r="41.6" fill="#4472C4" fill-opacity="0.76"/>
<circle cx="684.2" cy="2562.2" r="67" fill="#4472C4" fill-opacity="0.76"/>
<circle cx="982.5" cy="2582" r="14.3" fill="#4472C4" fill-opacity="0.76"/>
<circle cx="957.7" cy="2638.6" r="49.7" fill="#4472C4" fill-opacity="0.76"/>
<circle cx="791" cy="2647.3" r="19.3" fill="#4472C4" fill-opacity="0.76"/>
<circle cx="900.5" cy="2678.4" r="36" fill="#4472C4" fill-opacity="0.76"/>
<circle cx="755.7" cy="2719.2" r="20" fill="#4472C4" fill-opacity="0.76"/>
<circle cx="662.4" cy="2749.6" r="52.2" fill="#4472C4" fill-opacity="0.76"/>
<circle cx="858.8" cy="2747.7" r="23.6" fill="#4472C4" fill-opacity="0.76"/>
<circle cx="745.1" cy="2786.9" r="46.6" fill="#4472C4" fill-opacity="0.76"/>
<circle cx="954.5" cy="2786.9" r="35.4" fill="#4472C4" fill-opacity="0.76"/>
<circle cx="709" cy="2815.5" r="58.4" fill="#4472C4" fill-opacity="0.76"/>
<circle cx="878.1" cy="2852.8" r="23.6" fill="#4472C4" fill-opacity="0.76"/>
<circle cx="731.4" cy="2880.1" r="31" fill="#4472C4" fill-opacity="0.76"/>
<circle cx="973.2" cy="2888.2" r="51.6" fill="#4472C4" fill-opacity="0.76"/>
<circle cx="819.7" cy="2920.5" r="59" fill="#4472C4" fill-opacity="0.76"/>
<circle cx="870.6" cy="2972.1" r="63.4" fill="#4472C4" fill-opacity="0.76"/>
</g>
<line x1="84.0" y1="2305.0" x2="84.0" y2="2982.7" stroke="#595959" stroke-width="1.3"/>
<line x1="84.0" y1="2982.7" x2="1036.5" y2="2982.7" stroke="#595959" stroke-width="1.3"/>
<text x="154.0" y="2358.8" font-size="15.5" fill="#ED7D31" text-anchor="middle">通信, 3.72%</text>
<text x="486.0" y="2316.5" font-size="15.5" fill="#ED7D31" text-anchor="middle">房地产, 1.19%</text>
<text x="432.6" y="2368.2" font-size="15.5" fill="#ED7D31" text-anchor="middle">建筑装饰, 1.50%</text>
<text x="527.0" y="2488.1" font-size="15.5" fill="#ED7D31" text-anchor="middle">煤炭, 0.61%</text>
<text x="329.4" y="2591.3" font-size="15.5" fill="#ED7D31" text-anchor="middle">传媒, 2.40%</text>
<text x="679.8" y="2354.5" font-size="15.5" fill="#ED7D31" text-anchor="middle">建筑材料, 0.68%</text>
<text x="779.3" y="2350.8" font-size="15.5" fill="#ED7D31" text-anchor="middle">电子, 13.62%</text>
<text x="1009.0" y="2345.5" font-size="15.5" fill="#ED7D31" text-anchor="middle">农林牧渔, 3.69%</text>
<text x="978.8" y="2372.5" font-size="15.5" fill="#ED7D31" text-anchor="middle">交通运输, 2.44%</text>
<text x="845.0" y="2420.4" font-size="15.5" fill="#ED7D31" text-anchor="middle">石油石化, 0.77%</text>
<text x="1008.0" y="2430.3" font-size="15.5" fill="#ED7D31" text-anchor="middle">食品饮料, 3.46%</text>
<text x="919.7" y="2492.5" font-size="15.5" fill="#ED7D31" text-anchor="middle">商贸零售, 2.35%</text>
<text x="827.8" y="2517.9" font-size="15.5" fill="#ED7D31" text-anchor="middle">社会服务, 1.28%</text>
<text x="927.2" y="2535.3" font-size="15.5" fill="#ED7D31" text-anchor="middle">国防军工, 3.34%</text>
<text x="684.2" y="2567.7" font-size="15.5" fill="#ED7D31" text-anchor="middle">计算机, 8.64%</text>
<text x="982.5" y="2587.5" font-size="15.5" fill="#ED7D31" text-anchor="middle">美容护理, 0.40%</text>
<text x="957.7" y="2644.1" font-size="15.5" fill="#ED7D31" text-anchor="middle">有色金属, 4.61%</text>
<text x="791.0" y="2652.8" font-size="15.5" fill="#ED7D31" text-anchor="middle">纺织服饰, 0.73%</text>
<text x="900.5" y="2683.9" font-size="15.5" fill="#ED7D31" text-anchor="middle">公用事业, 2.44%</text>
<text x="755.7" y="2724.7" font-size="15.5" fill="#ED7D31" text-anchor="middle">钢铁, 0.80%</text>
<text x="662.4" y="2755.1" font-size="15.5" fill="#ED7D31" text-anchor="middle">汽车, 5.18%</text>
<text x="858.8" y="2753.2" font-size="15.5" fill="#ED7D31" text-anchor="middle">轻工制造, 1.08%</text>
<text x="745.1" y="2792.4" font-size="15.5" fill="#ED7D31" text-anchor="middle">非银金融, 4.07%</text>
<text x="954.5" y="2792.4" font-size="15.5" fill="#ED7D31" text-anchor="middle">银行, 2.39%</text>
<text x="709.0" y="2821.0" font-size="15.5" fill="#ED7D31" text-anchor="middle">电力设备, 6.55%</text>
<text x="878.1" y="2858.3" font-size="15.5" fill="#ED7D31" text-anchor="middle">环保, 1.10%</text>
<text x="731.4" y="2885.6" font-size="15.5" fill="#ED7D31" text-anchor="middle">家用电器, 1.84%</text>
<text x="973.2" y="2893.7" font-size="15.5" fill="#ED7D31" text-anchor="middle">基础化工, 5.01%</text>
<text x="819.7" y="2926.0" font-size="15.5" fill="#ED7D31" text-anchor="middle">医药生物, 6.56%</text>
<text x="870.6" y="2977.6" font-size="15.5" fill="#ED7D31" text-anchor="middle">机械设备, 7.56%</text>
<text x="39.0" y="2663.0" font-size="14" fill="#595959" text-anchor="middle" transform="rotate(-90 39.0 2663.0)">换手率分位环比上周变动</text>
<text x="575.0" y="3030.5" font-size="14.5" fill="#595959" text-anchor="middle">滚动3年换手率MA5 分位数（气泡大小为成交额占比）</text>
<line x1="0.0" y1="3052.3" x2="1080.0" y2="3052.3" stroke="#2a2a2a" stroke-width="1"/>
<line x1="0.0" y1="3084.5" x2="1080.0" y2="3084.5" stroke="#2a2a2a" stroke-width="1"/>
<line x1="0.0" y1="3115.6" x2="1080.0" y2="3115.6" stroke="#2a2a2a" stroke-width="1"/>
<line x1="0.0" y1="3197.6" x2="1080.0" y2="3197.6" stroke="#2a2a2a" stroke-width="1"/>
</svg>
<div class="ft" style="top:3056px;line-height:26px">联系人：谢立昕，执业证书编号：S0550524050003</div>
<div class="ft" style="top:3088px;line-height:26px"><b>风险提示：</b>因口径差异造成的统计误差</div>
<div class="ft" style="top:3121px;line-height:24.3px"><b>重要声明：</b>本报告仅供参考，并不构成对所述证券买卖的出价或征价。在任何情况下，本报告中的信息或所表述的意见均不构成对任<br>何人的证券买卖建议。本公司及其雇员不承诺投资者一定获利，不与投资者分享投资收益，在任何情况下，我公司及其雇员对任何人<br>使用本报告及其内容所引发的任何直接或间接损失概不负责。</div>
<div class="wm">公众号 · 东北策略研究</div>
<svg width="34" height="30" viewBox="0 0 34 30" style="position:absolute;left:687px;top:3134px;opacity:.38"><ellipse cx="13" cy="12" rx="12" ry="10.5" fill="#6e6e6e"/><ellipse cx="23" cy="19" rx="10" ry="8.5" fill="#6e6e6e" stroke="#fff" stroke-width="1.5"/><circle cx="9" cy="9" r="1.6" fill="#fff"/><circle cx="17" cy="9" r="1.6" fill="#fff"/><circle cx="20" cy="17" r="1.3" fill="#fff"/><circle cx="26.5" cy="17" r="1.3" fill="#fff"/></svg>
<div class="edgeL"></div><div style="position:absolute;left:1078.8px;top:0;width:1.2px;height:89px;background:#1a1a2a"></div>
</body></html>
